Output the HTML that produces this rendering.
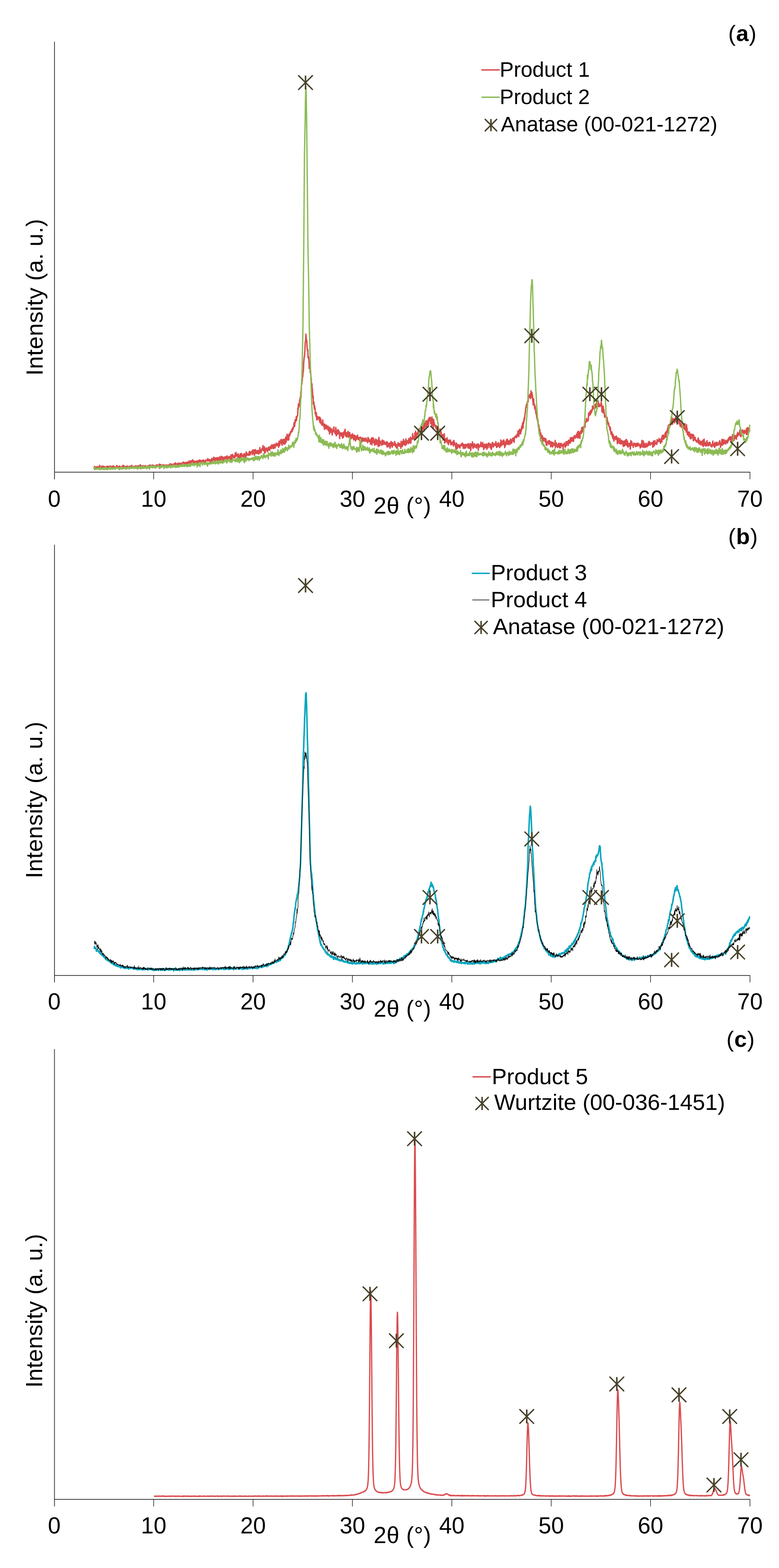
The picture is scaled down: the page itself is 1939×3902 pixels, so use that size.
<!DOCTYPE html><html><head><meta charset="utf-8"><title>XRD patterns</title><style>html,body{margin:0;padding:0;background:#fff;overflow:hidden}svg{display:block}</style></head><body>
<svg width="1939" height="3902" viewBox="0 0 1939 3902" font-family="'Liberation Sans', Arial, sans-serif">
<rect width="1939" height="3902" fill="#fff"/>
<polyline fill="none" stroke="#DB4C4E" stroke-width="3.5" stroke-linejoin="round" points="233.4,1163.6 234.0,1164.5 234.6,1163.6 235.2,1160.6 235.8,1164.6 236.4,1163.8 237.0,1162.0 237.6,1164.0 238.2,1163.6 238.8,1163.5 239.4,1163.0 240.0,1163.9 240.6,1161.6 241.2,1162.6 241.8,1162.1 242.4,1164.0 243.0,1163.0 243.6,1162.4 244.2,1161.5 244.8,1162.4 245.4,1162.9 246.0,1162.4 246.6,1165.2 247.2,1164.7 247.8,1158.0 248.4,1159.5 249.0,1162.6 249.6,1162.1 250.2,1163.2 250.8,1163.2 251.4,1166.7 252.0,1160.8 252.6,1162.2 253.2,1166.5 253.8,1164.0 254.4,1164.0 255.0,1161.9 255.6,1159.8 256.2,1163.1 256.8,1163.0 257.4,1160.6 258.0,1161.6 258.6,1162.6 259.2,1161.1 259.8,1162.6 260.4,1162.9 261.0,1162.8 261.6,1161.8 262.2,1163.8 262.8,1164.3 263.4,1163.3 264.0,1161.2 264.6,1164.0 265.2,1161.8 265.8,1164.3 266.4,1160.8 267.0,1164.3 267.6,1162.6 268.2,1160.4 268.8,1162.1 269.4,1162.8 270.0,1163.1 270.6,1160.9 271.2,1160.7 271.8,1163.0 272.4,1161.8 273.0,1163.0 273.6,1164.0 274.2,1159.6 274.8,1163.1 275.4,1164.8 276.0,1162.1 276.6,1161.1 277.2,1163.9 277.8,1163.0 278.4,1164.2 279.0,1161.9 279.6,1159.9 280.2,1162.3 280.8,1161.7 281.4,1163.9 282.0,1162.9 282.6,1159.6 283.2,1160.4 283.8,1164.1 284.4,1163.7 285.0,1161.3 285.6,1162.5 286.2,1163.3 286.8,1163.3 287.4,1164.0 288.0,1162.9 288.6,1162.3 289.2,1162.0 289.8,1164.3 290.4,1158.4 291.0,1162.2 291.6,1162.5 292.2,1159.8 292.8,1163.0 293.4,1161.2 294.0,1163.9 294.6,1162.1 295.2,1163.6 295.8,1164.6 296.4,1163.0 297.0,1160.8 297.6,1159.6 298.2,1165.5 298.8,1162.1 299.4,1161.1 300.0,1162.6 300.6,1162.0 301.2,1163.8 301.8,1162.3 302.4,1162.3 303.0,1161.0 303.6,1163.1 304.2,1160.4 304.8,1163.4 305.4,1165.0 306.0,1159.5 306.6,1157.8 307.2,1163.3 307.8,1166.8 308.4,1160.4 309.0,1159.9 309.6,1163.2 310.2,1160.7 310.8,1161.3 311.4,1161.5 312.0,1163.1 312.6,1161.4 313.2,1162.6 313.8,1161.8 314.4,1160.6 315.0,1161.5 315.6,1160.4 316.2,1162.1 316.8,1160.1 317.4,1160.1 318.0,1164.7 318.6,1162.0 319.2,1161.9 319.8,1163.0 320.4,1161.3 321.0,1161.6 321.6,1162.8 322.2,1162.5 322.8,1159.9 323.4,1163.5 324.0,1160.9 324.6,1160.1 325.2,1160.3 325.8,1161.2 326.4,1164.9 327.0,1159.8 327.6,1162.2 328.2,1158.0 328.8,1161.9 329.4,1163.5 330.0,1161.4 330.6,1160.7 331.2,1162.3 331.8,1163.1 332.4,1163.0 333.0,1165.4 333.6,1162.2 334.2,1160.7 334.8,1161.5 335.4,1161.6 336.0,1161.9 336.6,1161.7 337.2,1162.0 337.8,1158.7 338.4,1163.2 339.0,1160.6 339.6,1159.5 340.2,1162.8 340.8,1164.0 341.4,1162.5 342.0,1161.9 342.6,1159.9 343.2,1166.8 343.8,1163.2 344.4,1159.5 345.0,1160.1 345.6,1161.7 346.2,1158.7 346.8,1161.8 347.4,1160.6 348.0,1163.7 348.6,1163.2 349.2,1156.5 349.8,1161.5 350.4,1158.4 351.0,1163.4 351.6,1161.7 352.2,1162.4 352.8,1159.4 353.4,1164.7 354.0,1165.0 354.6,1159.3 355.2,1162.0 355.8,1160.0 356.4,1161.2 357.0,1158.9 357.6,1164.7 358.2,1159.4 358.8,1160.6 359.4,1162.1 360.0,1159.9 360.6,1160.7 361.2,1160.1 361.8,1160.8 362.4,1158.9 363.0,1160.2 363.6,1160.6 364.2,1160.4 364.8,1161.1 365.4,1160.4 366.0,1162.3 366.6,1160.3 367.2,1160.6 367.8,1159.6 368.4,1159.9 369.0,1158.5 369.6,1161.8 370.2,1158.6 370.8,1159.4 371.4,1161.4 372.0,1161.5 372.6,1160.0 373.2,1156.9 373.8,1161.5 374.4,1161.1 375.0,1157.9 375.6,1162.1 376.2,1159.2 376.8,1158.4 377.4,1160.7 378.0,1160.2 378.6,1160.9 379.2,1157.4 379.8,1163.9 380.4,1159.3 381.0,1157.4 381.6,1161.5 382.2,1159.7 382.8,1160.9 383.4,1159.6 384.0,1160.1 384.6,1160.7 385.2,1158.8 385.8,1161.5 386.4,1159.3 387.0,1158.5 387.6,1160.2 388.2,1160.9 388.8,1159.6 389.4,1158.3 390.0,1161.2 390.6,1156.6 391.2,1157.9 391.8,1160.0 392.4,1157.2 393.0,1159.9 393.6,1159.7 394.2,1161.5 394.8,1158.0 395.4,1158.5 396.0,1160.3 396.6,1154.8 397.2,1165.7 397.8,1158.2 398.4,1158.1 399.0,1161.2 399.6,1159.4 400.2,1155.9 400.8,1160.6 401.4,1161.0 402.0,1158.4 402.6,1158.7 403.2,1160.2 403.8,1157.4 404.4,1160.0 405.0,1159.5 405.6,1157.8 406.2,1156.3 406.8,1158.6 407.4,1157.2 408.0,1160.9 408.6,1159.2 409.2,1160.4 409.8,1159.1 410.4,1159.3 411.0,1157.2 411.6,1160.0 412.2,1162.2 412.8,1158.0 413.4,1157.4 414.0,1158.2 414.6,1157.5 415.2,1157.0 415.8,1158.7 416.4,1157.8 417.0,1161.2 417.6,1158.3 418.2,1158.9 418.8,1160.1 419.4,1157.5 420.0,1161.0 420.6,1156.7 421.2,1156.3 421.8,1157.2 422.4,1157.6 423.0,1154.9 423.6,1157.7 424.2,1154.3 424.8,1160.6 425.4,1157.5 426.0,1156.2 426.6,1155.6 427.2,1156.7 427.8,1156.9 428.4,1155.2 429.0,1155.4 429.6,1156.9 430.2,1156.1 430.8,1159.1 431.4,1159.5 432.0,1157.1 432.6,1158.0 433.2,1154.1 433.8,1158.2 434.4,1156.7 435.0,1157.8 435.6,1160.1 436.2,1151.7 436.8,1157.1 437.4,1154.1 438.0,1157.7 438.6,1153.5 439.2,1155.2 439.8,1156.6 440.4,1157.4 441.0,1156.2 441.6,1154.2 442.2,1154.7 442.8,1157.7 443.4,1155.7 444.0,1151.9 444.6,1157.4 445.2,1156.4 445.8,1157.3 446.4,1154.5 447.0,1157.0 447.6,1152.7 448.2,1156.3 448.8,1153.8 449.4,1156.3 450.0,1157.0 450.6,1153.0 451.2,1154.4 451.8,1154.5 452.4,1157.0 453.0,1155.9 453.6,1151.4 454.2,1155.1 454.8,1155.6 455.4,1158.7 456.0,1149.9 456.6,1152.4 457.2,1156.6 457.8,1150.3 458.4,1150.6 459.0,1154.4 459.6,1155.5 460.2,1151.5 460.8,1154.2 461.4,1153.1 462.0,1156.3 462.6,1152.6 463.2,1154.9 463.8,1150.3 464.4,1151.9 465.0,1152.0 465.6,1154.8 466.2,1153.4 466.8,1150.1 467.4,1153.5 468.0,1153.6 468.6,1151.3 469.2,1150.9 469.8,1151.0 470.4,1147.2 471.0,1151.7 471.6,1151.7 472.2,1148.9 472.8,1152.8 473.4,1147.5 474.0,1149.4 474.6,1149.5 475.2,1155.5 475.8,1146.5 476.4,1151.8 477.0,1152.6 477.6,1151.1 478.2,1153.1 478.8,1147.5 479.4,1144.2 480.0,1151.8 480.6,1146.8 481.2,1148.9 481.8,1146.6 482.4,1152.2 483.0,1151.6 483.6,1147.6 484.2,1151.6 484.8,1149.5 485.4,1148.8 486.0,1149.2 486.6,1148.5 487.2,1150.5 487.8,1149.6 488.4,1147.9 489.0,1151.3 489.6,1147.0 490.2,1149.3 490.8,1149.6 491.4,1152.2 492.0,1147.0 492.6,1152.8 493.2,1148.6 493.8,1147.6 494.4,1146.3 495.0,1149.5 495.6,1148.0 496.2,1145.0 496.8,1144.8 497.4,1146.2 498.0,1145.8 498.6,1150.4 499.2,1151.1 499.8,1149.7 500.4,1148.3 501.0,1146.1 501.6,1147.3 502.2,1149.5 502.8,1152.7 503.4,1149.4 504.0,1146.2 504.6,1147.0 505.2,1145.5 505.8,1144.6 506.4,1146.2 507.0,1147.1 507.6,1151.4 508.2,1146.6 508.8,1150.0 509.4,1151.0 510.0,1146.5 510.6,1150.5 511.2,1148.0 511.8,1144.9 512.4,1146.7 513.0,1146.0 513.6,1145.2 514.2,1145.2 514.8,1146.1 515.4,1146.8 516.0,1143.2 516.6,1145.5 517.2,1141.3 517.8,1146.1 518.4,1147.0 519.0,1145.7 519.6,1145.9 520.2,1146.7 520.8,1143.2 521.4,1144.3 522.0,1146.3 522.6,1147.5 523.2,1145.8 523.8,1151.7 524.4,1144.3 525.0,1147.2 525.6,1147.9 526.2,1144.0 526.8,1142.0 527.4,1140.9 528.0,1144.6 528.6,1147.1 529.2,1144.7 529.8,1144.4 530.4,1142.8 531.0,1145.3 531.6,1137.7 532.2,1144.2 532.8,1143.6 533.4,1139.6 534.0,1149.5 534.6,1139.4 535.2,1140.2 535.8,1139.7 536.4,1146.2 537.0,1140.4 537.6,1144.8 538.2,1144.5 538.8,1143.5 539.4,1138.9 540.0,1140.8 540.6,1147.3 541.2,1138.7 541.8,1140.0 542.4,1141.8 543.0,1144.5 543.6,1142.8 544.2,1144.1 544.8,1138.9 545.4,1144.6 546.0,1143.4 546.6,1137.1 547.2,1146.1 547.8,1148.2 548.4,1139.2 549.0,1141.5 549.6,1145.3 550.2,1136.9 550.8,1135.3 551.4,1137.3 552.0,1139.3 552.6,1139.2 553.2,1142.6 553.8,1141.5 554.4,1137.0 555.0,1142.2 555.6,1146.0 556.2,1143.9 556.8,1143.2 557.4,1140.3 558.0,1143.0 558.6,1137.2 559.2,1142.2 559.8,1139.6 560.4,1143.1 561.0,1141.1 561.6,1136.4 562.2,1139.9 562.8,1143.1 563.4,1136.0 564.0,1137.6 564.6,1136.9 565.2,1134.6 565.8,1141.9 566.4,1142.9 567.0,1141.2 567.6,1139.5 568.2,1138.5 568.8,1139.3 569.4,1136.3 570.0,1141.1 570.6,1141.5 571.2,1141.0 571.8,1136.5 572.4,1138.3 573.0,1137.4 573.6,1143.3 574.2,1138.3 574.8,1131.9 575.4,1138.8 576.0,1143.2 576.6,1139.5 577.2,1140.0 577.8,1137.3 578.4,1131.0 579.0,1131.4 579.6,1133.1 580.2,1136.4 580.8,1137.7 581.4,1138.7 582.0,1135.4 582.6,1139.4 583.2,1135.4 583.8,1134.0 584.4,1138.8 585.0,1133.2 585.6,1127.4 586.2,1132.5 586.8,1136.0 587.4,1125.9 588.0,1134.4 588.6,1134.3 589.2,1130.8 589.8,1130.5 590.4,1133.6 591.0,1133.2 591.6,1138.9 592.2,1136.0 592.8,1129.6 593.4,1131.8 594.0,1136.7 594.6,1140.4 595.2,1135.5 595.8,1135.1 596.4,1140.0 597.0,1133.8 597.6,1132.8 598.2,1129.1 598.8,1131.9 599.4,1140.5 600.0,1128.8 600.6,1133.3 601.2,1128.6 601.8,1133.4 602.4,1135.8 603.0,1132.0 603.6,1135.0 604.2,1134.9 604.8,1133.9 605.4,1137.9 606.0,1134.8 606.6,1131.1 607.2,1129.8 607.8,1129.1 608.4,1133.3 609.0,1130.6 609.6,1140.5 610.2,1137.5 610.8,1130.6 611.4,1130.1 612.0,1136.6 612.6,1124.7 613.2,1129.3 613.8,1133.8 614.4,1127.5 615.0,1128.9 615.6,1129.2 616.2,1132.4 616.8,1130.5 617.4,1131.3 618.0,1131.8 618.6,1129.8 619.2,1133.3 619.8,1127.0 620.4,1124.5 621.0,1123.2 621.6,1123.6 622.2,1127.1 622.8,1132.3 623.4,1129.3 624.0,1126.6 624.6,1124.8 625.2,1126.5 625.8,1126.8 626.4,1126.2 627.0,1123.1 627.6,1126.2 628.2,1131.2 628.8,1120.1 629.4,1126.6 630.0,1120.0 630.6,1127.8 631.2,1124.5 631.8,1119.7 632.4,1127.2 633.0,1133.0 633.6,1127.0 634.2,1130.5 634.8,1126.1 635.4,1118.7 636.0,1127.8 636.6,1124.5 637.2,1120.7 637.8,1128.4 638.4,1126.6 639.0,1123.6 639.6,1128.4 640.2,1122.1 640.8,1127.3 641.4,1121.6 642.0,1126.7 642.6,1120.7 643.2,1129.8 643.8,1125.3 644.4,1129.3 645.0,1121.2 645.6,1122.3 646.2,1126.8 646.8,1113.8 647.4,1119.7 648.0,1127.1 648.6,1124.9 649.2,1126.6 649.8,1121.8 650.4,1124.8 651.0,1120.0 651.6,1117.5 652.2,1116.1 652.8,1120.1 653.4,1120.0 654.0,1119.5 654.6,1108.7 655.2,1114.1 655.8,1119.3 656.4,1122.1 657.0,1118.8 657.6,1117.5 658.2,1112.0 658.8,1127.8 659.4,1116.0 660.0,1126.1 660.6,1125.5 661.2,1120.5 661.8,1117.1 662.4,1119.5 663.0,1114.5 663.6,1119.6 664.2,1118.4 664.8,1120.2 665.4,1121.5 666.0,1124.2 666.6,1116.0 667.2,1121.2 667.8,1114.0 668.4,1113.3 669.0,1114.1 669.6,1112.5 670.2,1119.8 670.8,1119.3 671.4,1120.4 672.0,1115.2 672.6,1116.1 673.2,1112.5 673.8,1110.0 674.4,1116.0 675.0,1115.0 675.6,1109.4 676.2,1115.8 676.8,1106.4 677.4,1112.3 678.0,1110.2 678.6,1110.4 679.2,1107.9 679.8,1115.7 680.4,1114.0 681.0,1116.2 681.6,1111.7 682.2,1105.8 682.8,1109.2 683.4,1105.7 684.0,1112.0 684.6,1114.8 685.2,1111.0 685.8,1107.0 686.4,1107.7 687.0,1109.8 687.6,1102.8 688.2,1109.0 688.8,1109.0 689.4,1105.7 690.0,1105.9 690.6,1108.1 691.2,1103.8 691.8,1103.5 692.4,1109.8 693.0,1107.2 693.6,1113.0 694.2,1101.7 694.8,1098.1 695.4,1109.1 696.0,1108.9 696.6,1101.5 697.2,1098.2 697.8,1103.8 698.4,1096.3 699.0,1101.9 699.6,1093.8 700.2,1101.7 700.8,1093.4 701.4,1101.0 702.0,1108.2 702.6,1100.2 703.2,1104.3 703.8,1097.9 704.4,1096.4 705.0,1093.4 705.6,1104.0 706.2,1098.8 706.8,1105.7 707.4,1093.1 708.0,1096.8 708.6,1097.7 709.2,1103.1 709.8,1104.5 710.4,1093.1 711.0,1090.4 711.6,1087.2 712.2,1100.4 712.8,1093.4 713.4,1090.3 714.0,1092.4 714.6,1080.4 715.2,1083.5 715.8,1095.0 716.4,1091.9 717.0,1090.0 717.6,1083.9 718.2,1090.4 718.8,1095.1 719.4,1080.0 720.0,1084.8 720.6,1081.5 721.2,1084.2 721.8,1081.3 722.4,1079.3 723.0,1074.5 723.6,1077.3 724.2,1073.1 724.8,1074.0 725.4,1073.0 726.0,1075.1 726.6,1067.8 727.2,1067.6 727.8,1072.9 728.4,1065.3 729.0,1063.7 729.6,1067.7 730.2,1063.5 730.8,1061.3 731.4,1060.6 732.0,1052.2 732.6,1058.9 733.2,1061.6 733.8,1056.5 734.4,1044.7 735.0,1051.8 735.6,1044.4 736.2,1045.8 736.8,1045.5 737.4,1037.0 738.0,1046.7 738.6,1037.3 739.2,1038.5 739.8,1034.7 740.4,1034.9 741.0,1030.9 741.6,1014.9 742.2,1019.0 742.8,1005.2 743.4,1010.0 744.0,1012.2 744.6,1009.6 745.2,1007.8 745.8,996.0 746.4,995.4 747.0,990.2 747.6,991.5 748.2,988.5 748.8,974.3 749.4,989.1 750.0,965.3 750.6,957.6 751.2,956.1 751.8,950.8 752.4,944.0 753.0,932.6 753.6,937.3 754.2,924.9 754.8,926.2 755.4,919.5 756.0,900.5 756.6,895.6 757.2,888.9 757.8,887.9 758.4,879.5 759.0,870.5 759.6,854.0 760.2,849.5 760.8,846.9 761.4,831.5 762.0,838.4 762.6,843.8 763.2,846.5 763.8,851.4 764.4,866.5 765.0,869.6 765.6,872.5 766.2,870.1 766.8,890.2 767.4,887.0 768.0,888.4 768.6,895.2 769.2,899.7 769.8,917.1 770.4,912.3 771.0,915.8 771.6,909.3 772.2,927.4 772.8,923.3 773.4,927.8 774.0,941.7 774.6,940.8 775.2,955.3 775.8,963.0 776.4,954.9 777.0,968.6 777.6,967.6 778.2,980.7 778.8,991.1 779.4,985.6 780.0,1006.0 780.6,1000.5 781.2,1000.4 781.8,1009.0 782.4,1016.7 783.0,1009.4 783.6,1019.0 784.2,1015.3 784.8,1030.3 785.4,1027.7 786.0,1027.1 786.6,1036.1 787.2,1026.7 787.8,1032.6 788.4,1044.6 789.0,1036.4 789.6,1044.6 790.2,1040.1 790.8,1036.8 791.4,1039.9 792.0,1042.3 792.6,1040.7 793.2,1039.5 793.8,1040.5 794.4,1037.8 795.0,1046.2 795.6,1048.2 796.2,1050.6 796.8,1039.1 797.4,1052.3 798.0,1049.1 798.6,1043.1 799.2,1051.1 799.8,1055.3 800.4,1054.5 801.0,1056.2 801.6,1057.9 802.2,1058.3 802.8,1054.5 803.4,1045.3 804.0,1052.3 804.6,1058.2 805.2,1054.9 805.8,1061.0 806.4,1062.1 807.0,1059.1 807.6,1068.5 808.2,1055.3 808.8,1065.0 809.4,1058.8 810.0,1057.9 810.6,1065.0 811.2,1059.8 811.8,1067.4 812.4,1058.1 813.0,1064.4 813.6,1060.7 814.2,1064.0 814.8,1063.8 815.4,1060.6 816.0,1069.6 816.6,1060.8 817.2,1062.4 817.8,1071.8 818.4,1072.5 819.0,1071.4 819.6,1070.2 820.2,1079.8 820.8,1063.4 821.4,1065.9 822.0,1065.0 822.6,1074.4 823.2,1071.7 823.8,1076.0 824.4,1075.6 825.0,1070.1 825.6,1067.5 826.2,1067.0 826.8,1082.6 827.4,1076.9 828.0,1075.4 828.6,1071.2 829.2,1072.1 829.8,1071.7 830.4,1072.1 831.0,1062.3 831.6,1073.8 832.2,1072.6 832.8,1076.1 833.4,1075.9 834.0,1079.3 834.6,1075.4 835.2,1079.5 835.8,1063.7 836.4,1070.9 837.0,1084.7 837.6,1070.9 838.2,1075.6 838.8,1080.6 839.4,1073.2 840.0,1081.1 840.6,1071.0 841.2,1068.9 841.8,1071.9 842.4,1070.5 843.0,1078.6 843.6,1077.3 844.2,1080.6 844.8,1074.2 845.4,1091.5 846.0,1079.0 846.6,1079.4 847.2,1081.9 847.8,1078.7 848.4,1077.0 849.0,1080.6 849.6,1084.7 850.2,1083.6 850.8,1085.1 851.4,1078.0 852.0,1077.1 852.6,1090.5 853.2,1079.9 853.8,1083.4 854.4,1084.8 855.0,1088.2 855.6,1075.0 856.2,1079.3 856.8,1079.6 857.4,1080.4 858.0,1070.4 858.6,1081.6 859.2,1068.3 859.8,1083.7 860.4,1084.9 861.0,1085.3 861.6,1076.8 862.2,1087.2 862.8,1078.6 863.4,1076.9 864.0,1078.2 864.6,1078.9 865.2,1083.9 865.8,1087.1 866.4,1073.2 867.0,1080.8 867.6,1087.8 868.2,1084.5 868.8,1086.1 869.4,1076.6 870.0,1088.4 870.6,1076.5 871.2,1085.0 871.8,1090.7 872.4,1093.3 873.0,1087.0 873.6,1088.9 874.2,1082.0 874.8,1082.8 875.4,1090.8 876.0,1085.5 876.6,1085.1 877.2,1079.3 877.8,1086.9 878.4,1089.5 879.0,1083.0 879.6,1084.6 880.2,1094.6 880.8,1088.3 881.4,1086.4 882.0,1082.7 882.6,1085.4 883.2,1087.4 883.8,1095.1 884.4,1086.2 885.0,1097.5 885.6,1085.1 886.2,1088.0 886.8,1093.7 887.4,1088.9 888.0,1086.3 888.6,1089.7 889.2,1092.5 889.8,1082.7 890.4,1089.5 891.0,1090.3 891.6,1089.1 892.2,1094.4 892.8,1088.6 893.4,1089.6 894.0,1091.6 894.6,1094.8 895.2,1090.6 895.8,1098.6 896.4,1087.7 897.0,1097.8 897.6,1088.1 898.2,1091.4 898.8,1093.9 899.4,1101.7 900.0,1096.6 900.6,1090.8 901.2,1098.6 901.8,1091.9 902.4,1089.4 903.0,1095.1 903.6,1093.6 904.2,1097.6 904.8,1091.0 905.4,1095.3 906.0,1096.6 906.6,1095.1 907.2,1093.8 907.8,1090.9 908.4,1098.2 909.0,1094.9 909.6,1096.6 910.2,1093.0 910.8,1094.7 911.4,1090.1 912.0,1095.3 912.6,1098.4 913.2,1095.6 913.8,1099.1 914.4,1096.8 915.0,1101.6 915.6,1094.8 916.2,1088.5 916.8,1097.8 917.4,1095.2 918.0,1091.8 918.6,1099.1 919.2,1097.5 919.8,1098.4 920.4,1095.1 921.0,1097.6 921.6,1097.9 922.2,1104.8 922.8,1094.0 923.4,1097.1 924.0,1098.9 924.6,1089.8 925.2,1090.5 925.8,1107.2 926.4,1090.0 927.0,1100.4 927.6,1094.3 928.2,1094.8 928.8,1089.6 929.4,1094.5 930.0,1102.0 930.6,1092.6 931.2,1101.4 931.8,1100.3 932.4,1107.9 933.0,1097.1 933.6,1104.8 934.2,1103.3 934.8,1098.3 935.4,1092.4 936.0,1106.3 936.6,1093.9 937.2,1097.9 937.8,1103.9 938.4,1105.0 939.0,1096.6 939.6,1100.1 940.2,1099.2 940.8,1105.5 941.4,1111.3 942.0,1092.7 942.6,1104.6 943.2,1088.4 943.8,1100.8 944.4,1096.0 945.0,1109.4 945.6,1101.6 946.2,1097.8 946.8,1098.9 947.4,1098.7 948.0,1102.0 948.6,1100.6 949.2,1104.2 949.8,1108.1 950.4,1104.6 951.0,1096.4 951.6,1094.9 952.2,1098.7 952.8,1106.6 953.4,1100.9 954.0,1099.6 954.6,1103.2 955.2,1096.8 955.8,1098.2 956.4,1105.3 957.0,1102.1 957.6,1101.6 958.2,1105.0 958.8,1101.3 959.4,1101.0 960.0,1102.1 960.6,1106.6 961.2,1104.4 961.8,1099.3 962.4,1103.1 963.0,1107.2 963.6,1112.4 964.2,1099.8 964.8,1106.1 965.4,1103.7 966.0,1108.3 966.6,1106.8 967.2,1111.2 967.8,1107.3 968.4,1102.9 969.0,1103.0 969.6,1107.1 970.2,1107.1 970.8,1115.5 971.4,1112.6 972.0,1100.8 972.6,1107.2 973.2,1100.3 973.8,1099.0 974.4,1109.0 975.0,1108.3 975.6,1101.8 976.2,1112.9 976.8,1102.1 977.4,1101.4 978.0,1109.0 978.6,1107.3 979.2,1105.7 979.8,1106.2 980.4,1107.4 981.0,1105.9 981.6,1105.8 982.2,1098.7 982.8,1101.1 983.4,1109.2 984.0,1103.8 984.6,1108.9 985.2,1111.8 985.8,1105.3 986.4,1107.9 987.0,1115.3 987.6,1109.6 988.2,1114.4 988.8,1113.1 989.4,1109.8 990.0,1106.2 990.6,1103.1 991.2,1102.0 991.8,1108.5 992.4,1108.3 993.0,1105.6 993.6,1109.7 994.2,1103.6 994.8,1110.6 995.4,1106.0 996.0,1105.5 996.6,1105.5 997.2,1105.0 997.8,1115.6 998.4,1098.3 999.0,1105.6 999.6,1109.9 1000.2,1107.6 1000.8,1103.1 1001.4,1111.5 1002.0,1099.6 1002.6,1098.4 1003.2,1106.1 1003.8,1097.3 1004.4,1093.2 1005.0,1106.8 1005.6,1106.0 1006.2,1105.6 1006.8,1100.1 1007.4,1102.7 1008.0,1097.5 1008.6,1108.8 1009.2,1104.4 1009.8,1103.9 1010.4,1091.9 1011.0,1103.5 1011.6,1106.1 1012.2,1104.6 1012.8,1102.4 1013.4,1098.6 1014.0,1096.8 1014.6,1100.6 1015.2,1099.3 1015.8,1098.3 1016.4,1095.6 1017.0,1104.1 1017.6,1091.1 1018.2,1095.9 1018.8,1093.1 1019.4,1099.9 1020.0,1101.4 1020.6,1100.2 1021.2,1097.7 1021.8,1087.7 1022.4,1103.1 1023.0,1095.7 1023.6,1092.5 1024.2,1092.7 1024.8,1090.7 1025.4,1093.8 1026.0,1092.9 1026.6,1089.5 1027.2,1079.0 1027.8,1090.2 1028.4,1092.1 1029.0,1091.9 1029.6,1088.3 1030.2,1090.7 1030.8,1092.9 1031.4,1085.4 1032.0,1093.9 1032.6,1077.3 1033.2,1079.9 1033.8,1081.0 1034.4,1073.0 1035.0,1079.2 1035.6,1089.2 1036.2,1088.5 1036.8,1082.3 1037.4,1089.4 1038.0,1081.6 1038.6,1077.3 1039.2,1080.1 1039.8,1077.6 1040.4,1081.1 1041.0,1069.6 1041.6,1080.9 1042.2,1073.2 1042.8,1078.8 1043.4,1066.7 1044.0,1071.4 1044.6,1073.2 1045.2,1076.5 1045.8,1065.7 1046.4,1079.0 1047.0,1072.7 1047.6,1067.2 1048.2,1075.0 1048.8,1069.1 1049.4,1073.5 1050.0,1078.5 1050.6,1070.5 1051.2,1063.7 1051.8,1063.6 1052.4,1067.9 1053.0,1065.9 1053.6,1059.9 1054.2,1060.1 1054.8,1065.9 1055.4,1073.4 1056.0,1048.9 1056.6,1064.4 1057.2,1059.3 1057.8,1063.5 1058.4,1063.3 1059.0,1058.7 1059.6,1053.0 1060.2,1050.5 1060.8,1047.5 1061.4,1061.7 1062.0,1054.2 1062.6,1051.9 1063.2,1052.5 1063.8,1046.8 1064.4,1054.0 1065.0,1058.3 1065.6,1056.8 1066.2,1043.2 1066.8,1056.6 1067.4,1045.8 1068.0,1039.6 1068.6,1042.2 1069.2,1042.7 1069.8,1046.7 1070.4,1041.2 1071.0,1038.4 1071.6,1044.0 1072.2,1054.3 1072.8,1041.7 1073.4,1047.5 1074.0,1046.0 1074.6,1058.9 1075.2,1037.7 1075.8,1052.8 1076.4,1042.2 1077.0,1046.4 1077.6,1049.7 1078.2,1066.4 1078.8,1048.3 1079.4,1043.8 1080.0,1059.9 1080.6,1050.6 1081.2,1054.4 1081.8,1056.5 1082.4,1058.1 1083.0,1057.9 1083.6,1061.1 1084.2,1062.7 1084.8,1066.0 1085.4,1060.9 1086.0,1060.4 1086.6,1059.9 1087.2,1068.8 1087.8,1066.7 1088.4,1070.6 1089.0,1071.5 1089.6,1078.0 1090.2,1071.8 1090.8,1075.4 1091.4,1067.0 1092.0,1068.6 1092.6,1073.2 1093.2,1069.8 1093.8,1079.9 1094.4,1071.1 1095.0,1078.8 1095.6,1067.6 1096.2,1074.9 1096.8,1079.5 1097.4,1080.7 1098.0,1074.2 1098.6,1084.1 1099.2,1089.0 1099.8,1088.1 1100.4,1082.7 1101.0,1083.7 1101.6,1081.6 1102.2,1090.8 1102.8,1095.2 1103.4,1086.7 1104.0,1082.0 1104.6,1091.4 1105.2,1094.4 1105.8,1079.3 1106.4,1093.0 1107.0,1102.8 1107.6,1097.3 1108.2,1096.6 1108.8,1096.5 1109.4,1100.0 1110.0,1091.6 1110.6,1092.5 1111.2,1098.5 1111.8,1094.2 1112.4,1098.7 1113.0,1089.6 1113.6,1101.7 1114.2,1102.4 1114.8,1099.2 1115.4,1100.1 1116.0,1106.7 1116.6,1095.2 1117.2,1096.2 1117.8,1095.7 1118.4,1098.8 1119.0,1096.5 1119.6,1101.2 1120.2,1098.5 1120.8,1095.2 1121.4,1095.0 1122.0,1107.0 1122.6,1101.7 1123.2,1101.2 1123.8,1102.5 1124.4,1102.2 1125.0,1106.0 1125.6,1105.3 1126.2,1100.6 1126.8,1099.8 1127.4,1098.9 1128.0,1098.4 1128.6,1109.8 1129.2,1100.3 1129.8,1095.9 1130.4,1101.1 1131.0,1101.6 1131.6,1106.6 1132.2,1101.8 1132.8,1108.0 1133.4,1107.7 1134.0,1111.6 1134.6,1115.6 1135.2,1118.6 1135.8,1112.7 1136.4,1102.6 1137.0,1105.9 1137.6,1108.8 1138.2,1116.4 1138.8,1110.8 1139.4,1113.1 1140.0,1107.5 1140.6,1110.7 1141.2,1111.2 1141.8,1106.5 1142.4,1111.5 1143.0,1112.8 1143.6,1107.8 1144.2,1112.6 1144.8,1115.2 1145.4,1108.8 1146.0,1108.6 1146.6,1107.4 1147.2,1106.1 1147.8,1109.3 1148.4,1107.1 1149.0,1107.5 1149.6,1105.7 1150.2,1102.6 1150.8,1105.1 1151.4,1110.2 1152.0,1104.1 1152.6,1106.3 1153.2,1115.7 1153.8,1113.6 1154.4,1106.2 1155.0,1111.5 1155.6,1106.5 1156.2,1115.7 1156.8,1106.8 1157.4,1109.5 1158.0,1114.8 1158.6,1105.9 1159.2,1114.6 1159.8,1106.0 1160.4,1110.3 1161.0,1108.1 1161.6,1109.0 1162.2,1110.0 1162.8,1109.1 1163.4,1105.3 1164.0,1113.0 1164.6,1112.4 1165.2,1114.7 1165.8,1115.1 1166.4,1104.1 1167.0,1114.7 1167.6,1114.8 1168.2,1107.4 1168.8,1113.8 1169.4,1115.6 1170.0,1107.5 1170.6,1104.1 1171.2,1108.2 1171.8,1121.0 1172.4,1110.7 1173.0,1104.8 1173.6,1108.7 1174.2,1105.7 1174.8,1108.1 1175.4,1110.2 1176.0,1099.5 1176.6,1111.3 1177.2,1115.5 1177.8,1109.0 1178.4,1108.3 1179.0,1114.3 1179.6,1104.7 1180.2,1104.8 1180.8,1104.3 1181.4,1109.2 1182.0,1111.5 1182.6,1109.5 1183.2,1112.1 1183.8,1113.3 1184.4,1111.9 1185.0,1106.7 1185.6,1108.9 1186.2,1115.0 1186.8,1105.7 1187.4,1108.9 1188.0,1108.3 1188.6,1109.2 1189.2,1105.6 1189.8,1104.5 1190.4,1120.3 1191.0,1113.8 1191.6,1107.1 1192.2,1109.7 1192.8,1112.7 1193.4,1108.6 1194.0,1112.5 1194.6,1107.5 1195.2,1108.6 1195.8,1109.7 1196.4,1108.2 1197.0,1100.1 1197.6,1110.1 1198.2,1111.1 1198.8,1111.9 1199.4,1106.0 1200.0,1111.4 1200.6,1110.8 1201.2,1102.8 1201.8,1101.1 1202.4,1111.9 1203.0,1106.1 1203.6,1113.9 1204.2,1118.5 1204.8,1107.5 1205.4,1107.0 1206.0,1109.7 1206.6,1112.5 1207.2,1105.1 1207.8,1114.7 1208.4,1113.7 1209.0,1112.3 1209.6,1107.4 1210.2,1113.2 1210.8,1113.0 1211.4,1104.6 1212.0,1117.9 1212.6,1108.1 1213.2,1110.8 1213.8,1107.1 1214.4,1110.8 1215.0,1113.8 1215.6,1105.8 1216.2,1102.3 1216.8,1107.1 1217.4,1103.6 1218.0,1105.8 1218.6,1108.3 1219.2,1108.5 1219.8,1113.9 1220.4,1104.5 1221.0,1110.0 1221.6,1106.4 1222.2,1113.9 1222.8,1118.6 1223.4,1109.5 1224.0,1115.0 1224.6,1105.9 1225.2,1101.5 1225.8,1102.7 1226.4,1101.4 1227.0,1103.9 1227.6,1106.7 1228.2,1112.3 1228.8,1110.4 1229.4,1109.4 1230.0,1105.7 1230.6,1104.3 1231.2,1107.4 1231.8,1107.7 1232.4,1108.1 1233.0,1108.5 1233.6,1106.4 1234.2,1098.9 1234.8,1102.1 1235.4,1103.2 1236.0,1113.6 1236.6,1104.7 1237.2,1109.2 1237.8,1112.4 1238.4,1107.6 1239.0,1104.5 1239.6,1104.8 1240.2,1101.7 1240.8,1107.2 1241.4,1110.5 1242.0,1108.1 1242.6,1108.8 1243.2,1108.5 1243.8,1113.8 1244.4,1102.7 1245.0,1105.9 1245.6,1108.1 1246.2,1110.3 1246.8,1094.8 1247.4,1102.7 1248.0,1103.9 1248.6,1100.3 1249.2,1108.1 1249.8,1105.3 1250.4,1102.6 1251.0,1097.3 1251.6,1098.5 1252.2,1099.8 1252.8,1105.7 1253.4,1098.6 1254.0,1094.8 1254.6,1097.3 1255.2,1100.8 1255.8,1110.2 1256.4,1113.6 1257.0,1100.8 1257.6,1106.7 1258.2,1108.5 1258.8,1107.9 1259.4,1101.8 1260.0,1096.5 1260.6,1099.9 1261.2,1093.8 1261.8,1102.6 1262.4,1104.7 1263.0,1093.1 1263.6,1100.8 1264.2,1102.1 1264.8,1106.0 1265.4,1106.4 1266.0,1103.7 1266.6,1097.1 1267.2,1098.2 1267.8,1104.9 1268.4,1096.8 1269.0,1099.0 1269.6,1105.8 1270.2,1099.3 1270.8,1092.5 1271.4,1096.9 1272.0,1100.8 1272.6,1096.9 1273.2,1102.6 1273.8,1102.8 1274.4,1094.0 1275.0,1094.3 1275.6,1095.7 1276.2,1090.4 1276.8,1096.9 1277.4,1094.0 1278.0,1097.8 1278.6,1091.1 1279.2,1089.2 1279.8,1101.0 1280.4,1088.0 1281.0,1088.7 1281.6,1087.4 1282.2,1088.7 1282.8,1085.2 1283.4,1088.5 1284.0,1084.7 1284.6,1085.3 1285.2,1088.2 1285.8,1089.0 1286.4,1087.2 1287.0,1080.6 1287.6,1085.2 1288.2,1081.9 1288.8,1081.2 1289.4,1072.6 1290.0,1083.2 1290.6,1078.5 1291.2,1086.4 1291.8,1080.3 1292.4,1070.9 1293.0,1068.6 1293.6,1079.6 1294.2,1068.7 1294.8,1075.0 1295.4,1069.0 1296.0,1079.3 1296.6,1068.2 1297.2,1073.7 1297.8,1071.4 1298.4,1061.2 1299.0,1060.3 1299.6,1067.4 1300.2,1058.6 1300.8,1052.5 1301.4,1060.5 1302.0,1064.9 1302.6,1050.0 1303.2,1054.5 1303.8,1044.5 1304.4,1049.3 1305.0,1039.0 1305.6,1043.7 1306.2,1036.8 1306.8,1030.0 1307.4,1028.6 1308.0,1021.4 1308.6,1015.1 1309.2,1012.1 1309.8,1013.8 1310.4,1006.1 1311.0,1010.6 1311.6,1008.4 1312.2,1005.6 1312.8,998.4 1313.4,998.7 1314.0,996.0 1314.6,1000.5 1315.2,988.4 1315.8,988.9 1316.4,988.3 1317.0,987.5 1317.6,983.3 1318.2,982.7 1318.8,989.4 1319.4,980.5 1320.0,987.1 1320.6,991.8 1321.2,987.7 1321.8,972.7 1322.4,985.2 1323.0,984.4 1323.6,985.8 1324.2,976.9 1324.8,990.2 1325.4,983.3 1326.0,997.0 1326.6,998.2 1327.2,1007.6 1327.8,995.7 1328.4,992.5 1329.0,1007.2 1329.6,1009.0 1330.2,1005.8 1330.8,1017.1 1331.4,1016.9 1332.0,1010.5 1332.6,1018.2 1333.2,1020.9 1333.8,1025.7 1334.4,1030.2 1335.0,1029.0 1335.6,1034.3 1336.2,1041.1 1336.8,1041.0 1337.4,1043.2 1338.0,1046.3 1338.6,1050.5 1339.2,1045.1 1339.8,1058.3 1340.4,1055.8 1341.0,1064.3 1341.6,1059.7 1342.2,1073.9 1342.8,1073.2 1343.4,1067.9 1344.0,1077.6 1344.6,1074.6 1345.2,1088.4 1345.8,1083.5 1346.4,1078.6 1347.0,1084.7 1347.6,1084.7 1348.2,1091.6 1348.8,1088.8 1349.4,1090.5 1350.0,1083.9 1350.6,1093.7 1351.2,1100.6 1351.8,1094.7 1352.4,1092.4 1353.0,1094.1 1353.6,1089.8 1354.2,1095.6 1354.8,1090.5 1355.4,1096.2 1356.0,1094.8 1356.6,1093.3 1357.2,1100.0 1357.8,1091.3 1358.4,1098.1 1359.0,1092.9 1359.6,1107.1 1360.2,1108.0 1360.8,1103.5 1361.4,1108.3 1362.0,1103.0 1362.6,1103.1 1363.2,1099.2 1363.8,1097.5 1364.4,1102.2 1365.0,1099.6 1365.6,1100.3 1366.2,1105.5 1366.8,1102.1 1367.4,1096.2 1368.0,1102.2 1368.6,1100.1 1369.2,1102.3 1369.8,1099.1 1370.4,1109.0 1371.0,1112.1 1371.6,1099.6 1372.2,1107.2 1372.8,1107.1 1373.4,1100.3 1374.0,1105.4 1374.6,1111.1 1375.2,1108.9 1375.8,1112.3 1376.4,1100.9 1377.0,1102.8 1377.6,1107.3 1378.2,1107.7 1378.8,1106.5 1379.4,1105.0 1380.0,1105.1 1380.6,1104.4 1381.2,1108.9 1381.8,1095.9 1382.4,1114.0 1383.0,1105.4 1383.6,1101.8 1384.2,1110.0 1384.8,1102.2 1385.4,1109.7 1386.0,1106.6 1386.6,1110.7 1387.2,1111.6 1387.8,1113.8 1388.4,1106.6 1389.0,1107.5 1389.6,1108.7 1390.2,1103.1 1390.8,1111.3 1391.4,1109.5 1392.0,1103.6 1392.6,1114.0 1393.2,1114.7 1393.8,1103.8 1394.4,1111.5 1395.0,1114.2 1395.6,1112.5 1396.2,1105.1 1396.8,1103.3 1397.4,1108.5 1398.0,1106.8 1398.6,1108.6 1399.2,1108.1 1399.8,1110.5 1400.4,1105.8 1401.0,1107.2 1401.6,1119.8 1402.2,1106.8 1402.8,1110.1 1403.4,1108.0 1404.0,1107.4 1404.6,1102.4 1405.2,1108.0 1405.8,1105.3 1406.4,1108.5 1407.0,1113.3 1407.6,1105.1 1408.2,1107.2 1408.8,1099.3 1409.4,1103.7 1410.0,1109.4 1410.6,1102.1 1411.2,1099.2 1411.8,1102.4 1412.4,1100.3 1413.0,1099.6 1413.6,1098.6 1414.2,1108.4 1414.8,1095.6 1415.4,1097.2 1416.0,1096.0 1416.6,1103.6 1417.2,1096.5 1417.8,1103.1 1418.4,1097.6 1419.0,1096.4 1419.6,1089.7 1420.2,1101.2 1420.8,1097.8 1421.4,1096.8 1422.0,1094.1 1422.6,1092.4 1423.2,1088.2 1423.8,1097.7 1424.4,1094.3 1425.0,1091.0 1425.6,1089.4 1426.2,1092.4 1426.8,1091.0 1427.4,1098.5 1428.0,1094.1 1428.6,1087.3 1429.2,1084.5 1429.8,1088.1 1430.4,1084.5 1431.0,1088.6 1431.6,1089.6 1432.2,1090.2 1432.8,1088.7 1433.4,1085.4 1434.0,1088.6 1434.6,1081.0 1435.2,1084.3 1435.8,1088.1 1436.4,1085.0 1437.0,1077.0 1437.6,1077.0 1438.2,1074.2 1438.8,1090.0 1439.4,1073.3 1440.0,1079.5 1440.6,1088.3 1441.2,1084.1 1441.8,1084.6 1442.4,1075.2 1443.0,1080.5 1443.6,1090.9 1444.2,1075.4 1444.8,1076.8 1445.4,1072.6 1446.0,1073.3 1446.6,1074.5 1447.2,1078.6 1447.8,1066.8 1448.4,1063.4 1449.0,1069.6 1449.6,1069.6 1450.2,1074.5 1450.8,1070.3 1451.4,1062.9 1452.0,1067.7 1452.6,1069.3 1453.2,1064.3 1453.8,1060.2 1454.4,1063.9 1455.0,1057.7 1455.6,1049.1 1456.2,1063.1 1456.8,1049.1 1457.4,1052.3 1458.0,1050.9 1458.6,1049.4 1459.2,1048.2 1459.8,1041.2 1460.4,1049.3 1461.0,1045.5 1461.6,1044.1 1462.2,1047.5 1462.8,1046.2 1463.4,1045.9 1464.0,1046.9 1464.6,1038.7 1465.2,1027.8 1465.8,1034.9 1466.4,1032.7 1467.0,1031.8 1467.6,1027.5 1468.2,1025.1 1468.8,1032.3 1469.4,1032.2 1470.0,1021.3 1470.6,1028.4 1471.2,1024.1 1471.8,1022.2 1472.4,1026.6 1473.0,1022.2 1473.6,1019.0 1474.2,1021.1 1474.8,1010.4 1475.4,1016.3 1476.0,1016.1 1476.6,1010.7 1477.2,1017.3 1477.8,1016.9 1478.4,1011.8 1479.0,1013.1 1479.6,1016.3 1480.2,1017.4 1480.8,1007.9 1481.4,1012.4 1482.0,1015.1 1482.6,1009.4 1483.2,1005.2 1483.8,1004.6 1484.4,1006.0 1485.0,1002.0 1485.6,1016.0 1486.2,1003.0 1486.8,1007.1 1487.4,1005.7 1488.0,1007.5 1488.6,1002.3 1489.2,997.8 1489.8,1011.9 1490.4,1003.7 1491.0,1004.9 1491.6,1005.6 1492.2,1011.0 1492.8,1009.1 1493.4,1011.6 1494.0,1010.5 1494.6,1007.9 1495.2,1009.1 1495.8,1005.0 1496.4,1000.0 1497.0,1008.9 1497.6,1005.7 1498.2,1024.3 1498.8,1020.5 1499.4,1019.9 1500.0,1013.1 1500.6,1027.1 1501.2,1010.7 1501.8,1014.7 1502.4,1018.4 1503.0,1019.3 1503.6,1026.2 1504.2,1028.1 1504.8,1038.0 1505.4,1035.3 1506.0,1038.0 1506.6,1035.9 1507.2,1035.0 1507.8,1034.2 1508.4,1032.1 1509.0,1037.0 1509.6,1041.2 1510.2,1048.5 1510.8,1038.6 1511.4,1042.0 1512.0,1051.4 1512.6,1047.1 1513.2,1055.5 1513.8,1053.8 1514.4,1054.1 1515.0,1053.1 1515.6,1060.9 1516.2,1059.7 1516.8,1062.0 1517.4,1063.7 1518.0,1069.3 1518.6,1070.7 1519.2,1063.3 1519.8,1072.2 1520.4,1076.3 1521.0,1080.8 1521.6,1081.0 1522.2,1079.7 1522.8,1074.5 1523.4,1077.6 1524.0,1086.9 1524.6,1080.3 1525.2,1089.6 1525.8,1091.7 1526.4,1081.5 1527.0,1089.3 1527.6,1087.4 1528.2,1097.9 1528.8,1093.0 1529.4,1087.3 1530.0,1092.0 1530.6,1086.5 1531.2,1090.4 1531.8,1092.5 1532.4,1092.7 1533.0,1093.8 1533.6,1088.7 1534.2,1084.9 1534.8,1092.0 1535.4,1090.0 1536.0,1091.2 1536.6,1104.3 1537.2,1100.3 1537.8,1094.7 1538.4,1089.5 1539.0,1090.5 1539.6,1098.3 1540.2,1101.9 1540.8,1096.3 1541.4,1098.7 1542.0,1099.7 1542.6,1103.7 1543.2,1091.3 1543.8,1100.6 1544.4,1102.2 1545.0,1104.9 1545.6,1102.9 1546.2,1096.8 1546.8,1099.4 1547.4,1095.6 1548.0,1103.1 1548.6,1103.3 1549.2,1104.9 1549.8,1098.8 1550.4,1098.2 1551.0,1109.7 1551.6,1104.2 1552.2,1111.0 1552.8,1105.6 1553.4,1097.8 1554.0,1107.5 1554.6,1109.4 1555.2,1102.5 1555.8,1096.4 1556.4,1107.4 1557.0,1104.1 1557.6,1106.0 1558.2,1093.7 1558.8,1107.0 1559.4,1093.7 1560.0,1101.7 1560.6,1109.1 1561.2,1097.9 1561.8,1097.8 1562.4,1103.8 1563.0,1112.6 1563.6,1112.5 1564.2,1103.4 1564.8,1110.1 1565.4,1108.5 1566.0,1107.2 1566.6,1107.7 1567.2,1103.3 1567.8,1109.7 1568.4,1110.8 1569.0,1117.6 1569.6,1110.3 1570.2,1096.5 1570.8,1101.7 1571.4,1108.1 1572.0,1107.1 1572.6,1099.2 1573.2,1106.3 1573.8,1105.5 1574.4,1106.8 1575.0,1106.6 1575.6,1110.9 1576.2,1113.2 1576.8,1110.0 1577.4,1102.7 1578.0,1103.8 1578.6,1104.6 1579.2,1107.2 1579.8,1105.7 1580.4,1106.0 1581.0,1103.7 1581.6,1111.4 1582.2,1111.0 1582.8,1111.4 1583.4,1107.2 1584.0,1109.3 1584.6,1103.7 1585.2,1103.3 1585.8,1105.2 1586.4,1109.9 1587.0,1106.8 1587.6,1102.8 1588.2,1107.8 1588.8,1109.2 1589.4,1108.1 1590.0,1104.6 1590.6,1107.6 1591.2,1105.6 1591.8,1106.0 1592.4,1106.9 1593.0,1110.4 1593.6,1114.8 1594.2,1113.6 1594.8,1109.8 1595.4,1105.5 1596.0,1105.9 1596.6,1106.0 1597.2,1111.8 1597.8,1095.7 1598.4,1108.1 1599.0,1098.8 1599.6,1106.9 1600.2,1112.4 1600.8,1103.1 1601.4,1097.4 1602.0,1112.1 1602.6,1112.9 1603.2,1108.7 1603.8,1111.8 1604.4,1103.3 1605.0,1111.4 1605.6,1113.5 1606.2,1109.1 1606.8,1107.5 1607.4,1111.6 1608.0,1111.0 1608.6,1103.1 1609.2,1111.8 1609.8,1109.2 1610.4,1106.7 1611.0,1111.4 1611.6,1109.8 1612.2,1109.0 1612.8,1103.7 1613.4,1109.2 1614.0,1101.1 1614.6,1105.1 1615.2,1098.5 1615.8,1098.4 1616.4,1107.3 1617.0,1105.0 1617.6,1105.6 1618.2,1107.7 1618.8,1106.6 1619.4,1101.4 1620.0,1105.3 1620.6,1104.6 1621.2,1102.7 1621.8,1104.2 1622.4,1103.1 1623.0,1101.8 1623.6,1103.0 1624.2,1105.3 1624.8,1112.8 1625.4,1100.6 1626.0,1106.1 1626.6,1097.5 1627.2,1110.3 1627.8,1102.0 1628.4,1103.8 1629.0,1108.4 1629.6,1107.0 1630.2,1096.3 1630.8,1104.8 1631.4,1101.2 1632.0,1104.6 1632.6,1102.4 1633.2,1104.7 1633.8,1102.5 1634.4,1100.4 1635.0,1105.8 1635.6,1093.9 1636.2,1098.4 1636.8,1095.9 1637.4,1099.1 1638.0,1097.6 1638.6,1098.5 1639.2,1096.7 1639.8,1096.5 1640.4,1091.1 1641.0,1097.8 1641.6,1099.0 1642.2,1094.6 1642.8,1093.9 1643.4,1093.5 1644.0,1103.3 1644.6,1096.2 1645.2,1096.6 1645.8,1093.0 1646.4,1091.5 1647.0,1089.3 1647.6,1099.7 1648.2,1084.3 1648.8,1092.9 1649.4,1090.8 1650.0,1089.1 1650.6,1082.4 1651.2,1083.3 1651.8,1092.9 1652.4,1084.5 1653.0,1091.1 1653.6,1089.4 1654.2,1088.3 1654.8,1088.4 1655.4,1078.2 1656.0,1080.8 1656.6,1085.5 1657.2,1075.2 1657.8,1088.3 1658.4,1076.7 1659.0,1078.0 1659.6,1072.1 1660.2,1077.3 1660.8,1070.5 1661.4,1071.3 1662.0,1065.3 1662.6,1074.7 1663.2,1059.5 1663.8,1067.8 1664.4,1065.2 1665.0,1064.7 1665.6,1056.4 1666.2,1065.1 1666.8,1063.7 1667.4,1058.8 1668.0,1058.5 1668.6,1055.3 1669.2,1058.2 1669.8,1050.3 1670.4,1056.0 1671.0,1054.6 1671.6,1045.2 1672.2,1038.8 1672.8,1050.3 1673.4,1049.6 1674.0,1055.8 1674.6,1049.8 1675.2,1046.8 1675.8,1042.3 1676.4,1048.0 1677.0,1045.3 1677.6,1042.6 1678.2,1047.0 1678.8,1052.4 1679.4,1047.5 1680.0,1041.8 1680.6,1048.1 1681.2,1041.0 1681.8,1038.5 1682.4,1048.2 1683.0,1043.0 1683.6,1050.9 1684.2,1046.9 1684.8,1041.5 1685.4,1046.5 1686.0,1051.9 1686.6,1045.1 1687.2,1041.3 1687.8,1043.7 1688.4,1043.5 1689.0,1042.2 1689.6,1042.3 1690.2,1051.0 1690.8,1054.9 1691.4,1048.6 1692.0,1054.9 1692.6,1056.3 1693.2,1061.0 1693.8,1052.9 1694.4,1053.0 1695.0,1057.5 1695.6,1056.7 1696.2,1058.4 1696.8,1063.7 1697.4,1056.0 1698.0,1059.6 1698.6,1054.3 1699.2,1058.7 1699.8,1056.7 1700.4,1056.7 1701.0,1059.8 1701.6,1059.2 1702.2,1063.6 1702.8,1066.3 1703.4,1055.9 1704.0,1068.7 1704.6,1054.0 1705.2,1066.8 1705.8,1070.0 1706.4,1064.6 1707.0,1067.7 1707.6,1066.1 1708.2,1075.3 1708.8,1056.8 1709.4,1068.4 1710.0,1064.8 1710.6,1075.8 1711.2,1082.0 1711.8,1082.2 1712.4,1080.5 1713.0,1079.2 1713.6,1075.0 1714.2,1085.3 1714.8,1083.1 1715.4,1076.7 1716.0,1075.3 1716.6,1079.0 1717.2,1087.8 1717.8,1089.2 1718.4,1091.5 1719.0,1080.6 1719.6,1083.1 1720.2,1091.9 1720.8,1086.8 1721.4,1089.9 1722.0,1080.5 1722.6,1085.4 1723.2,1087.5 1723.8,1086.3 1724.4,1086.5 1725.0,1081.2 1725.6,1096.7 1726.2,1090.2 1726.8,1083.2 1727.4,1095.3 1728.0,1091.0 1728.6,1094.4 1729.2,1090.6 1729.8,1088.3 1730.4,1088.8 1731.0,1094.2 1731.6,1096.6 1732.2,1095.7 1732.8,1096.7 1733.4,1099.6 1734.0,1095.9 1734.6,1099.5 1735.2,1100.3 1735.8,1097.0 1736.4,1095.7 1737.0,1094.4 1737.6,1091.3 1738.2,1090.1 1738.8,1103.0 1739.4,1097.5 1740.0,1095.3 1740.6,1104.9 1741.2,1102.5 1741.8,1098.7 1742.4,1103.0 1743.0,1098.0 1743.6,1100.6 1744.2,1107.2 1744.8,1104.1 1745.4,1098.5 1746.0,1102.9 1746.6,1105.2 1747.2,1099.8 1747.8,1098.7 1748.4,1108.7 1749.0,1099.6 1749.6,1095.3 1750.2,1101.8 1750.8,1111.2 1751.4,1104.3 1752.0,1105.9 1752.6,1092.7 1753.2,1099.7 1753.8,1107.4 1754.4,1100.7 1755.0,1108.2 1755.6,1104.8 1756.2,1104.6 1756.8,1110.2 1757.4,1101.1 1758.0,1101.4 1758.6,1103.9 1759.2,1104.5 1759.8,1096.5 1760.4,1109.0 1761.0,1104.9 1761.6,1103.4 1762.2,1106.8 1762.8,1102.6 1763.4,1109.5 1764.0,1104.8 1764.6,1107.6 1765.2,1101.0 1765.8,1103.6 1766.4,1106.5 1767.0,1101.0 1767.6,1102.4 1768.2,1105.0 1768.8,1110.0 1769.4,1108.6 1770.0,1109.3 1770.6,1106.9 1771.2,1109.5 1771.8,1112.2 1772.4,1106.6 1773.0,1107.8 1773.6,1108.5 1774.2,1097.8 1774.8,1105.8 1775.4,1108.0 1776.0,1109.4 1776.6,1105.0 1777.2,1110.5 1777.8,1103.8 1778.4,1105.7 1779.0,1113.5 1779.6,1100.9 1780.2,1106.1 1780.8,1105.8 1781.4,1106.1 1782.0,1104.2 1782.6,1109.0 1783.2,1101.9 1783.8,1100.7 1784.4,1108.2 1785.0,1101.1 1785.6,1107.6 1786.2,1106.0 1786.8,1103.0 1787.4,1104.3 1788.0,1105.2 1788.6,1107.4 1789.2,1102.7 1789.8,1104.4 1790.4,1099.1 1791.0,1103.8 1791.6,1096.8 1792.2,1104.5 1792.8,1102.6 1793.4,1113.2 1794.0,1109.7 1794.6,1103.5 1795.2,1107.9 1795.8,1105.0 1796.4,1098.8 1797.0,1093.2 1797.6,1107.9 1798.2,1104.6 1798.8,1094.4 1799.4,1105.1 1800.0,1106.0 1800.6,1098.9 1801.2,1104.9 1801.8,1093.8 1802.4,1099.9 1803.0,1100.6 1803.6,1103.5 1804.2,1101.5 1804.8,1100.4 1805.4,1101.6 1806.0,1096.0 1806.6,1105.0 1807.2,1096.7 1807.8,1101.4 1808.4,1097.6 1809.0,1096.2 1809.6,1099.5 1810.2,1098.6 1810.8,1102.2 1811.4,1100.7 1812.0,1093.1 1812.6,1097.6 1813.2,1095.5 1813.8,1091.1 1814.4,1089.4 1815.0,1095.2 1815.6,1091.3 1816.2,1087.2 1816.8,1092.7 1817.4,1093.9 1818.0,1093.0 1818.6,1086.8 1819.2,1089.4 1819.8,1098.1 1820.4,1088.1 1821.0,1089.8 1821.6,1101.7 1822.2,1092.5 1822.8,1088.3 1823.4,1081.4 1824.0,1091.6 1824.6,1083.5 1825.2,1089.5 1825.8,1085.3 1826.4,1081.3 1827.0,1096.4 1827.6,1088.0 1828.2,1092.4 1828.8,1091.2 1829.4,1084.0 1830.0,1087.5 1830.6,1085.0 1831.2,1090.9 1831.8,1088.0 1832.4,1083.9 1833.0,1093.0 1833.6,1087.2 1834.2,1086.6 1834.8,1080.2 1835.4,1085.5 1836.0,1076.1 1836.6,1084.8 1837.2,1077.7 1837.8,1082.6 1838.4,1079.9 1839.0,1081.8 1839.6,1082.0 1840.2,1079.6 1840.8,1079.3 1841.4,1072.0 1842.0,1069.7 1842.6,1084.6 1843.2,1081.0 1843.8,1070.8 1844.4,1086.8 1845.0,1074.0 1845.6,1079.6 1846.2,1078.9 1846.8,1077.2 1847.4,1079.4 1848.0,1069.7 1848.6,1075.9 1849.2,1074.7 1849.8,1076.2 1850.4,1074.3 1851.0,1072.4 1851.6,1071.9 1852.2,1079.5 1852.8,1071.1 1853.4,1076.7 1854.0,1076.4 1854.6,1074.1 1855.2,1076.2 1855.8,1076.4 1856.4,1070.7 1857.0,1074.4 1857.6,1081.4 1858.2,1066.6 1858.8,1069.9 1859.4,1067.4 1860.0,1080.4 1860.6,1064.1 1861.2,1070.8 1861.8,1075.3 1862.4,1066.7 1863.0,1070.3 1863.6,1067.6 1864.2,1064.7 1864.8,1071.0 1865.4,1073.9 1866.0,1069.9"/>
<polyline fill="none" stroke="#8CBB55" stroke-width="3.3" stroke-linejoin="round" points="233.4,1166.8 234.0,1165.7 234.6,1165.9 235.2,1162.8 235.8,1169.2 236.4,1168.2 237.0,1166.0 237.6,1167.6 238.2,1166.8 238.8,1165.6 239.4,1167.9 240.0,1165.9 240.6,1165.9 241.2,1165.2 241.8,1167.0 242.4,1166.2 243.0,1167.2 243.6,1165.4 244.2,1166.5 244.8,1165.0 245.4,1167.6 246.0,1166.6 246.6,1166.8 247.2,1166.9 247.8,1164.7 248.4,1167.4 249.0,1169.3 249.6,1163.8 250.2,1163.6 250.8,1163.9 251.4,1167.4 252.0,1166.4 252.6,1167.8 253.2,1167.2 253.8,1166.5 254.4,1166.5 255.0,1165.9 255.6,1167.4 256.2,1164.4 256.8,1165.4 257.4,1166.4 258.0,1168.8 258.6,1164.9 259.2,1164.4 259.8,1165.2 260.4,1167.5 261.0,1165.6 261.6,1168.0 262.2,1163.2 262.8,1167.6 263.4,1167.5 264.0,1163.8 264.6,1166.1 265.2,1167.7 265.8,1166.0 266.4,1167.4 267.0,1169.4 267.6,1166.3 268.2,1165.4 268.8,1164.7 269.4,1166.8 270.0,1165.5 270.6,1165.5 271.2,1165.6 271.8,1166.7 272.4,1164.2 273.0,1163.4 273.6,1162.1 274.2,1167.5 274.8,1165.8 275.4,1168.0 276.0,1165.7 276.6,1164.6 277.2,1166.4 277.8,1165.5 278.4,1163.7 279.0,1164.3 279.6,1168.2 280.2,1166.1 280.8,1166.2 281.4,1165.1 282.0,1164.5 282.6,1166.9 283.2,1165.4 283.8,1164.4 284.4,1165.3 285.0,1164.1 285.6,1165.7 286.2,1167.1 286.8,1164.2 287.4,1167.6 288.0,1164.4 288.6,1165.6 289.2,1164.1 289.8,1165.0 290.4,1165.4 291.0,1164.7 291.6,1164.3 292.2,1164.3 292.8,1164.1 293.4,1162.9 294.0,1164.9 294.6,1165.9 295.2,1166.6 295.8,1166.2 296.4,1168.9 297.0,1165.7 297.6,1164.5 298.2,1168.0 298.8,1163.6 299.4,1166.6 300.0,1163.7 300.6,1165.6 301.2,1162.1 301.8,1166.4 302.4,1164.8 303.0,1163.6 303.6,1167.6 304.2,1166.2 304.8,1165.1 305.4,1163.9 306.0,1164.9 306.6,1164.7 307.2,1166.0 307.8,1166.1 308.4,1163.9 309.0,1164.1 309.6,1164.1 310.2,1162.8 310.8,1163.9 311.4,1164.7 312.0,1165.9 312.6,1166.8 313.2,1163.6 313.8,1165.6 314.4,1164.1 315.0,1167.9 315.6,1164.6 316.2,1165.5 316.8,1163.3 317.4,1163.4 318.0,1165.0 318.6,1164.0 319.2,1165.2 319.8,1162.2 320.4,1165.6 321.0,1163.2 321.6,1167.2 322.2,1164.1 322.8,1166.2 323.4,1162.3 324.0,1165.1 324.6,1163.1 325.2,1163.7 325.8,1164.5 326.4,1163.9 327.0,1164.8 327.6,1165.5 328.2,1165.4 328.8,1164.2 329.4,1162.2 330.0,1163.1 330.6,1164.0 331.2,1161.0 331.8,1165.4 332.4,1163.9 333.0,1163.8 333.6,1165.7 334.2,1165.2 334.8,1164.5 335.4,1162.6 336.0,1164.6 336.6,1164.6 337.2,1162.7 337.8,1165.7 338.4,1164.8 339.0,1160.9 339.6,1164.2 340.2,1162.0 340.8,1165.8 341.4,1165.2 342.0,1162.2 342.6,1162.5 343.2,1164.0 343.8,1163.5 344.4,1166.3 345.0,1165.0 345.6,1163.3 346.2,1164.7 346.8,1160.5 347.4,1164.2 348.0,1165.1 348.6,1163.4 349.2,1162.5 349.8,1164.5 350.4,1166.8 351.0,1163.9 351.6,1161.7 352.2,1165.9 352.8,1160.5 353.4,1164.3 354.0,1162.5 354.6,1164.9 355.2,1162.0 355.8,1165.5 356.4,1163.9 357.0,1160.5 357.6,1160.1 358.2,1162.8 358.8,1165.4 359.4,1163.4 360.0,1163.3 360.6,1162.8 361.2,1164.4 361.8,1163.8 362.4,1163.6 363.0,1161.5 363.6,1165.0 364.2,1165.3 364.8,1160.9 365.4,1166.8 366.0,1164.2 366.6,1162.1 367.2,1159.8 367.8,1164.0 368.4,1163.8 369.0,1161.9 369.6,1159.8 370.2,1164.7 370.8,1161.8 371.4,1162.0 372.0,1167.5 372.6,1166.3 373.2,1164.3 373.8,1161.9 374.4,1163.7 375.0,1158.8 375.6,1162.8 376.2,1161.3 376.8,1160.4 377.4,1159.8 378.0,1163.4 378.6,1162.6 379.2,1162.7 379.8,1163.8 380.4,1161.0 381.0,1160.3 381.6,1159.3 382.2,1161.8 382.8,1163.6 383.4,1162.0 384.0,1163.4 384.6,1160.2 385.2,1161.4 385.8,1160.9 386.4,1160.0 387.0,1165.3 387.6,1163.6 388.2,1160.8 388.8,1160.8 389.4,1162.0 390.0,1159.6 390.6,1162.8 391.2,1159.8 391.8,1161.4 392.4,1160.2 393.0,1161.1 393.6,1159.6 394.2,1159.2 394.8,1160.2 395.4,1160.7 396.0,1161.3 396.6,1162.0 397.2,1164.5 397.8,1163.2 398.4,1161.3 399.0,1163.0 399.6,1160.5 400.2,1164.2 400.8,1162.7 401.4,1159.3 402.0,1163.0 402.6,1163.1 403.2,1156.9 403.8,1160.3 404.4,1160.8 405.0,1158.2 405.6,1159.7 406.2,1159.9 406.8,1162.4 407.4,1162.0 408.0,1166.1 408.6,1160.8 409.2,1163.5 409.8,1161.5 410.4,1161.9 411.0,1159.3 411.6,1158.0 412.2,1160.0 412.8,1162.7 413.4,1164.1 414.0,1162.3 414.6,1162.1 415.2,1159.7 415.8,1163.9 416.4,1163.6 417.0,1160.2 417.6,1161.1 418.2,1159.3 418.8,1163.7 419.4,1161.8 420.0,1160.9 420.6,1161.7 421.2,1161.8 421.8,1160.2 422.4,1158.7 423.0,1158.6 423.6,1157.8 424.2,1161.7 424.8,1164.8 425.4,1157.8 426.0,1161.0 426.6,1161.5 427.2,1159.0 427.8,1161.1 428.4,1158.7 429.0,1162.8 429.6,1159.6 430.2,1160.8 430.8,1161.8 431.4,1159.8 432.0,1157.3 432.6,1159.5 433.2,1161.9 433.8,1160.3 434.4,1160.8 435.0,1158.4 435.6,1160.6 436.2,1161.6 436.8,1160.3 437.4,1163.7 438.0,1159.8 438.6,1158.2 439.2,1157.1 439.8,1162.2 440.4,1159.9 441.0,1161.9 441.6,1160.8 442.2,1162.9 442.8,1162.2 443.4,1159.1 444.0,1160.3 444.6,1161.8 445.2,1157.4 445.8,1162.4 446.4,1161.9 447.0,1161.4 447.6,1159.2 448.2,1160.1 448.8,1157.3 449.4,1159.5 450.0,1158.2 450.6,1159.5 451.2,1158.3 451.8,1159.7 452.4,1161.4 453.0,1156.6 453.6,1160.8 454.2,1155.2 454.8,1154.8 455.4,1158.7 456.0,1158.9 456.6,1159.7 457.2,1155.6 457.8,1158.6 458.4,1158.9 459.0,1161.0 459.6,1158.4 460.2,1159.5 460.8,1156.6 461.4,1158.0 462.0,1157.5 462.6,1159.7 463.2,1156.3 463.8,1156.6 464.4,1159.3 465.0,1161.6 465.6,1158.8 466.2,1158.6 466.8,1157.2 467.4,1160.0 468.0,1158.9 468.6,1161.2 469.2,1158.4 469.8,1155.8 470.4,1156.5 471.0,1155.6 471.6,1155.0 472.2,1160.0 472.8,1159.0 473.4,1154.9 474.0,1160.9 474.6,1157.7 475.2,1155.3 475.8,1157.9 476.4,1156.9 477.0,1155.5 477.6,1153.0 478.2,1157.0 478.8,1157.5 479.4,1151.6 480.0,1157.9 480.6,1158.0 481.2,1155.7 481.8,1156.8 482.4,1156.0 483.0,1154.8 483.6,1155.7 484.2,1159.2 484.8,1153.4 485.4,1156.8 486.0,1156.6 486.6,1154.7 487.2,1155.2 487.8,1153.2 488.4,1154.3 489.0,1156.0 489.6,1156.6 490.2,1154.0 490.8,1162.2 491.4,1154.6 492.0,1156.0 492.6,1155.2 493.2,1154.8 493.8,1158.3 494.4,1154.5 495.0,1158.3 495.6,1157.8 496.2,1153.1 496.8,1157.5 497.4,1153.9 498.0,1161.0 498.6,1154.3 499.2,1153.1 499.8,1151.0 500.4,1152.2 501.0,1153.7 501.6,1152.7 502.2,1152.2 502.8,1153.3 503.4,1154.3 504.0,1157.8 504.6,1150.9 505.2,1153.4 505.8,1152.4 506.4,1151.2 507.0,1151.6 507.6,1152.4 508.2,1155.8 508.8,1153.8 509.4,1153.0 510.0,1155.4 510.6,1154.7 511.2,1153.5 511.8,1154.8 512.4,1152.1 513.0,1155.2 513.6,1154.8 514.2,1152.8 514.8,1151.0 515.4,1157.0 516.0,1153.7 516.6,1160.3 517.2,1152.0 517.8,1155.3 518.4,1152.3 519.0,1153.8 519.6,1155.1 520.2,1151.3 520.8,1152.8 521.4,1153.4 522.0,1153.2 522.6,1154.2 523.2,1155.1 523.8,1154.7 524.4,1153.3 525.0,1151.9 525.6,1150.0 526.2,1150.9 526.8,1151.3 527.4,1154.0 528.0,1151.5 528.6,1149.4 529.2,1153.7 529.8,1150.3 530.4,1150.3 531.0,1151.5 531.6,1153.1 532.2,1146.3 532.8,1149.3 533.4,1152.2 534.0,1150.9 534.6,1149.6 535.2,1150.3 535.8,1154.7 536.4,1150.4 537.0,1153.0 537.6,1153.1 538.2,1150.2 538.8,1152.2 539.4,1150.0 540.0,1149.6 540.6,1148.3 541.2,1152.9 541.8,1149.9 542.4,1149.4 543.0,1148.0 543.6,1154.9 544.2,1152.3 544.8,1150.1 545.4,1148.7 546.0,1146.6 546.6,1150.9 547.2,1150.8 547.8,1146.7 548.4,1152.8 549.0,1151.8 549.6,1147.5 550.2,1148.4 550.8,1148.6 551.4,1150.0 552.0,1149.2 552.6,1145.5 553.2,1152.9 553.8,1150.1 554.4,1152.3 555.0,1152.2 555.6,1148.6 556.2,1149.8 556.8,1150.7 557.4,1150.7 558.0,1148.3 558.6,1147.2 559.2,1148.7 559.8,1146.5 560.4,1147.1 561.0,1143.3 561.6,1148.5 562.2,1145.7 562.8,1146.8 563.4,1147.9 564.0,1148.8 564.6,1152.6 565.2,1148.3 565.8,1144.2 566.4,1148.0 567.0,1146.1 567.6,1148.5 568.2,1145.7 568.8,1145.6 569.4,1146.0 570.0,1145.6 570.6,1142.5 571.2,1145.4 571.8,1147.0 572.4,1150.0 573.0,1146.1 573.6,1145.9 574.2,1148.2 574.8,1148.0 575.4,1150.7 576.0,1148.0 576.6,1146.4 577.2,1149.8 577.8,1150.2 578.4,1145.0 579.0,1146.6 579.6,1141.8 580.2,1145.1 580.8,1143.7 581.4,1145.4 582.0,1144.6 582.6,1145.4 583.2,1145.5 583.8,1147.0 584.4,1146.2 585.0,1144.1 585.6,1142.2 586.2,1148.7 586.8,1149.1 587.4,1144.2 588.0,1146.8 588.6,1141.3 589.2,1141.1 589.8,1144.4 590.4,1148.9 591.0,1142.3 591.6,1142.8 592.2,1149.2 592.8,1139.9 593.4,1146.5 594.0,1146.1 594.6,1144.2 595.2,1145.2 595.8,1151.6 596.4,1141.6 597.0,1143.7 597.6,1143.9 598.2,1142.6 598.8,1140.8 599.4,1148.6 600.0,1144.9 600.6,1139.6 601.2,1142.3 601.8,1145.2 602.4,1145.2 603.0,1140.2 603.6,1143.8 604.2,1144.7 604.8,1145.0 605.4,1144.9 606.0,1138.9 606.6,1148.7 607.2,1144.3 607.8,1148.5 608.4,1151.3 609.0,1143.1 609.6,1140.2 610.2,1145.8 610.8,1142.9 611.4,1142.1 612.0,1140.5 612.6,1147.8 613.2,1142.0 613.8,1139.4 614.4,1141.9 615.0,1139.9 615.6,1143.4 616.2,1141.8 616.8,1140.0 617.4,1144.5 618.0,1141.0 618.6,1144.7 619.2,1146.1 619.8,1141.6 620.4,1140.8 621.0,1143.0 621.6,1144.8 622.2,1142.3 622.8,1142.7 623.4,1142.1 624.0,1143.0 624.6,1143.8 625.2,1140.1 625.8,1140.6 626.4,1142.0 627.0,1140.0 627.6,1142.1 628.2,1143.1 628.8,1141.5 629.4,1139.8 630.0,1139.3 630.6,1146.2 631.2,1143.7 631.8,1138.1 632.4,1138.7 633.0,1146.2 633.6,1145.1 634.2,1141.2 634.8,1144.0 635.4,1136.4 636.0,1140.5 636.6,1142.5 637.2,1135.1 637.8,1138.0 638.4,1142.3 639.0,1143.2 639.6,1138.2 640.2,1140.6 640.8,1144.2 641.4,1138.4 642.0,1135.6 642.6,1139.1 643.2,1138.1 643.8,1142.8 644.4,1139.4 645.0,1136.5 645.6,1145.6 646.2,1137.1 646.8,1139.8 647.4,1140.3 648.0,1140.5 648.6,1138.6 649.2,1139.6 649.8,1137.6 650.4,1133.5 651.0,1136.9 651.6,1136.8 652.2,1136.8 652.8,1137.6 653.4,1135.2 654.0,1140.8 654.6,1141.4 655.2,1130.1 655.8,1136.6 656.4,1134.3 657.0,1128.5 657.6,1137.4 658.2,1134.2 658.8,1134.8 659.4,1133.8 660.0,1138.9 660.6,1139.2 661.2,1136.2 661.8,1137.3 662.4,1134.8 663.0,1135.4 663.6,1132.6 664.2,1134.8 664.8,1132.4 665.4,1135.5 666.0,1136.8 666.6,1135.1 667.2,1137.6 667.8,1142.1 668.4,1127.2 669.0,1133.6 669.6,1131.7 670.2,1131.9 670.8,1128.9 671.4,1133.1 672.0,1132.0 672.6,1130.7 673.2,1131.7 673.8,1130.5 674.4,1124.9 675.0,1135.4 675.6,1131.0 676.2,1128.8 676.8,1132.6 677.4,1129.3 678.0,1124.4 678.6,1133.9 679.2,1125.6 679.8,1130.1 680.4,1131.0 681.0,1134.8 681.6,1134.1 682.2,1130.6 682.8,1127.5 683.4,1128.4 684.0,1133.1 684.6,1135.2 685.2,1131.0 685.8,1127.0 686.4,1132.2 687.0,1127.5 687.6,1127.2 688.2,1127.5 688.8,1130.1 689.4,1128.9 690.0,1131.1 690.6,1131.9 691.2,1129.1 691.8,1119.5 692.4,1121.4 693.0,1127.4 693.6,1126.5 694.2,1133.7 694.8,1126.2 695.4,1125.5 696.0,1129.0 696.6,1129.2 697.2,1124.6 697.8,1126.8 698.4,1121.1 699.0,1121.6 699.6,1128.7 700.2,1119.5 700.8,1127.2 701.4,1126.1 702.0,1126.2 702.6,1126.5 703.2,1125.0 703.8,1115.6 704.4,1119.2 705.0,1120.3 705.6,1125.2 706.2,1117.9 706.8,1119.1 707.4,1120.0 708.0,1125.4 708.6,1115.7 709.2,1115.6 709.8,1122.0 710.4,1112.3 711.0,1120.3 711.6,1117.3 712.2,1113.1 712.8,1116.7 713.4,1114.4 714.0,1118.0 714.6,1118.3 715.2,1121.7 715.8,1116.2 716.4,1116.2 717.0,1113.5 717.6,1115.0 718.2,1118.2 718.8,1107.7 719.4,1116.1 720.0,1111.6 720.6,1113.3 721.2,1113.7 721.8,1115.1 722.4,1112.6 723.0,1110.0 723.6,1111.9 724.2,1110.4 724.8,1109.2 725.4,1110.1 726.0,1111.9 726.6,1108.8 727.2,1108.3 727.8,1102.9 728.4,1106.3 729.0,1099.8 729.6,1107.9 730.2,1101.6 730.8,1108.6 731.4,1113.6 732.0,1101.3 732.6,1106.4 733.2,1102.5 733.8,1098.4 734.4,1096.5 735.0,1100.4 735.6,1102.3 736.2,1097.8 736.8,1090.5 737.4,1091.2 738.0,1093.1 738.6,1097.5 739.2,1092.9 739.8,1091.9 740.4,1093.7 741.0,1087.4 741.6,1086.0 742.2,1083.6 742.8,1074.8 743.4,1077.8 744.0,1071.7 744.6,1066.9 745.2,1052.1 745.8,1045.4 746.4,1042.5 747.0,1028.7 747.6,1019.1 748.2,999.1 748.8,991.8 749.4,978.0 750.0,969.2 750.6,952.0 751.2,938.7 751.8,921.2 752.4,897.6 753.0,863.8 753.6,842.8 754.2,803.5 754.8,740.8 755.4,678.3 756.0,622.2 756.6,548.6 757.2,462.8 757.8,388.5 758.4,356.3 759.0,326.8 759.6,303.5 760.2,251.4 760.8,230.4 761.4,216.8 762.0,225.8 762.6,260.0 763.2,293.2 763.8,350.7 764.4,410.2 765.0,463.9 765.6,520.9 766.2,586.6 766.8,629.5 767.4,655.5 768.0,686.6 768.6,725.8 769.2,768.3 769.8,807.2 770.4,834.6 771.0,851.0 771.6,877.9 772.2,896.4 772.8,916.0 773.4,931.3 774.0,946.0 774.6,968.0 775.2,985.1 775.8,1002.6 776.4,1013.8 777.0,1025.5 777.6,1031.8 778.2,1043.2 778.8,1045.7 779.4,1053.6 780.0,1058.8 780.6,1068.4 781.2,1063.2 781.8,1060.8 782.4,1072.2 783.0,1067.0 783.6,1071.4 784.2,1072.3 784.8,1071.8 785.4,1080.8 786.0,1079.5 786.6,1076.6 787.2,1080.1 787.8,1079.6 788.4,1084.4 789.0,1082.3 789.6,1082.1 790.2,1083.7 790.8,1085.5 791.4,1089.0 792.0,1085.9 792.6,1089.6 793.2,1092.2 793.8,1099.5 794.4,1095.2 795.0,1082.9 795.6,1092.0 796.2,1093.1 796.8,1096.1 797.4,1100.9 798.0,1098.5 798.6,1088.6 799.2,1097.9 799.8,1097.6 800.4,1099.0 801.0,1102.6 801.6,1094.6 802.2,1102.4 802.8,1093.3 803.4,1099.4 804.0,1100.8 804.6,1107.6 805.2,1097.7 805.8,1094.6 806.4,1103.0 807.0,1098.7 807.6,1106.5 808.2,1099.0 808.8,1098.7 809.4,1106.2 810.0,1102.5 810.6,1105.8 811.2,1097.8 811.8,1108.5 812.4,1101.1 813.0,1106.1 813.6,1100.1 814.2,1098.5 814.8,1103.1 815.4,1104.7 816.0,1109.7 816.6,1105.7 817.2,1107.1 817.8,1107.1 818.4,1115.6 819.0,1102.5 819.6,1109.7 820.2,1105.1 820.8,1106.6 821.4,1104.1 822.0,1110.0 822.6,1102.0 823.2,1101.9 823.8,1105.9 824.4,1102.8 825.0,1109.3 825.6,1110.1 826.2,1104.6 826.8,1110.0 827.4,1105.2 828.0,1107.4 828.6,1107.7 829.2,1114.2 829.8,1108.0 830.4,1105.0 831.0,1105.1 831.6,1112.4 832.2,1102.8 832.8,1106.9 833.4,1107.4 834.0,1100.4 834.6,1107.3 835.2,1112.4 835.8,1109.9 836.4,1106.1 837.0,1111.6 837.6,1111.1 838.2,1116.3 838.8,1107.0 839.4,1108.3 840.0,1109.9 840.6,1109.4 841.2,1110.2 841.8,1109.6 842.4,1107.7 843.0,1104.7 843.6,1108.4 844.2,1105.6 844.8,1106.9 845.4,1108.7 846.0,1112.4 846.6,1113.6 847.2,1107.3 847.8,1111.9 848.4,1113.7 849.0,1110.9 849.6,1105.5 850.2,1103.9 850.8,1114.0 851.4,1114.5 852.0,1112.4 852.6,1107.9 853.2,1116.5 853.8,1115.8 854.4,1111.6 855.0,1111.1 855.6,1105.2 856.2,1114.5 856.8,1106.6 857.4,1114.5 858.0,1114.7 858.6,1112.6 859.2,1117.8 859.8,1111.4 860.4,1114.6 861.0,1115.4 861.6,1113.6 862.2,1111.4 862.8,1117.1 863.4,1114.5 864.0,1112.6 864.6,1112.8 865.2,1114.0 865.8,1121.4 866.4,1114.1 867.0,1113.0 867.6,1110.3 868.2,1109.4 868.8,1102.5 869.4,1102.4 870.0,1095.0 870.6,1088.4 871.2,1090.4 871.8,1102.2 872.4,1109.4 873.0,1110.4 873.6,1116.1 874.2,1115.7 874.8,1115.1 875.4,1118.0 876.0,1113.2 876.6,1120.1 877.2,1112.1 877.8,1117.3 878.4,1117.8 879.0,1114.8 879.6,1116.9 880.2,1111.4 880.8,1110.7 881.4,1115.3 882.0,1113.6 882.6,1118.3 883.2,1116.6 883.8,1118.9 884.4,1118.1 885.0,1117.9 885.6,1117.8 886.2,1116.5 886.8,1116.4 887.4,1125.1 888.0,1112.4 888.6,1117.9 889.2,1122.0 889.8,1120.1 890.4,1123.4 891.0,1120.5 891.6,1114.3 892.2,1117.5 892.8,1113.8 893.4,1121.8 894.0,1123.3 894.6,1116.7 895.2,1115.3 895.8,1103.7 896.4,1092.6 897.0,1093.4 897.6,1093.5 898.2,1104.2 898.8,1114.1 899.4,1119.7 900.0,1121.8 900.6,1116.2 901.2,1118.2 901.8,1118.8 902.4,1119.2 903.0,1107.7 903.6,1114.7 904.2,1120.0 904.8,1113.5 905.4,1118.2 906.0,1120.2 906.6,1110.9 907.2,1116.7 907.8,1118.2 908.4,1117.5 909.0,1112.3 909.6,1118.7 910.2,1115.7 910.8,1120.5 911.4,1119.2 912.0,1116.0 912.6,1118.5 913.2,1115.7 913.8,1115.7 914.4,1112.9 915.0,1117.5 915.6,1121.2 916.2,1119.0 916.8,1118.7 917.4,1116.7 918.0,1117.2 918.6,1121.7 919.2,1114.2 919.8,1126.4 920.4,1119.3 921.0,1127.1 921.6,1123.8 922.2,1118.6 922.8,1122.6 923.4,1121.2 924.0,1122.0 924.6,1123.3 925.2,1118.8 925.8,1118.7 926.4,1119.6 927.0,1116.5 927.6,1120.5 928.2,1122.4 928.8,1122.6 929.4,1122.7 930.0,1120.9 930.6,1125.1 931.2,1115.7 931.8,1121.5 932.4,1122.0 933.0,1126.3 933.6,1125.7 934.2,1126.4 934.8,1123.9 935.4,1127.3 936.0,1120.8 936.6,1124.6 937.2,1117.3 937.8,1130.4 938.4,1130.1 939.0,1122.8 939.6,1122.0 940.2,1117.9 940.8,1120.0 941.4,1125.7 942.0,1124.8 942.6,1120.5 943.2,1123.9 943.8,1123.5 944.4,1127.4 945.0,1128.3 945.6,1125.3 946.2,1126.5 946.8,1126.2 947.4,1119.4 948.0,1127.0 948.6,1126.3 949.2,1129.1 949.8,1120.6 950.4,1129.3 951.0,1124.8 951.6,1127.8 952.2,1131.0 952.8,1122.2 953.4,1122.8 954.0,1130.5 954.6,1123.5 955.2,1124.2 955.8,1129.4 956.4,1126.8 957.0,1130.0 957.6,1128.5 958.2,1127.4 958.8,1130.8 959.4,1134.7 960.0,1127.2 960.6,1132.4 961.2,1131.3 961.8,1127.9 962.4,1129.0 963.0,1124.4 963.6,1125.5 964.2,1128.4 964.8,1127.3 965.4,1131.7 966.0,1123.2 966.6,1126.5 967.2,1125.3 967.8,1126.9 968.4,1131.2 969.0,1123.4 969.6,1130.1 970.2,1125.3 970.8,1126.2 971.4,1130.5 972.0,1126.2 972.6,1129.3 973.2,1127.5 973.8,1126.5 974.4,1125.8 975.0,1121.3 975.6,1124.5 976.2,1127.5 976.8,1127.5 977.4,1121.9 978.0,1130.1 978.6,1128.7 979.2,1122.4 979.8,1123.2 980.4,1128.3 981.0,1120.7 981.6,1124.1 982.2,1126.3 982.8,1126.0 983.4,1126.2 984.0,1127.6 984.6,1123.6 985.2,1124.6 985.8,1133.1 986.4,1121.5 987.0,1124.6 987.6,1126.4 988.2,1123.9 988.8,1130.1 989.4,1126.2 990.0,1128.4 990.6,1117.0 991.2,1129.7 991.8,1129.6 992.4,1123.1 993.0,1130.0 993.6,1126.4 994.2,1128.6 994.8,1131.5 995.4,1125.7 996.0,1121.9 996.6,1125.2 997.2,1120.8 997.8,1122.4 998.4,1122.4 999.0,1122.5 999.6,1128.8 1000.2,1127.6 1000.8,1121.6 1001.4,1128.4 1002.0,1118.8 1002.6,1122.2 1003.2,1123.9 1003.8,1128.3 1004.4,1126.6 1005.0,1125.6 1005.6,1128.4 1006.2,1126.3 1006.8,1128.4 1007.4,1121.0 1008.0,1117.8 1008.6,1122.1 1009.2,1126.2 1009.8,1124.2 1010.4,1126.2 1011.0,1125.5 1011.6,1124.7 1012.2,1125.6 1012.8,1120.3 1013.4,1126.3 1014.0,1119.0 1014.6,1122.0 1015.2,1117.4 1015.8,1123.8 1016.4,1116.7 1017.0,1126.6 1017.6,1117.1 1018.2,1122.4 1018.8,1120.9 1019.4,1118.3 1020.0,1125.4 1020.6,1119.5 1021.2,1125.8 1021.8,1117.1 1022.4,1117.7 1023.0,1113.5 1023.6,1122.0 1024.2,1123.0 1024.8,1120.4 1025.4,1118.9 1026.0,1116.1 1026.6,1127.0 1027.2,1121.2 1027.8,1112.1 1028.4,1117.1 1029.0,1108.9 1029.6,1122.9 1030.2,1123.9 1030.8,1121.8 1031.4,1116.1 1032.0,1113.8 1032.6,1110.4 1033.2,1116.4 1033.8,1111.3 1034.4,1111.7 1035.0,1110.0 1035.6,1110.1 1036.2,1113.3 1036.8,1114.9 1037.4,1108.5 1038.0,1106.8 1038.6,1101.3 1039.2,1099.0 1039.8,1097.5 1040.4,1101.8 1041.0,1097.2 1041.6,1097.1 1042.2,1092.3 1042.8,1085.9 1043.4,1079.0 1044.0,1077.9 1044.6,1070.3 1045.2,1078.4 1045.8,1069.5 1046.4,1064.8 1047.0,1070.4 1047.6,1059.9 1048.2,1061.0 1048.8,1056.7 1049.4,1056.9 1050.0,1053.3 1050.6,1055.4 1051.2,1058.1 1051.8,1048.4 1052.4,1044.7 1053.0,1056.5 1053.6,1051.8 1054.2,1053.3 1054.8,1047.8 1055.4,1051.5 1056.0,1049.2 1056.6,1035.1 1057.2,1037.4 1057.8,1028.9 1058.4,1021.5 1059.0,1022.4 1059.6,1021.7 1060.2,1011.3 1060.8,1007.7 1061.4,1012.2 1062.0,1003.8 1062.6,1000.5 1063.2,990.1 1063.8,986.2 1064.4,982.8 1065.0,976.7 1065.6,970.2 1066.2,968.7 1066.8,957.6 1067.4,945.3 1068.0,940.3 1068.6,936.1 1069.2,935.1 1069.8,925.0 1070.4,924.0 1071.0,924.2 1071.6,922.6 1072.2,925.1 1072.8,931.4 1073.4,940.8 1074.0,944.4 1074.6,949.3 1075.2,961.4 1075.8,966.0 1076.4,983.4 1077.0,990.2 1077.6,996.1 1078.2,996.7 1078.8,1016.2 1079.4,1005.4 1080.0,1017.2 1080.6,1021.3 1081.2,1029.2 1081.8,1023.3 1082.4,1030.5 1083.0,1030.2 1083.6,1030.6 1084.2,1035.5 1084.8,1038.6 1085.4,1036.4 1086.0,1035.5 1086.6,1030.1 1087.2,1044.6 1087.8,1040.3 1088.4,1036.9 1089.0,1046.1 1089.6,1053.2 1090.2,1051.7 1090.8,1053.2 1091.4,1070.7 1092.0,1070.9 1092.6,1075.7 1093.2,1083.1 1093.8,1076.2 1094.4,1087.2 1095.0,1090.4 1095.6,1102.2 1096.2,1095.6 1096.8,1098.3 1097.4,1097.6 1098.0,1101.2 1098.6,1104.8 1099.2,1107.7 1099.8,1107.3 1100.4,1116.0 1101.0,1111.8 1101.6,1113.3 1102.2,1116.6 1102.8,1114.9 1103.4,1111.6 1104.0,1108.7 1104.6,1115.8 1105.2,1112.3 1105.8,1120.2 1106.4,1113.4 1107.0,1108.9 1107.6,1117.1 1108.2,1121.0 1108.8,1117.0 1109.4,1118.7 1110.0,1119.0 1110.6,1124.7 1111.2,1120.1 1111.8,1119.2 1112.4,1117.5 1113.0,1114.2 1113.6,1124.9 1114.2,1124.3 1114.8,1117.2 1115.4,1122.8 1116.0,1122.0 1116.6,1119.8 1117.2,1120.2 1117.8,1124.0 1118.4,1117.4 1119.0,1119.9 1119.6,1121.6 1120.2,1122.0 1120.8,1121.5 1121.4,1123.1 1122.0,1124.3 1122.6,1119.5 1123.2,1123.0 1123.8,1121.0 1124.4,1128.2 1125.0,1118.2 1125.6,1122.4 1126.2,1125.7 1126.8,1122.5 1127.4,1122.4 1128.0,1121.8 1128.6,1124.9 1129.2,1119.9 1129.8,1123.7 1130.4,1123.8 1131.0,1119.2 1131.6,1125.3 1132.2,1122.9 1132.8,1125.6 1133.4,1127.7 1134.0,1126.0 1134.6,1120.9 1135.2,1126.2 1135.8,1119.7 1136.4,1122.7 1137.0,1131.1 1137.6,1125.6 1138.2,1131.0 1138.8,1125.3 1139.4,1126.0 1140.0,1122.4 1140.6,1129.5 1141.2,1125.8 1141.8,1128.8 1142.4,1128.4 1143.0,1128.9 1143.6,1128.4 1144.2,1127.4 1144.8,1127.7 1145.4,1125.7 1146.0,1121.1 1146.6,1130.0 1147.2,1135.4 1147.8,1132.3 1148.4,1136.6 1149.0,1130.7 1149.6,1126.0 1150.2,1126.1 1150.8,1131.8 1151.4,1130.6 1152.0,1128.9 1152.6,1132.0 1153.2,1126.7 1153.8,1131.3 1154.4,1128.7 1155.0,1130.2 1155.6,1133.6 1156.2,1129.3 1156.8,1134.3 1157.4,1134.2 1158.0,1127.4 1158.6,1137.5 1159.2,1125.9 1159.8,1129.7 1160.4,1132.5 1161.0,1122.7 1161.6,1133.5 1162.2,1133.9 1162.8,1129.8 1163.4,1131.1 1164.0,1130.9 1164.6,1129.6 1165.2,1133.8 1165.8,1129.1 1166.4,1130.2 1167.0,1131.6 1167.6,1133.2 1168.2,1134.0 1168.8,1125.7 1169.4,1123.9 1170.0,1130.1 1170.6,1130.3 1171.2,1127.0 1171.8,1131.6 1172.4,1132.6 1173.0,1131.8 1173.6,1136.0 1174.2,1127.3 1174.8,1130.7 1175.4,1136.9 1176.0,1132.9 1176.6,1127.1 1177.2,1131.4 1177.8,1134.6 1178.4,1137.5 1179.0,1132.9 1179.6,1134.6 1180.2,1127.2 1180.8,1130.0 1181.4,1134.7 1182.0,1127.7 1182.6,1130.6 1183.2,1124.8 1183.8,1135.6 1184.4,1130.4 1185.0,1132.7 1185.6,1126.0 1186.2,1126.7 1186.8,1136.8 1187.4,1129.8 1188.0,1129.2 1188.6,1132.6 1189.2,1132.7 1189.8,1124.6 1190.4,1127.8 1191.0,1131.1 1191.6,1131.0 1192.2,1132.1 1192.8,1129.6 1193.4,1130.1 1194.0,1131.7 1194.6,1128.8 1195.2,1128.3 1195.8,1129.2 1196.4,1131.0 1197.0,1130.5 1197.6,1129.4 1198.2,1130.2 1198.8,1130.8 1199.4,1132.0 1200.0,1132.2 1200.6,1126.8 1201.2,1134.1 1201.8,1125.8 1202.4,1132.7 1203.0,1128.7 1203.6,1132.8 1204.2,1134.4 1204.8,1124.9 1205.4,1132.9 1206.0,1131.8 1206.6,1129.5 1207.2,1132.2 1207.8,1129.3 1208.4,1131.3 1209.0,1127.5 1209.6,1133.4 1210.2,1132.8 1210.8,1133.3 1211.4,1128.8 1212.0,1136.8 1212.6,1137.2 1213.2,1130.6 1213.8,1129.5 1214.4,1129.6 1215.0,1133.1 1215.6,1134.1 1216.2,1128.4 1216.8,1124.3 1217.4,1132.3 1218.0,1130.7 1218.6,1131.4 1219.2,1132.4 1219.8,1127.2 1220.4,1131.0 1221.0,1129.8 1221.6,1131.9 1222.2,1134.6 1222.8,1130.7 1223.4,1127.9 1224.0,1134.7 1224.6,1132.9 1225.2,1130.0 1225.8,1124.8 1226.4,1127.8 1227.0,1131.0 1227.6,1132.3 1228.2,1128.9 1228.8,1131.9 1229.4,1128.5 1230.0,1129.1 1230.6,1132.2 1231.2,1129.6 1231.8,1130.9 1232.4,1133.2 1233.0,1134.0 1233.6,1128.5 1234.2,1129.5 1234.8,1126.1 1235.4,1126.1 1236.0,1131.3 1236.6,1128.6 1237.2,1124.3 1237.8,1131.9 1238.4,1127.5 1239.0,1129.2 1239.6,1131.5 1240.2,1131.4 1240.8,1130.0 1241.4,1123.7 1242.0,1131.9 1242.6,1128.2 1243.2,1125.5 1243.8,1122.9 1244.4,1134.3 1245.0,1130.5 1245.6,1130.3 1246.2,1131.9 1246.8,1129.7 1247.4,1125.2 1248.0,1132.1 1248.6,1133.1 1249.2,1131.5 1249.8,1134.8 1250.4,1136.0 1251.0,1127.2 1251.6,1128.3 1252.2,1132.6 1252.8,1130.3 1253.4,1130.4 1254.0,1132.7 1254.6,1132.0 1255.2,1128.1 1255.8,1129.9 1256.4,1127.2 1257.0,1128.8 1257.6,1125.8 1258.2,1123.0 1258.8,1127.7 1259.4,1127.3 1260.0,1132.1 1260.6,1134.2 1261.2,1129.1 1261.8,1130.5 1262.4,1126.9 1263.0,1125.8 1263.6,1127.9 1264.2,1127.8 1264.8,1129.6 1265.4,1128.9 1266.0,1133.9 1266.6,1127.7 1267.2,1122.9 1267.8,1128.6 1268.4,1126.0 1269.0,1128.7 1269.6,1131.7 1270.2,1125.8 1270.8,1127.5 1271.4,1129.4 1272.0,1124.5 1272.6,1128.2 1273.2,1129.2 1273.8,1129.9 1274.4,1130.8 1275.0,1128.8 1275.6,1128.2 1276.2,1122.1 1276.8,1117.6 1277.4,1123.1 1278.0,1130.9 1278.6,1126.4 1279.2,1118.2 1279.8,1124.1 1280.4,1126.5 1281.0,1118.8 1281.6,1126.7 1282.2,1120.6 1282.8,1127.8 1283.4,1124.0 1284.0,1134.1 1284.6,1118.8 1285.2,1123.9 1285.8,1117.5 1286.4,1126.0 1287.0,1121.9 1287.6,1123.9 1288.2,1120.4 1288.8,1115.3 1289.4,1116.3 1290.0,1113.4 1290.6,1113.2 1291.2,1116.3 1291.8,1118.6 1292.4,1117.0 1293.0,1114.9 1293.6,1110.4 1294.2,1113.2 1294.8,1107.9 1295.4,1110.8 1296.0,1112.2 1296.6,1108.1 1297.2,1106.4 1297.8,1105.9 1298.4,1108.7 1299.0,1104.9 1299.6,1100.3 1300.2,1102.8 1300.8,1099.7 1301.4,1107.3 1302.0,1101.1 1302.6,1094.8 1303.2,1099.2 1303.8,1098.7 1304.4,1095.2 1305.0,1090.0 1305.6,1088.6 1306.2,1085.7 1306.8,1084.6 1307.4,1078.6 1308.0,1081.1 1308.6,1068.3 1309.2,1069.2 1309.8,1058.4 1310.4,1046.2 1311.0,1040.9 1311.6,1030.8 1312.2,1021.3 1312.8,1019.3 1313.4,999.8 1314.0,990.3 1314.6,971.4 1315.2,959.3 1315.8,938.6 1316.4,924.1 1317.0,896.1 1317.6,870.8 1318.2,846.8 1318.8,829.5 1319.4,800.1 1320.0,778.2 1320.6,749.9 1321.2,737.0 1321.8,728.6 1322.4,710.6 1323.0,712.2 1323.6,701.6 1324.2,696.5 1324.8,696.1 1325.4,709.7 1326.0,729.6 1326.6,755.1 1327.2,772.5 1327.8,795.5 1328.4,813.3 1329.0,837.5 1329.6,869.8 1330.2,880.9 1330.8,900.4 1331.4,920.8 1332.0,936.7 1332.6,942.2 1333.2,958.3 1333.8,971.0 1334.4,981.6 1335.0,990.0 1335.6,1006.2 1336.2,1013.2 1336.8,1024.7 1337.4,1027.0 1338.0,1041.5 1338.6,1041.8 1339.2,1057.0 1339.8,1062.0 1340.4,1063.9 1341.0,1071.0 1341.6,1075.1 1342.2,1077.9 1342.8,1082.7 1343.4,1083.8 1344.0,1085.0 1344.6,1086.2 1345.2,1096.6 1345.8,1093.6 1346.4,1094.6 1347.0,1098.8 1347.6,1096.6 1348.2,1098.0 1348.8,1102.9 1349.4,1105.4 1350.0,1105.4 1350.6,1099.4 1351.2,1105.7 1351.8,1106.6 1352.4,1109.3 1353.0,1105.8 1353.6,1106.3 1354.2,1110.4 1354.8,1108.8 1355.4,1109.1 1356.0,1113.4 1356.6,1117.6 1357.2,1115.7 1357.8,1119.8 1358.4,1113.5 1359.0,1119.9 1359.6,1118.1 1360.2,1115.8 1360.8,1118.0 1361.4,1117.0 1362.0,1119.7 1362.6,1118.4 1363.2,1125.6 1363.8,1120.6 1364.4,1117.4 1365.0,1122.0 1365.6,1124.4 1366.2,1122.4 1366.8,1126.7 1367.4,1121.1 1368.0,1121.6 1368.6,1130.2 1369.2,1125.0 1369.8,1127.0 1370.4,1127.0 1371.0,1127.4 1371.6,1125.7 1372.2,1125.0 1372.8,1129.3 1373.4,1124.1 1374.0,1126.1 1374.6,1128.0 1375.2,1124.5 1375.8,1120.8 1376.4,1127.4 1377.0,1129.5 1377.6,1126.8 1378.2,1120.4 1378.8,1128.1 1379.4,1132.5 1380.0,1121.0 1380.6,1117.1 1381.2,1125.3 1381.8,1126.4 1382.4,1128.7 1383.0,1128.9 1383.6,1126.5 1384.2,1128.0 1384.8,1127.4 1385.4,1126.7 1386.0,1126.1 1386.6,1125.8 1387.2,1128.6 1387.8,1127.7 1388.4,1125.0 1389.0,1130.0 1389.6,1124.0 1390.2,1125.6 1390.8,1126.9 1391.4,1120.2 1392.0,1125.2 1392.6,1129.2 1393.2,1129.1 1393.8,1122.6 1394.4,1123.8 1395.0,1123.0 1395.6,1125.7 1396.2,1126.3 1396.8,1121.3 1397.4,1127.5 1398.0,1126.7 1398.6,1126.3 1399.2,1124.3 1399.8,1125.9 1400.4,1120.7 1401.0,1127.2 1401.6,1127.2 1402.2,1126.1 1402.8,1122.6 1403.4,1130.6 1404.0,1130.1 1404.6,1120.2 1405.2,1127.7 1405.8,1126.8 1406.4,1117.8 1407.0,1127.9 1407.6,1128.3 1408.2,1128.4 1408.8,1126.5 1409.4,1123.8 1410.0,1124.2 1410.6,1127.5 1411.2,1129.6 1411.8,1124.0 1412.4,1124.7 1413.0,1127.8 1413.6,1118.3 1414.2,1126.8 1414.8,1124.5 1415.4,1117.9 1416.0,1127.6 1416.6,1121.9 1417.2,1127.4 1417.8,1129.3 1418.4,1120.5 1419.0,1120.5 1419.6,1124.4 1420.2,1118.5 1420.8,1126.6 1421.4,1124.6 1422.0,1127.1 1422.6,1117.5 1423.2,1124.0 1423.8,1124.7 1424.4,1116.9 1425.0,1125.5 1425.6,1117.7 1426.2,1122.6 1426.8,1117.3 1427.4,1123.9 1428.0,1126.6 1428.6,1120.8 1429.2,1120.4 1429.8,1124.2 1430.4,1118.0 1431.0,1119.3 1431.6,1121.4 1432.2,1119.7 1432.8,1123.2 1433.4,1121.5 1434.0,1123.5 1434.6,1116.7 1435.2,1120.0 1435.8,1113.2 1436.4,1118.4 1437.0,1120.8 1437.6,1122.3 1438.2,1109.8 1438.8,1112.8 1439.4,1115.2 1440.0,1109.3 1440.6,1113.4 1441.2,1112.7 1441.8,1108.6 1442.4,1107.7 1443.0,1105.6 1443.6,1108.8 1444.2,1111.2 1444.8,1107.0 1445.4,1114.2 1446.0,1098.9 1446.6,1100.5 1447.2,1103.2 1447.8,1095.5 1448.4,1098.6 1449.0,1098.1 1449.6,1093.8 1450.2,1090.1 1450.8,1091.4 1451.4,1086.7 1452.0,1084.2 1452.6,1079.5 1453.2,1070.5 1453.8,1063.5 1454.4,1059.7 1455.0,1054.2 1455.6,1042.2 1456.2,1032.8 1456.8,1017.1 1457.4,1008.1 1458.0,995.4 1458.6,983.3 1459.2,979.9 1459.8,971.0 1460.4,959.5 1461.0,954.5 1461.6,959.2 1462.2,933.2 1462.8,943.4 1463.4,935.6 1464.0,930.9 1464.6,925.7 1465.2,919.3 1465.8,921.7 1466.4,905.1 1467.0,899.7 1467.6,900.1 1468.2,900.1 1468.8,904.5 1469.4,910.6 1470.0,909.8 1470.6,919.1 1471.2,912.8 1471.8,909.0 1472.4,921.8 1473.0,923.2 1473.6,928.4 1474.2,934.9 1474.8,949.8 1475.4,951.3 1476.0,957.3 1476.6,974.8 1477.2,985.7 1477.8,993.3 1478.4,1006.1 1479.0,1009.3 1479.6,1012.3 1480.2,1019.2 1480.8,1029.8 1481.4,1032.1 1482.0,1034.6 1482.6,1028.5 1483.2,1031.2 1483.8,1024.6 1484.4,1026.1 1485.0,1021.9 1485.6,1019.1 1486.2,1016.9 1486.8,1003.4 1487.4,1000.2 1488.0,978.6 1488.6,967.8 1489.2,955.8 1489.8,947.3 1490.4,927.1 1491.0,920.8 1491.6,913.4 1492.2,903.7 1492.8,891.1 1493.4,879.3 1494.0,872.3 1494.6,869.9 1495.2,860.4 1495.8,866.0 1496.4,860.1 1497.0,846.7 1497.6,850.4 1498.2,858.3 1498.8,863.1 1499.4,867.8 1500.0,865.2 1500.6,875.1 1501.2,888.2 1501.8,892.2 1502.4,898.4 1503.0,909.8 1503.6,920.1 1504.2,926.9 1504.8,938.7 1505.4,955.7 1506.0,966.0 1506.6,980.8 1507.2,1001.5 1507.8,1010.7 1508.4,1032.1 1509.0,1041.1 1509.6,1055.1 1510.2,1054.8 1510.8,1068.2 1511.4,1070.1 1512.0,1072.3 1512.6,1074.3 1513.2,1080.4 1513.8,1081.6 1514.4,1084.4 1515.0,1095.8 1515.6,1097.6 1516.2,1102.9 1516.8,1096.9 1517.4,1097.2 1518.0,1100.1 1518.6,1109.0 1519.2,1110.7 1519.8,1102.7 1520.4,1113.4 1521.0,1109.3 1521.6,1107.5 1522.2,1112.1 1522.8,1114.9 1523.4,1112.9 1524.0,1113.6 1524.6,1111.9 1525.2,1110.5 1525.8,1114.6 1526.4,1110.9 1527.0,1119.0 1527.6,1114.5 1528.2,1122.3 1528.8,1112.9 1529.4,1123.5 1530.0,1116.1 1530.6,1116.5 1531.2,1120.9 1531.8,1123.3 1532.4,1120.5 1533.0,1119.8 1533.6,1128.2 1534.2,1123.6 1534.8,1118.2 1535.4,1121.8 1536.0,1128.9 1536.6,1124.8 1537.2,1126.9 1537.8,1131.4 1538.4,1122.9 1539.0,1126.5 1539.6,1123.2 1540.2,1125.6 1540.8,1127.6 1541.4,1121.4 1542.0,1126.5 1542.6,1126.7 1543.2,1129.8 1543.8,1124.4 1544.4,1122.3 1545.0,1128.0 1545.6,1123.0 1546.2,1127.4 1546.8,1128.8 1547.4,1124.1 1548.0,1126.7 1548.6,1123.7 1549.2,1117.8 1549.8,1122.5 1550.4,1120.4 1551.0,1127.5 1551.6,1123.9 1552.2,1127.1 1552.8,1127.4 1553.4,1131.2 1554.0,1126.5 1554.6,1126.4 1555.2,1129.4 1555.8,1133.1 1556.4,1127.6 1557.0,1129.0 1557.6,1127.3 1558.2,1125.6 1558.8,1122.9 1559.4,1127.8 1560.0,1127.2 1560.6,1127.3 1561.2,1134.6 1561.8,1127.0 1562.4,1129.3 1563.0,1127.1 1563.6,1132.1 1564.2,1127.3 1564.8,1134.4 1565.4,1127.5 1566.0,1130.9 1566.6,1131.7 1567.2,1127.6 1567.8,1131.2 1568.4,1128.7 1569.0,1126.0 1569.6,1126.3 1570.2,1129.6 1570.8,1134.4 1571.4,1127.0 1572.0,1130.4 1572.6,1126.0 1573.2,1129.5 1573.8,1124.4 1574.4,1126.1 1575.0,1128.7 1575.6,1126.3 1576.2,1127.9 1576.8,1132.1 1577.4,1128.4 1578.0,1126.5 1578.6,1124.8 1579.2,1127.1 1579.8,1132.6 1580.4,1128.6 1581.0,1128.4 1581.6,1131.2 1582.2,1131.6 1582.8,1132.2 1583.4,1127.8 1584.0,1126.0 1584.6,1123.5 1585.2,1126.7 1585.8,1127.7 1586.4,1131.3 1587.0,1130.0 1587.6,1127.1 1588.2,1131.9 1588.8,1124.9 1589.4,1125.5 1590.0,1125.1 1590.6,1125.4 1591.2,1128.1 1591.8,1126.2 1592.4,1126.5 1593.0,1133.3 1593.6,1124.2 1594.2,1125.5 1594.8,1128.1 1595.4,1130.3 1596.0,1130.4 1596.6,1128.0 1597.2,1127.6 1597.8,1127.9 1598.4,1131.2 1599.0,1125.7 1599.6,1121.0 1600.2,1129.3 1600.8,1124.8 1601.4,1128.4 1602.0,1133.1 1602.6,1128.8 1603.2,1134.5 1603.8,1123.2 1604.4,1129.2 1605.0,1129.6 1605.6,1131.0 1606.2,1125.8 1606.8,1128.7 1607.4,1128.5 1608.0,1128.4 1608.6,1123.5 1609.2,1122.3 1609.8,1129.7 1610.4,1129.0 1611.0,1128.0 1611.6,1129.9 1612.2,1131.3 1612.8,1123.9 1613.4,1130.2 1614.0,1132.5 1614.6,1130.9 1615.2,1129.4 1615.8,1129.8 1616.4,1122.6 1617.0,1125.7 1617.6,1130.7 1618.2,1132.1 1618.8,1128.7 1619.4,1125.6 1620.0,1126.6 1620.6,1129.9 1621.2,1133.7 1621.8,1129.5 1622.4,1125.1 1623.0,1128.9 1623.6,1128.2 1624.2,1134.7 1624.8,1128.6 1625.4,1126.6 1626.0,1126.2 1626.6,1122.2 1627.2,1122.8 1627.8,1124.6 1628.4,1123.4 1629.0,1126.7 1629.6,1126.3 1630.2,1129.0 1630.8,1130.9 1631.4,1126.2 1632.0,1124.9 1632.6,1119.1 1633.2,1126.6 1633.8,1127.4 1634.4,1122.5 1635.0,1123.6 1635.6,1122.5 1636.2,1128.3 1636.8,1126.7 1637.4,1128.6 1638.0,1120.2 1638.6,1133.2 1639.2,1121.1 1639.8,1120.4 1640.4,1124.4 1641.0,1121.7 1641.6,1129.6 1642.2,1121.8 1642.8,1120.7 1643.4,1126.2 1644.0,1126.8 1644.6,1119.6 1645.2,1120.6 1645.8,1120.7 1646.4,1121.1 1647.0,1127.2 1647.6,1125.4 1648.2,1124.4 1648.8,1124.7 1649.4,1120.1 1650.0,1122.6 1650.6,1118.8 1651.2,1115.9 1651.8,1123.4 1652.4,1111.0 1653.0,1116.1 1653.6,1113.2 1654.2,1108.4 1654.8,1111.5 1655.4,1111.5 1656.0,1111.0 1656.6,1104.7 1657.2,1108.0 1657.8,1104.3 1658.4,1103.9 1659.0,1092.5 1659.6,1095.3 1660.2,1092.5 1660.8,1094.2 1661.4,1087.3 1662.0,1085.5 1662.6,1080.7 1663.2,1077.8 1663.8,1075.8 1664.4,1079.2 1665.0,1068.9 1665.6,1060.5 1666.2,1065.9 1666.8,1059.5 1667.4,1059.1 1668.0,1055.6 1668.6,1049.6 1669.2,1046.3 1669.8,1043.1 1670.4,1041.9 1671.0,1035.9 1671.6,1035.6 1672.2,1035.8 1672.8,1024.7 1673.4,1020.5 1674.0,1015.9 1674.6,1015.4 1675.2,1010.5 1675.8,1007.7 1676.4,999.2 1677.0,989.9 1677.6,983.1 1678.2,970.1 1678.8,970.9 1679.4,964.5 1680.0,966.3 1680.6,959.2 1681.2,946.8 1681.8,942.4 1682.4,942.0 1683.0,926.9 1683.6,926.2 1684.2,926.4 1684.8,923.2 1685.4,918.7 1686.0,922.4 1686.6,922.5 1687.2,930.3 1687.8,934.1 1688.4,934.9 1689.0,942.3 1689.6,944.1 1690.2,950.7 1690.8,947.1 1691.4,962.8 1692.0,967.8 1692.6,975.3 1693.2,985.4 1693.8,992.1 1694.4,1005.9 1695.0,1016.0 1695.6,1023.9 1696.2,1033.4 1696.8,1039.8 1697.4,1045.9 1698.0,1048.3 1698.6,1057.6 1699.2,1068.6 1699.8,1071.9 1700.4,1072.1 1701.0,1078.1 1701.6,1085.1 1702.2,1084.4 1702.8,1093.6 1703.4,1088.4 1704.0,1096.5 1704.6,1098.9 1705.2,1099.6 1705.8,1102.4 1706.4,1105.1 1707.0,1097.1 1707.6,1107.6 1708.2,1111.0 1708.8,1109.4 1709.4,1112.9 1710.0,1105.9 1710.6,1110.5 1711.2,1112.6 1711.8,1111.2 1712.4,1116.7 1713.0,1114.9 1713.6,1112.0 1714.2,1116.9 1714.8,1117.3 1715.4,1113.4 1716.0,1117.4 1716.6,1116.8 1717.2,1117.1 1717.8,1111.9 1718.4,1120.7 1719.0,1118.9 1719.6,1116.8 1720.2,1118.3 1720.8,1118.5 1721.4,1116.5 1722.0,1115.7 1722.6,1118.2 1723.2,1115.9 1723.8,1116.4 1724.4,1114.3 1725.0,1117.4 1725.6,1121.8 1726.2,1119.2 1726.8,1118.8 1727.4,1117.6 1728.0,1117.3 1728.6,1113.7 1729.2,1124.5 1729.8,1116.5 1730.4,1113.9 1731.0,1120.4 1731.6,1120.0 1732.2,1117.4 1732.8,1114.3 1733.4,1114.6 1734.0,1124.7 1734.6,1119.0 1735.2,1117.3 1735.8,1125.9 1736.4,1117.8 1737.0,1116.5 1737.6,1121.6 1738.2,1121.0 1738.8,1125.2 1739.4,1114.6 1740.0,1121.0 1740.6,1114.3 1741.2,1121.7 1741.8,1118.0 1742.4,1118.8 1743.0,1117.9 1743.6,1123.3 1744.2,1126.1 1744.8,1120.4 1745.4,1119.9 1746.0,1119.2 1746.6,1122.8 1747.2,1117.6 1747.8,1133.2 1748.4,1120.5 1749.0,1127.2 1749.6,1122.0 1750.2,1116.9 1750.8,1116.4 1751.4,1120.4 1752.0,1119.5 1752.6,1121.2 1753.2,1118.2 1753.8,1130.2 1754.4,1129.6 1755.0,1116.3 1755.6,1124.2 1756.2,1126.7 1756.8,1121.6 1757.4,1122.1 1758.0,1126.7 1758.6,1124.9 1759.2,1119.0 1759.8,1127.5 1760.4,1121.7 1761.0,1129.8 1761.6,1120.3 1762.2,1115.9 1762.8,1124.1 1763.4,1128.0 1764.0,1125.7 1764.6,1124.6 1765.2,1121.0 1765.8,1127.4 1766.4,1118.0 1767.0,1127.1 1767.6,1120.3 1768.2,1122.5 1768.8,1120.1 1769.4,1121.5 1770.0,1129.8 1770.6,1120.8 1771.2,1125.5 1771.8,1122.2 1772.4,1128.5 1773.0,1120.4 1773.6,1125.1 1774.2,1128.2 1774.8,1132.8 1775.4,1121.1 1776.0,1122.2 1776.6,1125.0 1777.2,1130.3 1777.8,1121.8 1778.4,1128.1 1779.0,1123.1 1779.6,1121.7 1780.2,1119.9 1780.8,1125.7 1781.4,1128.6 1782.0,1124.9 1782.6,1117.9 1783.2,1123.2 1783.8,1128.4 1784.4,1128.0 1785.0,1125.9 1785.6,1129.9 1786.2,1120.5 1786.8,1120.5 1787.4,1132.9 1788.0,1126.9 1788.6,1123.8 1789.2,1122.7 1789.8,1115.4 1790.4,1127.1 1791.0,1117.0 1791.6,1117.3 1792.2,1123.8 1792.8,1129.1 1793.4,1122.5 1794.0,1125.1 1794.6,1122.2 1795.2,1125.0 1795.8,1117.9 1796.4,1130.8 1797.0,1120.2 1797.6,1125.4 1798.2,1116.4 1798.8,1129.6 1799.4,1124.9 1800.0,1130.3 1800.6,1121.1 1801.2,1126.9 1801.8,1122.7 1802.4,1123.1 1803.0,1127.8 1803.6,1120.1 1804.2,1125.7 1804.8,1129.9 1805.4,1129.2 1806.0,1126.7 1806.6,1124.1 1807.2,1119.6 1807.8,1127.8 1808.4,1120.2 1809.0,1126.4 1809.6,1120.7 1810.2,1121.4 1810.8,1120.8 1811.4,1122.3 1812.0,1118.0 1812.6,1119.5 1813.2,1116.3 1813.8,1119.3 1814.4,1117.8 1815.0,1117.6 1815.6,1112.6 1816.2,1116.1 1816.8,1114.6 1817.4,1115.9 1818.0,1113.4 1818.6,1109.2 1819.2,1114.4 1819.8,1108.7 1820.4,1111.0 1821.0,1101.6 1821.6,1108.7 1822.2,1107.1 1822.8,1099.1 1823.4,1101.5 1824.0,1095.2 1824.6,1097.6 1825.2,1090.9 1825.8,1080.0 1826.4,1079.6 1827.0,1070.1 1827.6,1071.0 1828.2,1070.1 1828.8,1067.6 1829.4,1061.6 1830.0,1058.6 1830.6,1057.7 1831.2,1053.0 1831.8,1054.6 1832.4,1056.4 1833.0,1052.4 1833.6,1054.1 1834.2,1047.8 1834.8,1048.4 1835.4,1050.9 1836.0,1056.6 1836.6,1053.1 1837.2,1055.7 1837.8,1050.3 1838.4,1054.9 1839.0,1045.4 1839.6,1053.7 1840.2,1045.5 1840.8,1058.6 1841.4,1058.8 1842.0,1064.4 1842.6,1064.8 1843.2,1064.9 1843.8,1067.4 1844.4,1073.7 1845.0,1080.6 1845.6,1079.7 1846.2,1077.6 1846.8,1079.2 1847.4,1080.2 1848.0,1083.3 1848.6,1084.9 1849.2,1084.6 1849.8,1087.2 1850.4,1082.7 1851.0,1094.3 1851.6,1090.7 1852.2,1096.1 1852.8,1093.0 1853.4,1092.5 1854.0,1094.5 1854.6,1095.7 1855.2,1092.7 1855.8,1093.5 1856.4,1101.0 1857.0,1097.1 1857.6,1091.5 1858.2,1094.5 1858.8,1089.1 1859.4,1096.1 1860.0,1087.0 1860.6,1092.5 1861.2,1088.4 1861.8,1087.1 1862.4,1082.5 1863.0,1082.0 1863.6,1077.2 1864.2,1073.2 1864.8,1073.2 1865.4,1073.9 1866.0,1056.6"/>
<path d="M135.6 104.0V1192.8" stroke="#000" stroke-width="1.5"/>
<path d="M135.2 1174.9H1867.2" stroke="#3c3c3c" stroke-width="2.0"/>
<path d="M382.5 1174.9V1192.8M629.9 1174.9V1192.8M877.2 1174.9V1192.8M1124.6 1174.9V1192.8M1372.0 1174.9V1192.8M1619.3 1174.9V1192.8M1866.7 1174.9V1192.8" stroke="#000" stroke-width="1.3"/>
<text x="135.2" y="1261.0" font-size="57" text-anchor="middle">0</text>
<text x="382.5" y="1261.0" font-size="57" text-anchor="middle">10</text>
<text x="629.9" y="1261.0" font-size="57" text-anchor="middle">20</text>
<text x="877.2" y="1261.0" font-size="57" text-anchor="middle">30</text>
<text x="1124.6" y="1261.0" font-size="57" text-anchor="middle">40</text>
<text x="1372.0" y="1261.0" font-size="57" text-anchor="middle">50</text>
<text x="1619.3" y="1261.0" font-size="57" text-anchor="middle">60</text>
<text x="1866.7" y="1261.0" font-size="57" text-anchor="middle">70</text>
<text x="930" y="1278.3" font-size="57" letter-spacing="0.6">2θ (°)</text>
<text transform="translate(105.9 739.5) rotate(-90)" font-size="57.5" letter-spacing="0.6" text-anchor="middle">Intensity (a. u.)</text>
<path d="M743.3 188.2L777.7 222.6M743.3 222.6L777.7 188.2" stroke="#47412A" stroke-width="3.4" stroke-linecap="round" fill="none"/><path d="M760.5 188.1V222.7" stroke="#47412A" stroke-width="3.8" fill="none"/>
<path d="M1031.9 1060.8L1066.3 1095.2M1031.9 1095.2L1066.3 1060.8" stroke="#47412A" stroke-width="3.4" stroke-linecap="round" fill="none"/><path d="M1049.1 1060.7V1095.2" stroke="#47412A" stroke-width="3.8" fill="none"/>
<path d="M1053.0 963.8L1087.4 998.2M1053.0 998.2L1087.4 963.8" stroke="#47412A" stroke-width="3.4" stroke-linecap="round" fill="none"/><path d="M1070.2 963.7V998.3" stroke="#47412A" stroke-width="3.8" fill="none"/>
<path d="M1072.2 1060.8L1106.6 1095.2M1072.2 1095.2L1106.6 1060.8" stroke="#47412A" stroke-width="3.4" stroke-linecap="round" fill="none"/><path d="M1089.4 1060.7V1095.2" stroke="#47412A" stroke-width="3.8" fill="none"/>
<path d="M1306.5 818.4L1340.9 852.8M1306.5 852.8L1340.9 818.4" stroke="#47412A" stroke-width="3.4" stroke-linecap="round" fill="none"/><path d="M1323.7 818.3V852.9" stroke="#47412A" stroke-width="3.8" fill="none"/>
<path d="M1451.0 963.8L1485.4 998.2M1451.0 998.2L1485.4 963.8" stroke="#47412A" stroke-width="3.4" stroke-linecap="round" fill="none"/><path d="M1468.2 963.7V998.3" stroke="#47412A" stroke-width="3.8" fill="none"/>
<path d="M1479.9 963.8L1514.3 998.2M1479.9 998.2L1514.3 963.8" stroke="#47412A" stroke-width="3.4" stroke-linecap="round" fill="none"/><path d="M1497.1 963.7V998.3" stroke="#47412A" stroke-width="3.8" fill="none"/>
<path d="M1654.5 1118.9L1688.9 1153.3M1654.5 1153.3L1688.9 1118.9" stroke="#47412A" stroke-width="3.4" stroke-linecap="round" fill="none"/><path d="M1671.7 1118.8V1153.4" stroke="#47412A" stroke-width="3.8" fill="none"/>
<path d="M1668.6 1022.0L1703.0 1056.4M1668.6 1056.4L1703.0 1022.0" stroke="#47412A" stroke-width="3.4" stroke-linecap="round" fill="none"/><path d="M1685.8 1021.9V1056.5" stroke="#47412A" stroke-width="3.8" fill="none"/>
<path d="M1818.8 1099.5L1853.2 1133.9M1818.8 1133.9L1853.2 1099.5" stroke="#47412A" stroke-width="3.4" stroke-linecap="round" fill="none"/><path d="M1836.0 1099.4V1134.0" stroke="#47412A" stroke-width="3.8" fill="none"/>
<polyline fill="none" stroke="#08A6BF" stroke-width="3.8" stroke-linejoin="round" points="234.6,2361.6 235.2,2355.2 235.8,2360.1 236.4,2359.1 237.0,2359.7 237.6,2360.5 238.2,2358.3 238.8,2361.4 239.4,2360.9 240.0,2367.5 240.6,2363.5 241.2,2363.1 241.8,2363.7 242.4,2363.7 243.0,2363.7 243.6,2365.1 244.2,2366.9 244.8,2366.4 245.4,2368.6 246.0,2367.6 246.6,2368.5 247.2,2371.2 247.8,2370.4 248.4,2369.5 249.0,2370.6 249.6,2372.1 250.2,2374.6 250.8,2372.3 251.4,2372.9 252.0,2375.2 252.6,2373.3 253.2,2374.7 253.8,2376.8 254.4,2377.0 255.0,2377.0 255.6,2378.4 256.2,2374.5 256.8,2380.0 257.4,2378.2 258.0,2377.9 258.6,2381.0 259.2,2382.2 259.8,2381.4 260.4,2381.3 261.0,2383.3 261.6,2383.9 262.2,2386.3 262.8,2386.1 263.4,2386.1 264.0,2387.8 264.6,2386.7 265.2,2386.4 265.8,2388.8 266.4,2389.3 267.0,2388.7 267.6,2388.5 268.2,2390.1 268.8,2387.1 269.4,2391.5 270.0,2391.6 270.6,2389.3 271.2,2391.8 271.8,2390.9 272.4,2393.4 273.0,2390.2 273.6,2391.9 274.2,2394.3 274.8,2395.2 275.4,2391.3 276.0,2393.7 276.6,2395.1 277.2,2394.3 277.8,2397.3 278.4,2394.2 279.0,2396.5 279.6,2395.1 280.2,2398.6 280.8,2397.2 281.4,2397.1 282.0,2395.9 282.6,2400.5 283.2,2399.8 283.8,2400.2 284.4,2401.1 285.0,2400.5 285.6,2399.7 286.2,2399.9 286.8,2400.2 287.4,2403.3 288.0,2400.1 288.6,2401.5 289.2,2402.1 289.8,2403.0 290.4,2403.7 291.0,2401.6 291.6,2401.2 292.2,2403.5 292.8,2405.2 293.4,2404.8 294.0,2404.3 294.6,2403.8 295.2,2404.8 295.8,2404.2 296.4,2405.7 297.0,2403.9 297.6,2405.2 298.2,2405.0 298.8,2406.0 299.4,2405.7 300.0,2408.7 300.6,2407.5 301.2,2407.7 301.8,2403.4 302.4,2405.6 303.0,2405.4 303.6,2406.9 304.2,2403.5 304.8,2407.9 305.4,2407.9 306.0,2405.1 306.6,2405.6 307.2,2405.9 307.8,2407.0 308.4,2407.9 309.0,2409.7 309.6,2407.0 310.2,2408.3 310.8,2407.6 311.4,2409.7 312.0,2408.5 312.6,2409.4 313.2,2406.4 313.8,2407.6 314.4,2406.9 315.0,2409.8 315.6,2408.9 316.2,2407.7 316.8,2407.6 317.4,2408.8 318.0,2407.4 318.6,2407.2 319.2,2409.0 319.8,2411.6 320.4,2408.2 321.0,2407.9 321.6,2407.2 322.2,2407.1 322.8,2409.4 323.4,2409.9 324.0,2408.9 324.6,2409.4 325.2,2409.1 325.8,2409.2 326.4,2407.2 327.0,2408.6 327.6,2409.3 328.2,2408.3 328.8,2408.7 329.4,2408.3 330.0,2409.0 330.6,2410.5 331.2,2409.0 331.8,2409.3 332.4,2410.6 333.0,2410.4 333.6,2411.8 334.2,2407.1 334.8,2410.8 335.4,2409.2 336.0,2410.0 336.6,2411.0 337.2,2411.3 337.8,2411.3 338.4,2410.3 339.0,2412.1 339.6,2409.8 340.2,2410.1 340.8,2411.3 341.4,2409.7 342.0,2413.1 342.6,2411.7 343.2,2413.2 343.8,2410.5 344.4,2410.2 345.0,2410.9 345.6,2411.7 346.2,2410.1 346.8,2411.3 347.4,2410.9 348.0,2413.0 348.6,2410.2 349.2,2412.4 349.8,2410.3 350.4,2410.0 351.0,2410.4 351.6,2409.8 352.2,2411.5 352.8,2412.7 353.4,2411.6 354.0,2412.3 354.6,2413.6 355.2,2411.9 355.8,2411.8 356.4,2411.3 357.0,2409.7 357.6,2412.6 358.2,2409.5 358.8,2412.6 359.4,2411.7 360.0,2413.2 360.6,2411.7 361.2,2410.8 361.8,2412.3 362.4,2411.1 363.0,2411.6 363.6,2411.9 364.2,2411.7 364.8,2411.6 365.4,2410.9 366.0,2411.7 366.6,2409.2 367.2,2411.7 367.8,2410.4 368.4,2413.3 369.0,2413.5 369.6,2409.5 370.2,2412.2 370.8,2411.8 371.4,2410.7 372.0,2412.7 372.6,2411.4 373.2,2409.8 373.8,2411.7 374.4,2411.9 375.0,2412.2 375.6,2410.5 376.2,2412.8 376.8,2413.0 377.4,2410.7 378.0,2411.3 378.6,2412.0 379.2,2411.4 379.8,2414.3 380.4,2412.4 381.0,2410.9 381.6,2411.2 382.2,2412.1 382.8,2415.0 383.4,2412.0 384.0,2412.3 384.6,2412.8 385.2,2412.2 385.8,2415.1 386.4,2411.6 387.0,2413.2 387.6,2412.4 388.2,2413.0 388.8,2410.8 389.4,2414.5 390.0,2412.1 390.6,2412.3 391.2,2411.1 391.8,2411.4 392.4,2413.0 393.0,2413.5 393.6,2413.2 394.2,2413.8 394.8,2413.2 395.4,2412.4 396.0,2413.4 396.6,2413.1 397.2,2412.2 397.8,2413.2 398.4,2414.0 399.0,2412.6 399.6,2411.9 400.2,2413.3 400.8,2414.7 401.4,2412.1 402.0,2412.3 402.6,2412.2 403.2,2413.9 403.8,2410.1 404.4,2412.9 405.0,2413.9 405.6,2411.4 406.2,2414.3 406.8,2413.1 407.4,2411.7 408.0,2412.7 408.6,2410.5 409.2,2411.7 409.8,2414.7 410.4,2411.3 411.0,2414.7 411.6,2412.3 412.2,2413.7 412.8,2412.5 413.4,2409.7 414.0,2411.7 414.6,2412.7 415.2,2411.0 415.8,2410.8 416.4,2412.9 417.0,2411.7 417.6,2410.4 418.2,2411.6 418.8,2413.6 419.4,2411.9 420.0,2413.6 420.6,2414.4 421.2,2412.5 421.8,2411.1 422.4,2410.9 423.0,2412.5 423.6,2413.6 424.2,2412.8 424.8,2413.2 425.4,2411.9 426.0,2412.9 426.6,2411.9 427.2,2412.1 427.8,2410.9 428.4,2410.5 429.0,2411.9 429.6,2411.1 430.2,2411.3 430.8,2413.3 431.4,2412.4 432.0,2416.1 432.6,2413.7 433.2,2411.7 433.8,2413.5 434.4,2412.9 435.0,2411.6 435.6,2413.9 436.2,2411.5 436.8,2408.7 437.4,2413.5 438.0,2411.7 438.6,2414.3 439.2,2411.7 439.8,2411.0 440.4,2414.4 441.0,2411.1 441.6,2412.7 442.2,2414.3 442.8,2412.6 443.4,2412.4 444.0,2412.6 444.6,2413.5 445.2,2411.4 445.8,2413.2 446.4,2413.2 447.0,2415.3 447.6,2412.0 448.2,2411.3 448.8,2413.3 449.4,2411.9 450.0,2412.8 450.6,2412.5 451.2,2413.8 451.8,2411.5 452.4,2412.2 453.0,2409.2 453.6,2411.2 454.2,2414.3 454.8,2411.5 455.4,2411.4 456.0,2410.8 456.6,2413.0 457.2,2412.5 457.8,2410.8 458.4,2413.1 459.0,2412.6 459.6,2413.2 460.2,2411.4 460.8,2414.4 461.4,2412.7 462.0,2412.1 462.6,2411.6 463.2,2411.9 463.8,2413.3 464.4,2411.8 465.0,2413.5 465.6,2412.9 466.2,2413.8 466.8,2413.1 467.4,2412.0 468.0,2409.7 468.6,2412.5 469.2,2413.1 469.8,2412.3 470.4,2412.8 471.0,2411.5 471.6,2411.6 472.2,2410.8 472.8,2413.7 473.4,2412.2 474.0,2411.4 474.6,2410.3 475.2,2411.8 475.8,2413.7 476.4,2412.5 477.0,2411.0 477.6,2413.7 478.2,2413.7 478.8,2413.1 479.4,2412.9 480.0,2413.3 480.6,2412.5 481.2,2412.8 481.8,2410.8 482.4,2413.7 483.0,2412.1 483.6,2414.3 484.2,2409.2 484.8,2412.6 485.4,2413.0 486.0,2411.3 486.6,2412.3 487.2,2412.6 487.8,2412.4 488.4,2411.0 489.0,2411.5 489.6,2412.9 490.2,2413.2 490.8,2411.7 491.4,2411.7 492.0,2411.8 492.6,2412.9 493.2,2410.2 493.8,2409.9 494.4,2411.7 495.0,2410.1 495.6,2410.8 496.2,2411.6 496.8,2412.1 497.4,2410.1 498.0,2412.4 498.6,2409.2 499.2,2412.1 499.8,2409.4 500.4,2409.8 501.0,2412.2 501.6,2410.9 502.2,2410.4 502.8,2410.8 503.4,2411.9 504.0,2411.2 504.6,2411.3 505.2,2412.6 505.8,2410.4 506.4,2410.7 507.0,2410.6 507.6,2412.7 508.2,2412.5 508.8,2412.8 509.4,2411.2 510.0,2411.0 510.6,2412.2 511.2,2410.7 511.8,2412.2 512.4,2412.0 513.0,2410.3 513.6,2411.0 514.2,2411.0 514.8,2413.3 515.4,2414.3 516.0,2410.9 516.6,2411.1 517.2,2408.2 517.8,2411.3 518.4,2411.0 519.0,2409.7 519.6,2412.0 520.2,2409.0 520.8,2410.7 521.4,2411.2 522.0,2409.4 522.6,2412.0 523.2,2412.3 523.8,2409.2 524.4,2409.2 525.0,2411.7 525.6,2410.9 526.2,2409.4 526.8,2410.5 527.4,2410.7 528.0,2410.7 528.6,2411.9 529.2,2411.3 529.8,2413.1 530.4,2412.6 531.0,2411.7 531.6,2412.2 532.2,2412.5 532.8,2411.7 533.4,2409.3 534.0,2411.8 534.6,2410.9 535.2,2412.8 535.8,2410.9 536.4,2411.4 537.0,2411.1 537.6,2412.8 538.2,2410.9 538.8,2410.4 539.4,2411.1 540.0,2410.1 540.6,2410.9 541.2,2410.7 541.8,2411.0 542.4,2413.0 543.0,2410.1 543.6,2410.7 544.2,2410.4 544.8,2411.4 545.4,2409.1 546.0,2409.7 546.6,2410.5 547.2,2411.2 547.8,2410.5 548.4,2409.9 549.0,2409.5 549.6,2411.2 550.2,2412.3 550.8,2410.9 551.4,2410.7 552.0,2411.0 552.6,2409.3 553.2,2410.1 553.8,2410.1 554.4,2410.8 555.0,2410.4 555.6,2408.9 556.2,2411.8 556.8,2412.5 557.4,2410.1 558.0,2410.9 558.6,2410.7 559.2,2411.4 559.8,2408.5 560.4,2412.4 561.0,2409.8 561.6,2411.9 562.2,2410.4 562.8,2409.8 563.4,2410.1 564.0,2411.4 564.6,2409.2 565.2,2409.8 565.8,2409.7 566.4,2408.1 567.0,2411.9 567.6,2411.0 568.2,2410.2 568.8,2411.7 569.4,2409.0 570.0,2410.1 570.6,2412.3 571.2,2411.4 571.8,2407.4 572.4,2406.0 573.0,2408.8 573.6,2411.5 574.2,2409.5 574.8,2409.8 575.4,2410.9 576.0,2409.0 576.6,2410.3 577.2,2411.1 577.8,2410.6 578.4,2410.5 579.0,2409.3 579.6,2410.7 580.2,2409.5 580.8,2411.6 581.4,2413.2 582.0,2409.1 582.6,2407.2 583.2,2409.4 583.8,2410.4 584.4,2411.2 585.0,2411.3 585.6,2408.9 586.2,2408.9 586.8,2411.5 587.4,2408.5 588.0,2411.2 588.6,2409.6 589.2,2410.8 589.8,2410.7 590.4,2410.8 591.0,2410.9 591.6,2408.6 592.2,2410.2 592.8,2409.8 593.4,2410.2 594.0,2411.3 594.6,2409.4 595.2,2408.9 595.8,2408.9 596.4,2409.4 597.0,2410.7 597.6,2408.7 598.2,2411.2 598.8,2410.1 599.4,2409.4 600.0,2408.0 600.6,2410.0 601.2,2410.5 601.8,2407.5 602.4,2411.1 603.0,2411.7 603.6,2410.1 604.2,2410.2 604.8,2412.6 605.4,2411.1 606.0,2408.5 606.6,2409.6 607.2,2409.4 607.8,2409.4 608.4,2406.6 609.0,2410.5 609.6,2408.7 610.2,2409.7 610.8,2409.3 611.4,2410.6 612.0,2409.1 612.6,2408.4 613.2,2410.1 613.8,2411.2 614.4,2409.0 615.0,2411.1 615.6,2409.7 616.2,2408.7 616.8,2411.2 617.4,2408.3 618.0,2410.5 618.6,2408.6 619.2,2409.8 619.8,2407.7 620.4,2408.1 621.0,2410.5 621.6,2409.4 622.2,2409.1 622.8,2408.5 623.4,2409.6 624.0,2407.2 624.6,2407.5 625.2,2408.7 625.8,2407.8 626.4,2407.9 627.0,2408.7 627.6,2408.5 628.2,2408.4 628.8,2410.7 629.4,2409.8 630.0,2410.0 630.6,2408.4 631.2,2407.7 631.8,2406.5 632.4,2407.8 633.0,2405.5 633.6,2407.3 634.2,2408.9 634.8,2409.9 635.4,2409.1 636.0,2406.7 636.6,2408.3 637.2,2406.6 637.8,2408.6 638.4,2407.3 639.0,2408.5 639.6,2410.5 640.2,2408.4 640.8,2410.1 641.4,2407.3 642.0,2406.6 642.6,2408.6 643.2,2409.0 643.8,2406.0 644.4,2406.7 645.0,2404.8 645.6,2406.2 646.2,2407.5 646.8,2406.2 647.4,2405.5 648.0,2404.3 648.6,2406.4 649.2,2406.9 649.8,2406.5 650.4,2406.0 651.0,2404.0 651.6,2407.7 652.2,2405.3 652.8,2405.0 653.4,2406.0 654.0,2402.3 654.6,2404.8 655.2,2404.6 655.8,2405.1 656.4,2406.2 657.0,2404.9 657.6,2401.9 658.2,2403.7 658.8,2404.2 659.4,2404.0 660.0,2402.0 660.6,2401.4 661.2,2404.0 661.8,2403.6 662.4,2403.0 663.0,2400.7 663.6,2404.9 664.2,2398.9 664.8,2401.9 665.4,2404.8 666.0,2401.8 666.6,2402.1 667.2,2400.1 667.8,2403.1 668.4,2399.5 669.0,2401.2 669.6,2400.8 670.2,2399.1 670.8,2401.3 671.4,2398.2 672.0,2398.8 672.6,2399.4 673.2,2398.6 673.8,2399.5 674.4,2399.8 675.0,2398.0 675.6,2397.4 676.2,2397.1 676.8,2397.1 677.4,2398.3 678.0,2396.7 678.6,2397.2 679.2,2396.3 679.8,2395.1 680.4,2397.0 681.0,2394.4 681.6,2395.4 682.2,2397.0 682.8,2393.5 683.4,2394.6 684.0,2392.4 684.6,2393.5 685.2,2392.1 685.8,2393.2 686.4,2392.8 687.0,2393.4 687.6,2394.9 688.2,2393.0 688.8,2393.2 689.4,2392.1 690.0,2391.6 690.6,2390.6 691.2,2389.1 691.8,2391.1 692.4,2392.8 693.0,2391.0 693.6,2389.5 694.2,2391.9 694.8,2388.9 695.4,2388.4 696.0,2387.3 696.6,2387.2 697.2,2387.7 697.8,2390.1 698.4,2386.9 699.0,2385.4 699.6,2385.5 700.2,2385.5 700.8,2383.1 701.4,2384.9 702.0,2385.1 702.6,2384.1 703.2,2383.8 703.8,2380.9 704.4,2379.8 705.0,2382.9 705.6,2382.0 706.2,2378.1 706.8,2379.6 707.4,2378.7 708.0,2378.7 708.6,2377.6 709.2,2376.0 709.8,2376.2 710.4,2375.4 711.0,2374.3 711.6,2371.0 712.2,2368.5 712.8,2370.3 713.4,2367.9 714.0,2368.9 714.6,2367.7 715.2,2365.0 715.8,2361.9 716.4,2360.2 717.0,2359.5 717.6,2354.2 718.2,2354.5 718.8,2351.9 719.4,2349.0 720.0,2348.7 720.6,2342.9 721.2,2343.3 721.8,2337.7 722.4,2335.6 723.0,2332.5 723.6,2332.6 724.2,2327.5 724.8,2326.6 725.4,2321.7 726.0,2323.1 726.6,2321.7 727.2,2315.7 727.8,2315.4 728.4,2310.1 729.0,2309.8 729.6,2302.0 730.2,2294.4 730.8,2296.0 731.4,2287.6 732.0,2280.4 732.6,2275.8 733.2,2268.4 733.8,2266.6 734.4,2259.8 735.0,2261.5 735.6,2255.8 736.2,2246.6 736.8,2243.5 737.4,2242.4 738.0,2235.7 738.6,2236.8 739.2,2233.5 739.8,2227.9 740.4,2224.5 741.0,2223.1 741.6,2221.5 742.2,2217.6 742.8,2209.4 743.4,2207.1 744.0,2197.9 744.6,2195.8 745.2,2186.4 745.8,2184.9 746.4,2172.3 747.0,2164.9 747.6,2157.8 748.2,2147.0 748.8,2122.5 749.4,2102.5 750.0,2081.0 750.6,2058.7 751.2,2032.1 751.8,2011.2 752.4,1985.9 753.0,1966.9 753.6,1939.1 754.2,1908.0 754.8,1883.6 755.4,1871.3 756.0,1856.5 756.6,1836.3 757.2,1822.7 757.8,1802.9 758.4,1783.4 759.0,1773.3 759.6,1755.3 760.2,1743.4 760.8,1726.5 761.4,1725.8 762.0,1724.1 762.6,1741.0 763.2,1757.0 763.8,1781.4 764.4,1805.6 765.0,1833.3 765.6,1852.3 766.2,1874.0 766.8,1897.8 767.4,1922.3 768.0,1954.8 768.6,1969.2 769.2,1997.2 769.8,2026.6 770.4,2052.3 771.0,2073.9 771.6,2103.6 772.2,2127.8 772.8,2146.9 773.4,2154.6 774.0,2166.4 774.6,2167.7 775.2,2176.3 775.8,2173.7 776.4,2185.5 777.0,2186.7 777.6,2194.3 778.2,2208.2 778.8,2213.1 779.4,2224.3 780.0,2227.3 780.6,2240.5 781.2,2242.7 781.8,2245.8 782.4,2254.6 783.0,2261.6 783.6,2262.8 784.2,2270.7 784.8,2278.8 785.4,2280.7 786.0,2283.2 786.6,2286.2 787.2,2292.8 787.8,2292.6 788.4,2293.6 789.0,2302.4 789.6,2305.4 790.2,2314.7 790.8,2315.0 791.4,2316.2 792.0,2319.0 792.6,2325.0 793.2,2325.5 793.8,2328.8 794.4,2332.5 795.0,2335.4 795.6,2338.0 796.2,2340.4 796.8,2344.5 797.4,2347.2 798.0,2343.5 798.6,2351.9 799.2,2349.5 799.8,2352.7 800.4,2350.9 801.0,2353.9 801.6,2354.9 802.2,2355.9 802.8,2358.1 803.4,2358.8 804.0,2357.4 804.6,2359.7 805.2,2361.9 805.8,2362.7 806.4,2362.1 807.0,2363.0 807.6,2364.0 808.2,2363.5 808.8,2364.0 809.4,2368.8 810.0,2366.8 810.6,2368.3 811.2,2367.8 811.8,2371.4 812.4,2372.7 813.0,2370.7 813.6,2372.3 814.2,2371.2 814.8,2375.2 815.4,2374.7 816.0,2373.0 816.6,2376.3 817.2,2375.6 817.8,2376.2 818.4,2376.7 819.0,2375.8 819.6,2376.5 820.2,2378.4 820.8,2378.0 821.4,2377.2 822.0,2381.4 822.6,2379.0 823.2,2378.9 823.8,2379.1 824.4,2381.2 825.0,2381.9 825.6,2381.4 826.2,2382.5 826.8,2379.9 827.4,2381.6 828.0,2381.8 828.6,2382.7 829.2,2383.6 829.8,2380.8 830.4,2387.5 831.0,2382.8 831.6,2384.6 832.2,2385.5 832.8,2385.8 833.4,2385.3 834.0,2381.6 834.6,2384.1 835.2,2386.7 835.8,2384.8 836.4,2384.9 837.0,2383.5 837.6,2388.2 838.2,2387.5 838.8,2386.0 839.4,2387.1 840.0,2387.4 840.6,2386.3 841.2,2387.6 841.8,2388.5 842.4,2389.0 843.0,2390.1 843.6,2388.8 844.2,2388.3 844.8,2389.6 845.4,2388.5 846.0,2387.9 846.6,2391.1 847.2,2389.4 847.8,2390.2 848.4,2391.0 849.0,2389.0 849.6,2391.3 850.2,2391.3 850.8,2390.7 851.4,2391.5 852.0,2390.3 852.6,2388.6 853.2,2391.2 853.8,2390.5 854.4,2392.9 855.0,2392.3 855.6,2391.5 856.2,2392.3 856.8,2394.1 857.4,2394.0 858.0,2393.2 858.6,2393.4 859.2,2392.7 859.8,2393.0 860.4,2394.1 861.0,2393.3 861.6,2394.0 862.2,2392.4 862.8,2391.9 863.4,2392.0 864.0,2393.7 864.6,2396.1 865.2,2396.1 865.8,2393.5 866.4,2393.0 867.0,2396.1 867.6,2395.8 868.2,2393.7 868.8,2396.9 869.4,2395.9 870.0,2397.5 870.6,2396.4 871.2,2397.2 871.8,2396.6 872.4,2395.2 873.0,2396.2 873.6,2395.7 874.2,2397.7 874.8,2395.5 875.4,2394.9 876.0,2397.8 876.6,2398.4 877.2,2398.9 877.8,2398.5 878.4,2395.3 879.0,2396.3 879.6,2396.5 880.2,2397.2 880.8,2394.5 881.4,2397.2 882.0,2397.5 882.6,2396.0 883.2,2397.3 883.8,2398.6 884.4,2397.2 885.0,2398.4 885.6,2398.4 886.2,2397.6 886.8,2397.5 887.4,2396.5 888.0,2398.5 888.6,2396.4 889.2,2396.0 889.8,2397.8 890.4,2395.9 891.0,2397.4 891.6,2398.1 892.2,2396.9 892.8,2396.9 893.4,2397.8 894.0,2397.6 894.6,2394.7 895.2,2395.0 895.8,2398.3 896.4,2397.1 897.0,2394.0 897.6,2394.9 898.2,2396.6 898.8,2395.3 899.4,2397.1 900.0,2396.6 900.6,2397.1 901.2,2395.1 901.8,2397.3 902.4,2399.0 903.0,2395.5 903.6,2398.2 904.2,2397.8 904.8,2397.4 905.4,2396.5 906.0,2395.1 906.6,2395.5 907.2,2397.6 907.8,2397.9 908.4,2398.2 909.0,2397.9 909.6,2397.8 910.2,2396.2 910.8,2395.2 911.4,2397.0 912.0,2397.4 912.6,2396.9 913.2,2394.9 913.8,2396.1 914.4,2395.0 915.0,2397.0 915.6,2395.5 916.2,2396.7 916.8,2397.3 917.4,2397.1 918.0,2398.6 918.6,2395.5 919.2,2394.2 919.8,2398.1 920.4,2398.7 921.0,2398.8 921.6,2397.3 922.2,2397.7 922.8,2397.2 923.4,2395.4 924.0,2396.3 924.6,2397.6 925.2,2396.3 925.8,2399.4 926.4,2395.1 927.0,2396.5 927.6,2398.4 928.2,2396.3 928.8,2395.6 929.4,2395.3 930.0,2396.1 930.6,2398.9 931.2,2397.5 931.8,2397.7 932.4,2396.4 933.0,2398.1 933.6,2397.1 934.2,2395.9 934.8,2396.4 935.4,2397.2 936.0,2398.5 936.6,2396.9 937.2,2397.6 937.8,2399.5 938.4,2396.0 939.0,2395.4 939.6,2398.2 940.2,2397.5 940.8,2396.8 941.4,2397.2 942.0,2396.5 942.6,2397.5 943.2,2396.5 943.8,2397.9 944.4,2395.4 945.0,2395.8 945.6,2397.0 946.2,2396.2 946.8,2397.7 947.4,2396.7 948.0,2396.1 948.6,2397.0 949.2,2396.1 949.8,2394.8 950.4,2395.3 951.0,2395.7 951.6,2396.1 952.2,2396.8 952.8,2397.8 953.4,2397.3 954.0,2398.8 954.6,2398.2 955.2,2396.3 955.8,2398.6 956.4,2398.0 957.0,2395.9 957.6,2396.9 958.2,2397.8 958.8,2396.7 959.4,2397.7 960.0,2396.9 960.6,2397.2 961.2,2395.9 961.8,2396.8 962.4,2395.8 963.0,2397.1 963.6,2394.1 964.2,2396.6 964.8,2397.7 965.4,2396.9 966.0,2396.1 966.6,2396.8 967.2,2395.0 967.8,2395.0 968.4,2395.6 969.0,2395.8 969.6,2397.1 970.2,2394.8 970.8,2397.1 971.4,2393.9 972.0,2394.8 972.6,2395.7 973.2,2397.2 973.8,2394.9 974.4,2393.0 975.0,2396.1 975.6,2395.5 976.2,2394.2 976.8,2394.2 977.4,2394.5 978.0,2395.4 978.6,2396.0 979.2,2393.2 979.8,2397.8 980.4,2394.7 981.0,2394.1 981.6,2395.3 982.2,2394.4 982.8,2396.9 983.4,2395.1 984.0,2393.1 984.6,2392.8 985.2,2392.4 985.8,2392.3 986.4,2393.3 987.0,2391.3 987.6,2393.9 988.2,2391.4 988.8,2391.0 989.4,2392.1 990.0,2388.1 990.6,2389.0 991.2,2390.6 991.8,2389.5 992.4,2389.1 993.0,2389.3 993.6,2387.6 994.2,2387.8 994.8,2386.0 995.4,2384.9 996.0,2388.5 996.6,2385.4 997.2,2385.3 997.8,2387.5 998.4,2386.7 999.0,2384.4 999.6,2384.0 1000.2,2384.2 1000.8,2382.7 1001.4,2384.2 1002.0,2383.4 1002.6,2383.0 1003.2,2383.4 1003.8,2383.0 1004.4,2384.0 1005.0,2383.2 1005.6,2378.7 1006.2,2381.6 1006.8,2378.7 1007.4,2377.9 1008.0,2380.1 1008.6,2377.9 1009.2,2378.0 1009.8,2379.3 1010.4,2376.6 1011.0,2375.9 1011.6,2377.0 1012.2,2377.7 1012.8,2376.3 1013.4,2373.1 1014.0,2373.8 1014.6,2373.9 1015.2,2376.1 1015.8,2374.2 1016.4,2373.6 1017.0,2373.5 1017.6,2370.9 1018.2,2371.4 1018.8,2370.9 1019.4,2368.3 1020.0,2369.0 1020.6,2369.1 1021.2,2366.2 1021.8,2368.2 1022.4,2367.4 1023.0,2367.2 1023.6,2363.9 1024.2,2364.4 1024.8,2365.6 1025.4,2364.0 1026.0,2360.9 1026.6,2361.6 1027.2,2362.5 1027.8,2359.4 1028.4,2359.1 1029.0,2361.4 1029.6,2356.5 1030.2,2355.3 1030.8,2352.8 1031.4,2352.1 1032.0,2354.3 1032.6,2350.5 1033.2,2347.5 1033.8,2346.6 1034.4,2346.7 1035.0,2346.5 1035.6,2342.6 1036.2,2343.5 1036.8,2340.0 1037.4,2339.8 1038.0,2338.4 1038.6,2336.8 1039.2,2333.1 1039.8,2331.5 1040.4,2330.4 1041.0,2324.8 1041.6,2325.0 1042.2,2323.0 1042.8,2321.3 1043.4,2316.5 1044.0,2313.5 1044.6,2311.2 1045.2,2306.7 1045.8,2304.8 1046.4,2303.2 1047.0,2300.2 1047.6,2294.7 1048.2,2293.4 1048.8,2287.0 1049.4,2290.6 1050.0,2285.1 1050.6,2284.2 1051.2,2278.6 1051.8,2278.1 1052.4,2276.5 1053.0,2275.0 1053.6,2267.0 1054.2,2269.3 1054.8,2264.2 1055.4,2260.1 1056.0,2260.3 1056.6,2255.8 1057.2,2253.2 1057.8,2249.6 1058.4,2249.2 1059.0,2246.3 1059.6,2243.3 1060.2,2238.9 1060.8,2237.7 1061.4,2237.6 1062.0,2237.6 1062.6,2232.2 1063.2,2233.8 1063.8,2228.1 1064.4,2223.2 1065.0,2225.3 1065.6,2218.9 1066.2,2220.2 1066.8,2219.7 1067.4,2213.9 1068.0,2212.3 1068.6,2217.1 1069.2,2209.3 1069.8,2207.6 1070.4,2207.5 1071.0,2203.8 1071.6,2202.8 1072.2,2203.2 1072.8,2195.3 1073.4,2205.4 1074.0,2198.8 1074.6,2199.2 1075.2,2204.3 1075.8,2203.9 1076.4,2201.7 1077.0,2207.0 1077.6,2204.9 1078.2,2207.8 1078.8,2207.5 1079.4,2211.2 1080.0,2216.4 1080.6,2217.8 1081.2,2220.3 1081.8,2224.0 1082.4,2223.7 1083.0,2224.7 1083.6,2228.5 1084.2,2236.5 1084.8,2235.9 1085.4,2240.2 1086.0,2243.1 1086.6,2247.9 1087.2,2252.5 1087.8,2255.8 1088.4,2259.8 1089.0,2262.7 1089.6,2267.0 1090.2,2274.3 1090.8,2279.4 1091.4,2284.0 1092.0,2286.8 1092.6,2290.1 1093.2,2298.5 1093.8,2304.1 1094.4,2305.6 1095.0,2315.8 1095.6,2320.9 1096.2,2328.2 1096.8,2328.1 1097.4,2332.5 1098.0,2340.0 1098.6,2339.0 1099.2,2343.3 1099.8,2345.0 1100.4,2347.4 1101.0,2348.1 1101.6,2352.7 1102.2,2356.5 1102.8,2357.5 1103.4,2359.2 1104.0,2359.7 1104.6,2363.9 1105.2,2364.1 1105.8,2366.2 1106.4,2363.9 1107.0,2367.9 1107.6,2367.1 1108.2,2370.4 1108.8,2371.3 1109.4,2370.6 1110.0,2373.4 1110.6,2375.7 1111.2,2375.9 1111.8,2376.9 1112.4,2376.0 1113.0,2377.1 1113.6,2377.5 1114.2,2379.9 1114.8,2382.1 1115.4,2382.0 1116.0,2382.4 1116.6,2381.8 1117.2,2384.5 1117.8,2384.5 1118.4,2383.1 1119.0,2384.1 1119.6,2386.5 1120.2,2386.4 1120.8,2390.2 1121.4,2388.7 1122.0,2387.9 1122.6,2389.0 1123.2,2391.9 1123.8,2389.1 1124.4,2391.5 1125.0,2391.2 1125.6,2392.7 1126.2,2391.7 1126.8,2390.7 1127.4,2392.0 1128.0,2391.6 1128.6,2392.8 1129.2,2391.7 1129.8,2394.4 1130.4,2391.9 1131.0,2392.8 1131.6,2391.5 1132.2,2392.7 1132.8,2392.7 1133.4,2393.0 1134.0,2394.0 1134.6,2392.4 1135.2,2392.1 1135.8,2394.7 1136.4,2393.0 1137.0,2392.7 1137.6,2395.1 1138.2,2394.7 1138.8,2390.6 1139.4,2393.5 1140.0,2395.1 1140.6,2395.2 1141.2,2393.7 1141.8,2396.4 1142.4,2393.5 1143.0,2394.3 1143.6,2394.9 1144.2,2394.8 1144.8,2395.9 1145.4,2396.3 1146.0,2395.0 1146.6,2396.9 1147.2,2394.4 1147.8,2395.1 1148.4,2397.5 1149.0,2395.6 1149.6,2396.9 1150.2,2395.1 1150.8,2395.4 1151.4,2395.7 1152.0,2396.1 1152.6,2395.5 1153.2,2396.0 1153.8,2396.9 1154.4,2397.6 1155.0,2396.3 1155.6,2397.0 1156.2,2397.4 1156.8,2395.0 1157.4,2394.4 1158.0,2398.4 1158.6,2398.1 1159.2,2396.6 1159.8,2397.0 1160.4,2395.4 1161.0,2394.9 1161.6,2397.1 1162.2,2394.9 1162.8,2397.9 1163.4,2395.9 1164.0,2397.2 1164.6,2399.2 1165.2,2399.2 1165.8,2396.5 1166.4,2398.2 1167.0,2395.6 1167.6,2396.2 1168.2,2397.4 1168.8,2398.7 1169.4,2396.3 1170.0,2397.7 1170.6,2397.1 1171.2,2395.4 1171.8,2396.9 1172.4,2398.9 1173.0,2396.9 1173.6,2397.7 1174.2,2398.1 1174.8,2396.1 1175.4,2398.6 1176.0,2398.9 1176.6,2399.0 1177.2,2398.7 1177.8,2396.4 1178.4,2396.3 1179.0,2396.0 1179.6,2395.9 1180.2,2396.0 1180.8,2398.2 1181.4,2398.8 1182.0,2396.1 1182.6,2397.9 1183.2,2395.3 1183.8,2396.5 1184.4,2395.6 1185.0,2394.8 1185.6,2396.9 1186.2,2396.9 1186.8,2396.3 1187.4,2396.1 1188.0,2395.5 1188.6,2396.6 1189.2,2395.9 1189.8,2397.0 1190.4,2395.1 1191.0,2396.9 1191.6,2397.2 1192.2,2398.1 1192.8,2397.8 1193.4,2396.7 1194.0,2395.6 1194.6,2394.1 1195.2,2396.4 1195.8,2398.1 1196.4,2398.4 1197.0,2393.1 1197.6,2395.3 1198.2,2395.8 1198.8,2394.9 1199.4,2396.4 1200.0,2396.1 1200.6,2395.4 1201.2,2396.0 1201.8,2394.0 1202.4,2394.7 1203.0,2394.7 1203.6,2396.9 1204.2,2393.7 1204.8,2395.5 1205.4,2396.6 1206.0,2395.5 1206.6,2396.6 1207.2,2394.7 1207.8,2396.0 1208.4,2396.5 1209.0,2398.1 1209.6,2396.2 1210.2,2397.0 1210.8,2395.2 1211.4,2395.2 1212.0,2397.0 1212.6,2395.7 1213.2,2396.7 1213.8,2395.8 1214.4,2397.5 1215.0,2397.7 1215.6,2393.7 1216.2,2397.0 1216.8,2395.1 1217.4,2395.1 1218.0,2394.3 1218.6,2395.3 1219.2,2392.9 1219.8,2393.3 1220.4,2393.2 1221.0,2394.4 1221.6,2395.2 1222.2,2394.9 1222.8,2394.3 1223.4,2393.1 1224.0,2391.5 1224.6,2394.1 1225.2,2393.7 1225.8,2393.8 1226.4,2395.0 1227.0,2392.8 1227.6,2392.6 1228.2,2389.7 1228.8,2393.1 1229.4,2392.1 1230.0,2391.0 1230.6,2392.2 1231.2,2390.1 1231.8,2390.5 1232.4,2393.4 1233.0,2391.6 1233.6,2391.5 1234.2,2391.0 1234.8,2390.6 1235.4,2389.8 1236.0,2392.1 1236.6,2388.9 1237.2,2389.6 1237.8,2388.2 1238.4,2387.7 1239.0,2384.9 1239.6,2385.3 1240.2,2389.4 1240.8,2389.1 1241.4,2386.4 1242.0,2386.7 1242.6,2387.3 1243.2,2385.1 1243.8,2388.3 1244.4,2384.6 1245.0,2384.8 1245.6,2382.0 1246.2,2387.2 1246.8,2385.1 1247.4,2386.9 1248.0,2383.4 1248.6,2384.8 1249.2,2384.3 1249.8,2384.3 1250.4,2386.4 1251.0,2386.4 1251.6,2385.1 1252.2,2382.7 1252.8,2384.1 1253.4,2384.4 1254.0,2383.2 1254.6,2383.0 1255.2,2382.6 1255.8,2380.7 1256.4,2381.9 1257.0,2383.3 1257.6,2379.8 1258.2,2380.9 1258.8,2381.6 1259.4,2378.6 1260.0,2379.9 1260.6,2377.6 1261.2,2378.7 1261.8,2377.4 1262.4,2377.8 1263.0,2378.0 1263.6,2377.9 1264.2,2377.7 1264.8,2374.6 1265.4,2379.3 1266.0,2376.6 1266.6,2375.2 1267.2,2375.4 1267.8,2376.3 1268.4,2374.2 1269.0,2374.6 1269.6,2374.2 1270.2,2375.1 1270.8,2373.0 1271.4,2374.2 1272.0,2373.6 1272.6,2372.5 1273.2,2374.0 1273.8,2371.9 1274.4,2369.8 1275.0,2371.3 1275.6,2370.5 1276.2,2369.8 1276.8,2369.6 1277.4,2372.0 1278.0,2368.5 1278.6,2368.3 1279.2,2366.7 1279.8,2368.2 1280.4,2365.7 1281.0,2363.9 1281.6,2362.6 1282.2,2364.4 1282.8,2364.0 1283.4,2359.9 1284.0,2360.3 1284.6,2361.5 1285.2,2361.2 1285.8,2356.8 1286.4,2357.2 1287.0,2358.0 1287.6,2354.7 1288.2,2353.5 1288.8,2352.0 1289.4,2349.4 1290.0,2350.0 1290.6,2348.8 1291.2,2344.3 1291.8,2345.0 1292.4,2344.8 1293.0,2341.4 1293.6,2340.6 1294.2,2336.0 1294.8,2337.1 1295.4,2331.1 1296.0,2333.5 1296.6,2326.9 1297.2,2323.9 1297.8,2321.0 1298.4,2319.2 1299.0,2316.3 1299.6,2313.1 1300.2,2310.9 1300.8,2309.6 1301.4,2306.4 1302.0,2299.9 1302.6,2298.8 1303.2,2289.4 1303.8,2284.3 1304.4,2278.8 1305.0,2277.0 1305.6,2266.3 1306.2,2260.6 1306.8,2260.5 1307.4,2255.2 1308.0,2247.7 1308.6,2233.6 1309.2,2229.7 1309.8,2223.7 1310.4,2212.9 1311.0,2198.6 1311.6,2191.6 1312.2,2176.3 1312.8,2164.3 1313.4,2156.3 1314.0,2131.7 1314.6,2105.7 1315.2,2090.6 1315.8,2082.6 1316.4,2064.8 1317.0,2054.6 1317.6,2037.9 1318.2,2028.2 1318.8,2020.9 1319.4,2011.2 1320.0,2006.3 1320.6,2010.9 1321.2,2018.8 1321.8,2029.9 1322.4,2042.2 1323.0,2055.5 1323.6,2071.3 1324.2,2080.5 1324.8,2100.6 1325.4,2114.0 1326.0,2120.7 1326.6,2132.4 1327.2,2147.9 1327.8,2158.3 1328.4,2168.8 1329.0,2179.2 1329.6,2189.3 1330.2,2200.2 1330.8,2216.9 1331.4,2229.7 1332.0,2234.8 1332.6,2247.2 1333.2,2256.4 1333.8,2262.0 1334.4,2267.4 1335.0,2274.1 1335.6,2276.3 1336.2,2285.8 1336.8,2290.3 1337.4,2300.0 1338.0,2302.0 1338.6,2303.6 1339.2,2308.2 1339.8,2315.2 1340.4,2318.3 1341.0,2318.7 1341.6,2321.0 1342.2,2321.1 1342.8,2325.5 1343.4,2328.1 1344.0,2329.2 1344.6,2335.7 1345.2,2331.4 1345.8,2336.4 1346.4,2339.2 1347.0,2341.1 1347.6,2344.9 1348.2,2341.5 1348.8,2344.2 1349.4,2347.1 1350.0,2348.7 1350.6,2349.3 1351.2,2350.1 1351.8,2354.3 1352.4,2352.3 1353.0,2354.2 1353.6,2358.4 1354.2,2360.0 1354.8,2359.7 1355.4,2358.1 1356.0,2359.1 1356.6,2359.9 1357.2,2360.4 1357.8,2362.3 1358.4,2365.5 1359.0,2364.8 1359.6,2364.2 1360.2,2364.9 1360.8,2365.2 1361.4,2369.2 1362.0,2365.5 1362.6,2369.4 1363.2,2367.8 1363.8,2369.1 1364.4,2369.2 1365.0,2373.2 1365.6,2372.4 1366.2,2376.8 1366.8,2372.5 1367.4,2373.0 1368.0,2375.8 1368.6,2376.3 1369.2,2375.7 1369.8,2374.0 1370.4,2378.9 1371.0,2378.2 1371.6,2378.4 1372.2,2377.5 1372.8,2379.4 1373.4,2378.2 1374.0,2379.3 1374.6,2379.2 1375.2,2381.2 1375.8,2379.2 1376.4,2379.4 1377.0,2381.3 1377.6,2380.2 1378.2,2379.9 1378.8,2379.6 1379.4,2381.0 1380.0,2379.0 1380.6,2380.3 1381.2,2382.1 1381.8,2380.0 1382.4,2378.4 1383.0,2377.7 1383.6,2379.3 1384.2,2377.4 1384.8,2376.8 1385.4,2377.6 1386.0,2377.0 1386.6,2379.3 1387.2,2376.2 1387.8,2379.8 1388.4,2376.6 1389.0,2377.5 1389.6,2378.0 1390.2,2377.2 1390.8,2377.6 1391.4,2375.1 1392.0,2373.2 1392.6,2375.6 1393.2,2373.5 1393.8,2374.6 1394.4,2376.4 1395.0,2374.6 1395.6,2373.9 1396.2,2372.9 1396.8,2373.7 1397.4,2373.6 1398.0,2371.4 1398.6,2373.5 1399.2,2371.4 1399.8,2372.7 1400.4,2371.5 1401.0,2373.0 1401.6,2372.4 1402.2,2370.9 1402.8,2370.3 1403.4,2370.6 1404.0,2371.5 1404.6,2370.6 1405.2,2368.9 1405.8,2368.6 1406.4,2369.9 1407.0,2364.9 1407.6,2367.5 1408.2,2364.9 1408.8,2367.6 1409.4,2364.5 1410.0,2364.5 1410.6,2362.5 1411.2,2363.6 1411.8,2364.1 1412.4,2364.9 1413.0,2360.0 1413.6,2360.7 1414.2,2366.5 1414.8,2361.6 1415.4,2359.6 1416.0,2359.8 1416.6,2354.4 1417.2,2360.2 1417.8,2357.4 1418.4,2354.4 1419.0,2357.7 1419.6,2354.3 1420.2,2353.0 1420.8,2354.7 1421.4,2353.8 1422.0,2351.8 1422.6,2351.6 1423.2,2348.9 1423.8,2348.0 1424.4,2350.9 1425.0,2350.8 1425.6,2348.6 1426.2,2347.6 1426.8,2345.6 1427.4,2345.1 1428.0,2342.9 1428.6,2346.4 1429.2,2341.7 1429.8,2342.4 1430.4,2340.7 1431.0,2337.3 1431.6,2342.0 1432.2,2337.0 1432.8,2335.3 1433.4,2335.7 1434.0,2332.8 1434.6,2333.3 1435.2,2330.4 1435.8,2331.9 1436.4,2329.7 1437.0,2325.8 1437.6,2328.7 1438.2,2325.7 1438.8,2321.7 1439.4,2322.8 1440.0,2321.3 1440.6,2322.2 1441.2,2315.3 1441.8,2316.7 1442.4,2313.0 1443.0,2312.4 1443.6,2308.7 1444.2,2307.0 1444.8,2306.0 1445.4,2300.5 1446.0,2296.4 1446.6,2298.4 1447.2,2295.3 1447.8,2294.0 1448.4,2292.6 1449.0,2288.1 1449.6,2288.2 1450.2,2282.6 1450.8,2279.8 1451.4,2278.1 1452.0,2274.3 1452.6,2269.5 1453.2,2266.7 1453.8,2261.4 1454.4,2258.5 1455.0,2256.9 1455.6,2255.4 1456.2,2249.2 1456.8,2248.9 1457.4,2248.3 1458.0,2245.4 1458.6,2236.6 1459.2,2235.4 1459.8,2230.5 1460.4,2226.8 1461.0,2222.3 1461.6,2216.5 1462.2,2212.2 1462.8,2205.5 1463.4,2199.4 1464.0,2196.4 1464.6,2193.3 1465.2,2191.8 1465.8,2186.1 1466.4,2184.1 1467.0,2183.1 1467.6,2173.6 1468.2,2173.0 1468.8,2172.9 1469.4,2169.3 1470.0,2164.3 1470.6,2168.2 1471.2,2163.4 1471.8,2159.0 1472.4,2165.9 1473.0,2155.1 1473.6,2157.4 1474.2,2154.1 1474.8,2155.2 1475.4,2155.4 1476.0,2150.1 1476.6,2151.1 1477.2,2149.9 1477.8,2146.1 1478.4,2151.5 1479.0,2147.3 1479.6,2144.8 1480.2,2142.6 1480.8,2142.4 1481.4,2142.7 1482.0,2139.7 1482.6,2143.7 1483.2,2130.7 1483.8,2130.4 1484.4,2134.5 1485.0,2127.9 1485.6,2131.5 1486.2,2127.7 1486.8,2129.7 1487.4,2127.2 1488.0,2128.1 1488.6,2125.0 1489.2,2123.9 1489.8,2119.2 1490.4,2118.4 1491.0,2114.3 1491.6,2108.8 1492.2,2105.1 1492.8,2104.4 1493.4,2110.6 1494.0,2107.7 1494.6,2124.7 1495.2,2129.8 1495.8,2139.7 1496.4,2142.6 1497.0,2144.0 1497.6,2150.4 1498.2,2148.0 1498.8,2160.5 1499.4,2166.5 1500.0,2165.5 1500.6,2179.4 1501.2,2183.2 1501.8,2191.2 1502.4,2195.1 1503.0,2209.0 1503.6,2216.9 1504.2,2222.4 1504.8,2226.5 1505.4,2237.1 1506.0,2244.3 1506.6,2247.9 1507.2,2254.8 1507.8,2256.4 1508.4,2263.5 1509.0,2269.2 1509.6,2273.7 1510.2,2284.4 1510.8,2283.5 1511.4,2285.3 1512.0,2291.8 1512.6,2291.2 1513.2,2297.5 1513.8,2301.4 1514.4,2301.8 1515.0,2305.1 1515.6,2306.6 1516.2,2311.3 1516.8,2312.3 1517.4,2319.3 1518.0,2319.5 1518.6,2320.1 1519.2,2319.9 1519.8,2328.3 1520.4,2328.8 1521.0,2329.1 1521.6,2330.4 1522.2,2332.1 1522.8,2332.7 1523.4,2338.5 1524.0,2337.2 1524.6,2336.0 1525.2,2338.9 1525.8,2337.2 1526.4,2344.1 1527.0,2345.7 1527.6,2348.7 1528.2,2350.6 1528.8,2347.3 1529.4,2350.5 1530.0,2352.6 1530.6,2353.5 1531.2,2352.7 1531.8,2355.8 1532.4,2356.5 1533.0,2358.9 1533.6,2357.8 1534.2,2358.5 1534.8,2359.1 1535.4,2360.2 1536.0,2360.6 1536.6,2362.1 1537.2,2364.2 1537.8,2365.1 1538.4,2367.2 1539.0,2367.7 1539.6,2367.8 1540.2,2366.2 1540.8,2369.4 1541.4,2371.0 1542.0,2368.3 1542.6,2369.3 1543.2,2370.3 1543.8,2370.9 1544.4,2372.6 1545.0,2372.4 1545.6,2374.7 1546.2,2373.2 1546.8,2375.2 1547.4,2375.3 1548.0,2375.2 1548.6,2378.3 1549.2,2377.5 1549.8,2378.6 1550.4,2377.9 1551.0,2379.7 1551.6,2380.0 1552.2,2379.5 1552.8,2377.9 1553.4,2381.6 1554.0,2381.8 1554.6,2381.6 1555.2,2382.1 1555.8,2382.3 1556.4,2382.8 1557.0,2381.7 1557.6,2383.3 1558.2,2384.1 1558.8,2383.3 1559.4,2383.2 1560.0,2387.0 1560.6,2385.7 1561.2,2384.9 1561.8,2384.9 1562.4,2382.4 1563.0,2384.1 1563.6,2385.8 1564.2,2387.8 1564.8,2383.8 1565.4,2385.5 1566.0,2388.8 1566.6,2387.3 1567.2,2387.0 1567.8,2388.0 1568.4,2386.3 1569.0,2386.2 1569.6,2387.3 1570.2,2387.5 1570.8,2385.1 1571.4,2388.3 1572.0,2384.2 1572.6,2385.5 1573.2,2390.2 1573.8,2385.7 1574.4,2387.1 1575.0,2385.0 1575.6,2385.9 1576.2,2385.4 1576.8,2385.7 1577.4,2387.0 1578.0,2388.4 1578.6,2387.2 1579.2,2388.0 1579.8,2385.4 1580.4,2387.9 1581.0,2386.7 1581.6,2387.7 1582.2,2385.4 1582.8,2385.6 1583.4,2387.5 1584.0,2386.6 1584.6,2385.9 1585.2,2384.8 1585.8,2385.5 1586.4,2386.2 1587.0,2386.5 1587.6,2384.8 1588.2,2385.0 1588.8,2385.9 1589.4,2384.0 1590.0,2386.5 1590.6,2385.2 1591.2,2385.0 1591.8,2382.1 1592.4,2383.1 1593.0,2383.7 1593.6,2384.2 1594.2,2383.5 1594.8,2385.3 1595.4,2384.9 1596.0,2384.3 1596.6,2382.1 1597.2,2386.3 1597.8,2384.1 1598.4,2385.1 1599.0,2383.4 1599.6,2384.1 1600.2,2384.9 1600.8,2384.2 1601.4,2385.0 1602.0,2383.4 1602.6,2386.0 1603.2,2381.0 1603.8,2382.6 1604.4,2384.4 1605.0,2382.7 1605.6,2382.3 1606.2,2380.5 1606.8,2384.0 1607.4,2380.0 1608.0,2382.9 1608.6,2382.3 1609.2,2383.0 1609.8,2383.5 1610.4,2380.7 1611.0,2380.3 1611.6,2380.8 1612.2,2378.8 1612.8,2381.8 1613.4,2380.1 1614.0,2380.6 1614.6,2378.8 1615.2,2380.0 1615.8,2379.0 1616.4,2379.5 1617.0,2378.0 1617.6,2380.4 1618.2,2378.1 1618.8,2375.5 1619.4,2379.3 1620.0,2377.9 1620.6,2376.9 1621.2,2380.9 1621.8,2377.4 1622.4,2375.5 1623.0,2376.2 1623.6,2377.1 1624.2,2376.1 1624.8,2377.6 1625.4,2377.1 1626.0,2374.4 1626.6,2375.1 1627.2,2375.5 1627.8,2373.8 1628.4,2373.3 1629.0,2374.7 1629.6,2373.7 1630.2,2370.8 1630.8,2371.5 1631.4,2371.2 1632.0,2371.2 1632.6,2369.9 1633.2,2372.2 1633.8,2368.5 1634.4,2367.8 1635.0,2369.1 1635.6,2365.1 1636.2,2366.2 1636.8,2367.9 1637.4,2364.6 1638.0,2364.6 1638.6,2366.7 1639.2,2365.2 1639.8,2363.9 1640.4,2363.5 1641.0,2361.5 1641.6,2362.1 1642.2,2360.5 1642.8,2363.5 1643.4,2359.6 1644.0,2357.1 1644.6,2356.3 1645.2,2355.1 1645.8,2351.5 1646.4,2350.9 1647.0,2353.1 1647.6,2346.9 1648.2,2346.6 1648.8,2347.5 1649.4,2346.7 1650.0,2340.8 1650.6,2343.2 1651.2,2338.3 1651.8,2340.0 1652.4,2336.2 1653.0,2333.1 1653.6,2333.0 1654.2,2331.0 1654.8,2326.7 1655.4,2330.1 1656.0,2323.6 1656.6,2324.2 1657.2,2319.1 1657.8,2314.4 1658.4,2313.4 1659.0,2313.1 1659.6,2312.3 1660.2,2312.1 1660.8,2306.4 1661.4,2303.2 1662.0,2298.9 1662.6,2298.8 1663.2,2296.9 1663.8,2289.0 1664.4,2293.6 1665.0,2290.5 1665.6,2290.1 1666.2,2280.3 1666.8,2279.4 1667.4,2276.4 1668.0,2270.5 1668.6,2268.6 1669.2,2265.3 1669.8,2265.8 1670.4,2262.8 1671.0,2262.1 1671.6,2255.3 1672.2,2250.2 1672.8,2252.0 1673.4,2249.2 1674.0,2247.1 1674.6,2245.6 1675.2,2238.0 1675.8,2238.4 1676.4,2230.7 1677.0,2230.6 1677.6,2228.9 1678.2,2224.0 1678.8,2222.1 1679.4,2215.3 1680.0,2214.9 1680.6,2214.9 1681.2,2209.6 1681.8,2209.1 1682.4,2216.9 1683.0,2210.5 1683.6,2207.6 1684.2,2207.2 1684.8,2214.1 1685.4,2203.8 1686.0,2211.2 1686.6,2214.8 1687.2,2213.0 1687.8,2217.3 1688.4,2214.8 1689.0,2219.2 1689.6,2221.1 1690.2,2222.9 1690.8,2225.2 1691.4,2226.8 1692.0,2231.7 1692.6,2230.9 1693.2,2233.3 1693.8,2237.6 1694.4,2241.3 1695.0,2242.5 1695.6,2245.8 1696.2,2251.6 1696.8,2259.8 1697.4,2262.0 1698.0,2266.9 1698.6,2278.5 1699.2,2278.4 1699.8,2279.3 1700.4,2282.2 1701.0,2290.5 1701.6,2290.1 1702.2,2298.4 1702.8,2301.3 1703.4,2307.0 1704.0,2307.0 1704.6,2314.2 1705.2,2313.0 1705.8,2320.0 1706.4,2326.0 1707.0,2328.8 1707.6,2327.5 1708.2,2335.0 1708.8,2337.3 1709.4,2338.8 1710.0,2339.8 1710.6,2342.3 1711.2,2343.6 1711.8,2347.9 1712.4,2348.8 1713.0,2351.3 1713.6,2352.3 1714.2,2350.8 1714.8,2354.5 1715.4,2359.0 1716.0,2355.4 1716.6,2358.9 1717.2,2358.6 1717.8,2359.7 1718.4,2362.5 1719.0,2364.6 1719.6,2365.5 1720.2,2366.1 1720.8,2367.8 1721.4,2365.1 1722.0,2369.4 1722.6,2369.6 1723.2,2369.6 1723.8,2370.6 1724.4,2370.1 1725.0,2373.4 1725.6,2371.5 1726.2,2371.0 1726.8,2373.5 1727.4,2373.2 1728.0,2374.4 1728.6,2376.9 1729.2,2375.3 1729.8,2376.1 1730.4,2379.3 1731.0,2375.1 1731.6,2377.8 1732.2,2379.2 1732.8,2380.1 1733.4,2381.5 1734.0,2378.2 1734.6,2380.2 1735.2,2379.8 1735.8,2379.7 1736.4,2379.7 1737.0,2379.2 1737.6,2381.8 1738.2,2382.7 1738.8,2380.8 1739.4,2383.4 1740.0,2382.1 1740.6,2381.8 1741.2,2380.1 1741.8,2385.0 1742.4,2384.8 1743.0,2383.8 1743.6,2383.9 1744.2,2383.0 1744.8,2385.5 1745.4,2385.0 1746.0,2385.9 1746.6,2385.6 1747.2,2383.8 1747.8,2383.8 1748.4,2386.4 1749.0,2383.8 1749.6,2386.4 1750.2,2387.3 1750.8,2384.6 1751.4,2387.1 1752.0,2386.3 1752.6,2386.9 1753.2,2385.5 1753.8,2386.2 1754.4,2386.8 1755.0,2388.5 1755.6,2387.1 1756.2,2386.8 1756.8,2384.5 1757.4,2386.4 1758.0,2385.1 1758.6,2385.8 1759.2,2386.1 1759.8,2386.9 1760.4,2386.4 1761.0,2385.8 1761.6,2385.3 1762.2,2387.0 1762.8,2384.1 1763.4,2385.1 1764.0,2386.7 1764.6,2384.6 1765.2,2385.7 1765.8,2385.6 1766.4,2386.9 1767.0,2385.7 1767.6,2382.0 1768.2,2383.9 1768.8,2384.1 1769.4,2384.6 1770.0,2383.9 1770.6,2385.6 1771.2,2384.5 1771.8,2381.4 1772.4,2382.0 1773.0,2380.0 1773.6,2384.6 1774.2,2382.1 1774.8,2381.9 1775.4,2379.9 1776.0,2381.1 1776.6,2382.1 1777.2,2380.8 1777.8,2380.7 1778.4,2380.2 1779.0,2383.3 1779.6,2380.0 1780.2,2378.7 1780.8,2379.7 1781.4,2379.7 1782.0,2379.9 1782.6,2379.5 1783.2,2378.3 1783.8,2379.3 1784.4,2379.8 1785.0,2377.4 1785.6,2381.5 1786.2,2381.0 1786.8,2376.4 1787.4,2378.0 1788.0,2379.6 1788.6,2379.9 1789.2,2380.2 1789.8,2375.4 1790.4,2376.2 1791.0,2376.7 1791.6,2377.9 1792.2,2375.6 1792.8,2377.3 1793.4,2377.1 1794.0,2377.3 1794.6,2374.4 1795.2,2376.1 1795.8,2375.7 1796.4,2374.8 1797.0,2376.8 1797.6,2374.5 1798.2,2376.5 1798.8,2373.5 1799.4,2376.3 1800.0,2375.9 1800.6,2372.3 1801.2,2373.5 1801.8,2373.2 1802.4,2371.1 1803.0,2373.1 1803.6,2372.5 1804.2,2370.1 1804.8,2371.0 1805.4,2371.7 1806.0,2369.8 1806.6,2368.5 1807.2,2371.1 1807.8,2366.6 1808.4,2367.6 1809.0,2367.8 1809.6,2366.2 1810.2,2361.3 1810.8,2362.2 1811.4,2361.3 1812.0,2359.8 1812.6,2359.7 1813.2,2358.2 1813.8,2356.1 1814.4,2354.8 1815.0,2354.5 1815.6,2353.4 1816.2,2346.9 1816.8,2352.0 1817.4,2346.1 1818.0,2346.8 1818.6,2341.4 1819.2,2341.9 1819.8,2339.3 1820.4,2342.0 1821.0,2340.4 1821.6,2337.8 1822.2,2336.3 1822.8,2336.1 1823.4,2332.6 1824.0,2332.0 1824.6,2330.5 1825.2,2332.2 1825.8,2329.7 1826.4,2326.2 1827.0,2328.1 1827.6,2327.5 1828.2,2328.2 1828.8,2323.8 1829.4,2324.8 1830.0,2327.3 1830.6,2322.2 1831.2,2321.6 1831.8,2322.7 1832.4,2320.3 1833.0,2320.7 1833.6,2319.3 1834.2,2318.4 1834.8,2321.1 1835.4,2318.3 1836.0,2316.7 1836.6,2317.7 1837.2,2317.6 1837.8,2318.0 1838.4,2318.9 1839.0,2320.1 1839.6,2314.0 1840.2,2315.5 1840.8,2312.1 1841.4,2315.7 1842.0,2315.9 1842.6,2313.2 1843.2,2312.3 1843.8,2311.7 1844.4,2310.3 1845.0,2314.0 1845.6,2316.0 1846.2,2309.5 1846.8,2314.5 1847.4,2310.6 1848.0,2307.6 1848.6,2311.0 1849.2,2310.9 1849.8,2309.7 1850.4,2307.9 1851.0,2311.3 1851.6,2306.9 1852.2,2308.2 1852.8,2307.6 1853.4,2303.9 1854.0,2301.4 1854.6,2301.0 1855.2,2303.0 1855.8,2303.8 1856.4,2298.7 1857.0,2299.9 1857.6,2303.6 1858.2,2295.7 1858.8,2299.2 1859.4,2297.8 1860.0,2297.5 1860.6,2291.5 1861.2,2294.1 1861.8,2289.2 1862.4,2293.9 1863.0,2288.0 1863.6,2289.5 1864.2,2285.8 1864.8,2286.6 1865.4,2281.7 1866.0,2284.4"/>
<polyline fill="none" stroke="#000" stroke-width="1.3" stroke-linejoin="round" points="234.6,2341.4 235.2,2343.7 235.8,2350.2 236.4,2348.0 237.0,2341.8 237.6,2347.6 238.2,2346.6 238.8,2349.8 239.4,2345.4 240.0,2351.8 240.6,2352.6 241.2,2357.4 241.8,2354.5 242.4,2355.9 243.0,2351.0 243.6,2362.6 244.2,2351.5 244.8,2361.0 245.4,2357.8 246.0,2357.1 246.6,2358.6 247.2,2359.5 247.8,2363.3 248.4,2362.8 249.0,2368.0 249.6,2359.9 250.2,2365.7 250.8,2364.2 251.4,2369.5 252.0,2362.7 252.6,2368.2 253.2,2370.4 253.8,2366.8 254.4,2373.9 255.0,2372.6 255.6,2375.4 256.2,2375.9 256.8,2371.8 257.4,2372.9 258.0,2375.1 258.6,2378.1 259.2,2379.0 259.8,2375.8 260.4,2376.7 261.0,2376.9 261.6,2378.0 262.2,2379.5 262.8,2380.3 263.4,2386.0 264.0,2380.6 264.6,2381.7 265.2,2383.9 265.8,2381.2 266.4,2383.1 267.0,2384.4 267.6,2386.6 268.2,2382.5 268.8,2388.8 269.4,2385.5 270.0,2387.1 270.6,2389.0 271.2,2389.1 271.8,2390.3 272.4,2388.9 273.0,2388.9 273.6,2390.0 274.2,2387.6 274.8,2392.6 275.4,2388.9 276.0,2388.3 276.6,2395.4 277.2,2391.3 277.8,2389.6 278.4,2396.0 279.0,2392.0 279.6,2395.1 280.2,2391.7 280.8,2393.2 281.4,2390.7 282.0,2390.6 282.6,2392.8 283.2,2394.8 283.8,2396.8 284.4,2400.3 285.0,2394.0 285.6,2398.1 286.2,2395.4 286.8,2396.5 287.4,2394.3 288.0,2394.6 288.6,2396.2 289.2,2395.7 289.8,2398.1 290.4,2397.1 291.0,2400.9 291.6,2399.1 292.2,2399.4 292.8,2401.3 293.4,2400.4 294.0,2399.7 294.6,2399.8 295.2,2400.0 295.8,2402.3 296.4,2402.0 297.0,2401.5 297.6,2402.5 298.2,2400.3 298.8,2402.4 299.4,2399.3 300.0,2404.2 300.6,2402.3 301.2,2402.6 301.8,2403.5 302.4,2402.7 303.0,2402.4 303.6,2405.1 304.2,2403.4 304.8,2401.9 305.4,2404.3 306.0,2400.9 306.6,2406.7 307.2,2403.8 307.8,2404.3 308.4,2408.2 309.0,2408.2 309.6,2404.9 310.2,2405.9 310.8,2406.8 311.4,2407.9 312.0,2405.0 312.6,2405.5 313.2,2407.5 313.8,2406.0 314.4,2406.9 315.0,2406.8 315.6,2403.9 316.2,2404.4 316.8,2401.5 317.4,2405.6 318.0,2408.4 318.6,2404.4 319.2,2408.4 319.8,2408.1 320.4,2406.4 321.0,2406.6 321.6,2406.8 322.2,2405.3 322.8,2406.3 323.4,2406.8 324.0,2408.0 324.6,2408.3 325.2,2405.8 325.8,2408.5 326.4,2405.9 327.0,2407.0 327.6,2408.0 328.2,2407.3 328.8,2407.2 329.4,2408.0 330.0,2406.6 330.6,2406.5 331.2,2407.3 331.8,2409.4 332.4,2407.6 333.0,2411.1 333.6,2408.3 334.2,2402.9 334.8,2407.3 335.4,2410.9 336.0,2408.2 336.6,2407.5 337.2,2406.8 337.8,2410.6 338.4,2410.1 339.0,2409.6 339.6,2409.2 340.2,2411.0 340.8,2410.0 341.4,2406.6 342.0,2410.1 342.6,2409.1 343.2,2408.7 343.8,2410.2 344.4,2409.0 345.0,2404.1 345.6,2411.8 346.2,2410.9 346.8,2409.0 347.4,2408.7 348.0,2409.7 348.6,2407.2 349.2,2410.0 349.8,2409.1 350.4,2409.0 351.0,2408.1 351.6,2408.5 352.2,2411.6 352.8,2412.1 353.4,2410.7 354.0,2409.8 354.6,2408.4 355.2,2411.2 355.8,2412.8 356.4,2407.3 357.0,2412.1 357.6,2406.5 358.2,2409.6 358.8,2410.9 359.4,2407.9 360.0,2407.7 360.6,2410.6 361.2,2411.8 361.8,2409.5 362.4,2412.7 363.0,2409.1 363.6,2413.4 364.2,2410.7 364.8,2410.9 365.4,2411.5 366.0,2411.1 366.6,2413.7 367.2,2414.3 367.8,2411.5 368.4,2410.3 369.0,2408.6 369.6,2409.4 370.2,2410.7 370.8,2410.5 371.4,2410.6 372.0,2410.7 372.6,2411.6 373.2,2408.5 373.8,2409.0 374.4,2412.7 375.0,2412.2 375.6,2409.9 376.2,2413.1 376.8,2409.7 377.4,2410.5 378.0,2407.8 378.6,2412.4 379.2,2410.9 379.8,2412.8 380.4,2412.2 381.0,2411.1 381.6,2411.2 382.2,2413.0 382.8,2410.7 383.4,2410.8 384.0,2411.1 384.6,2412.4 385.2,2412.6 385.8,2414.3 386.4,2410.9 387.0,2413.2 387.6,2410.0 388.2,2412.1 388.8,2411.3 389.4,2414.1 390.0,2412.2 390.6,2410.4 391.2,2412.1 391.8,2411.7 392.4,2410.6 393.0,2410.7 393.6,2409.6 394.2,2415.9 394.8,2411.4 395.4,2412.9 396.0,2409.2 396.6,2409.4 397.2,2411.0 397.8,2411.0 398.4,2412.6 399.0,2409.5 399.6,2412.2 400.2,2413.8 400.8,2409.7 401.4,2412.8 402.0,2409.6 402.6,2411.9 403.2,2411.9 403.8,2414.2 404.4,2410.1 405.0,2411.6 405.6,2413.1 406.2,2409.3 406.8,2411.3 407.4,2409.8 408.0,2410.1 408.6,2412.5 409.2,2412.5 409.8,2415.7 410.4,2413.7 411.0,2413.5 411.6,2411.0 412.2,2410.8 412.8,2411.6 413.4,2407.5 414.0,2414.2 414.6,2410.2 415.2,2409.5 415.8,2410.6 416.4,2412.8 417.0,2413.5 417.6,2410.7 418.2,2412.1 418.8,2411.2 419.4,2409.6 420.0,2411.6 420.6,2411.4 421.2,2408.7 421.8,2413.2 422.4,2408.7 423.0,2411.7 423.6,2409.6 424.2,2410.0 424.8,2410.1 425.4,2412.5 426.0,2409.2 426.6,2411.0 427.2,2414.0 427.8,2410.2 428.4,2411.3 429.0,2412.5 429.6,2410.3 430.2,2412.1 430.8,2410.2 431.4,2412.5 432.0,2411.4 432.6,2409.7 433.2,2413.7 433.8,2411.2 434.4,2410.8 435.0,2409.7 435.6,2410.5 436.2,2411.1 436.8,2411.6 437.4,2413.2 438.0,2409.1 438.6,2410.7 439.2,2413.3 439.8,2411.6 440.4,2412.0 441.0,2414.0 441.6,2411.8 442.2,2412.0 442.8,2411.2 443.4,2414.2 444.0,2413.0 444.6,2410.0 445.2,2412.1 445.8,2409.2 446.4,2413.0 447.0,2412.3 447.6,2410.9 448.2,2410.5 448.8,2408.1 449.4,2412.4 450.0,2410.9 450.6,2410.6 451.2,2412.3 451.8,2410.0 452.4,2410.1 453.0,2409.9 453.6,2408.7 454.2,2415.1 454.8,2410.7 455.4,2410.4 456.0,2412.5 456.6,2405.6 457.2,2410.9 457.8,2411.0 458.4,2409.3 459.0,2411.7 459.6,2407.5 460.2,2410.9 460.8,2412.4 461.4,2407.0 462.0,2408.3 462.6,2410.5 463.2,2410.7 463.8,2409.6 464.4,2411.3 465.0,2411.0 465.6,2408.3 466.2,2410.4 466.8,2408.4 467.4,2407.0 468.0,2406.4 468.6,2412.2 469.2,2410.2 469.8,2413.7 470.4,2407.9 471.0,2409.8 471.6,2410.9 472.2,2410.1 472.8,2411.2 473.4,2410.6 474.0,2409.3 474.6,2406.3 475.2,2408.7 475.8,2413.2 476.4,2411.6 477.0,2412.6 477.6,2409.3 478.2,2409.9 478.8,2408.7 479.4,2410.9 480.0,2410.3 480.6,2411.0 481.2,2413.2 481.8,2408.8 482.4,2411.4 483.0,2407.8 483.6,2412.0 484.2,2409.4 484.8,2410.0 485.4,2410.3 486.0,2412.9 486.6,2410.0 487.2,2409.2 487.8,2408.0 488.4,2410.5 489.0,2408.5 489.6,2409.1 490.2,2409.9 490.8,2411.1 491.4,2408.7 492.0,2411.0 492.6,2412.9 493.2,2407.3 493.8,2412.2 494.4,2413.5 495.0,2408.8 495.6,2410.8 496.2,2407.4 496.8,2410.3 497.4,2409.2 498.0,2410.2 498.6,2408.1 499.2,2408.3 499.8,2408.9 500.4,2408.4 501.0,2408.6 501.6,2409.2 502.2,2407.7 502.8,2409.3 503.4,2410.3 504.0,2405.6 504.6,2409.8 505.2,2408.2 505.8,2407.5 506.4,2407.1 507.0,2407.9 507.6,2408.1 508.2,2409.9 508.8,2407.2 509.4,2411.1 510.0,2407.9 510.6,2410.4 511.2,2411.1 511.8,2407.2 512.4,2411.0 513.0,2412.9 513.6,2408.5 514.2,2410.2 514.8,2409.0 515.4,2409.4 516.0,2408.9 516.6,2408.4 517.2,2410.5 517.8,2410.7 518.4,2409.2 519.0,2411.8 519.6,2411.1 520.2,2410.4 520.8,2408.0 521.4,2412.5 522.0,2411.5 522.6,2405.5 523.2,2407.3 523.8,2408.4 524.4,2410.8 525.0,2411.3 525.6,2408.7 526.2,2409.6 526.8,2410.3 527.4,2407.0 528.0,2410.1 528.6,2408.6 529.2,2409.4 529.8,2409.0 530.4,2407.1 531.0,2407.4 531.6,2409.1 532.2,2409.3 532.8,2408.6 533.4,2410.9 534.0,2408.4 534.6,2407.0 535.2,2408.4 535.8,2408.7 536.4,2408.8 537.0,2411.0 537.6,2409.8 538.2,2410.8 538.8,2410.0 539.4,2408.7 540.0,2410.7 540.6,2408.5 541.2,2409.3 541.8,2407.2 542.4,2409.1 543.0,2408.3 543.6,2409.5 544.2,2412.0 544.8,2412.9 545.4,2410.6 546.0,2408.8 546.6,2410.3 547.2,2409.2 547.8,2407.8 548.4,2408.7 549.0,2408.4 549.6,2407.8 550.2,2411.1 550.8,2407.9 551.4,2407.9 552.0,2410.0 552.6,2407.6 553.2,2406.8 553.8,2407.3 554.4,2409.6 555.0,2409.4 555.6,2409.2 556.2,2407.9 556.8,2407.2 557.4,2410.2 558.0,2406.2 558.6,2408.3 559.2,2406.4 559.8,2408.0 560.4,2408.4 561.0,2410.7 561.6,2403.8 562.2,2411.0 562.8,2407.1 563.4,2409.1 564.0,2410.0 564.6,2407.3 565.2,2408.4 565.8,2409.4 566.4,2408.4 567.0,2407.3 567.6,2408.9 568.2,2408.7 568.8,2406.0 569.4,2410.8 570.0,2408.9 570.6,2404.4 571.2,2407.1 571.8,2411.4 572.4,2411.2 573.0,2409.0 573.6,2405.6 574.2,2408.1 574.8,2410.3 575.4,2409.1 576.0,2407.9 576.6,2407.2 577.2,2409.8 577.8,2408.1 578.4,2409.0 579.0,2409.2 579.6,2411.2 580.2,2408.7 580.8,2408.8 581.4,2405.3 582.0,2410.2 582.6,2409.8 583.2,2408.3 583.8,2404.5 584.4,2407.3 585.0,2408.4 585.6,2411.9 586.2,2409.3 586.8,2409.6 587.4,2409.7 588.0,2410.5 588.6,2406.3 589.2,2406.8 589.8,2406.2 590.4,2407.7 591.0,2407.6 591.6,2408.4 592.2,2406.4 592.8,2408.3 593.4,2406.7 594.0,2411.7 594.6,2407.2 595.2,2412.5 595.8,2410.9 596.4,2406.1 597.0,2409.7 597.6,2409.1 598.2,2405.5 598.8,2409.1 599.4,2407.9 600.0,2408.6 600.6,2406.6 601.2,2407.9 601.8,2408.7 602.4,2407.7 603.0,2407.0 603.6,2407.7 604.2,2406.3 604.8,2408.5 605.4,2403.6 606.0,2410.5 606.6,2408.0 607.2,2408.7 607.8,2409.3 608.4,2405.8 609.0,2411.7 609.6,2405.9 610.2,2408.6 610.8,2408.4 611.4,2410.0 612.0,2407.8 612.6,2405.4 613.2,2408.3 613.8,2403.5 614.4,2407.4 615.0,2406.9 615.6,2410.3 616.2,2407.2 616.8,2406.9 617.4,2406.3 618.0,2406.1 618.6,2406.6 619.2,2408.6 619.8,2405.3 620.4,2407.2 621.0,2405.0 621.6,2407.2 622.2,2407.7 622.8,2405.3 623.4,2406.4 624.0,2407.5 624.6,2408.6 625.2,2408.8 625.8,2407.0 626.4,2405.4 627.0,2404.3 627.6,2408.3 628.2,2409.3 628.8,2407.5 629.4,2409.5 630.0,2406.0 630.6,2406.1 631.2,2409.3 631.8,2404.9 632.4,2407.5 633.0,2407.1 633.6,2406.6 634.2,2409.2 634.8,2404.7 635.4,2405.4 636.0,2402.5 636.6,2404.2 637.2,2405.0 637.8,2405.1 638.4,2405.3 639.0,2406.1 639.6,2404.4 640.2,2402.0 640.8,2405.6 641.4,2405.9 642.0,2403.1 642.6,2403.7 643.2,2407.9 643.8,2406.5 644.4,2406.5 645.0,2405.7 645.6,2404.7 646.2,2403.5 646.8,2405.2 647.4,2403.8 648.0,2403.2 648.6,2403.9 649.2,2403.6 649.8,2405.2 650.4,2401.9 651.0,2407.7 651.6,2401.5 652.2,2402.4 652.8,2404.6 653.4,2401.5 654.0,2401.9 654.6,2402.7 655.2,2397.4 655.8,2401.5 656.4,2400.6 657.0,2401.7 657.6,2402.8 658.2,2402.9 658.8,2404.3 659.4,2404.0 660.0,2403.2 660.6,2401.2 661.2,2402.9 661.8,2399.2 662.4,2400.6 663.0,2403.2 663.6,2401.9 664.2,2397.9 664.8,2399.2 665.4,2401.7 666.0,2401.0 666.6,2401.7 667.2,2396.4 667.8,2397.1 668.4,2398.7 669.0,2397.2 669.6,2398.8 670.2,2398.6 670.8,2399.1 671.4,2398.0 672.0,2399.0 672.6,2399.2 673.2,2397.9 673.8,2395.0 674.4,2399.5 675.0,2397.3 675.6,2397.4 676.2,2396.7 676.8,2393.0 677.4,2397.0 678.0,2394.3 678.6,2393.0 679.2,2397.6 679.8,2394.2 680.4,2395.1 681.0,2396.0 681.6,2397.1 682.2,2390.0 682.8,2391.8 683.4,2394.4 684.0,2391.4 684.6,2385.8 685.2,2392.4 685.8,2392.2 686.4,2393.1 687.0,2391.6 687.6,2389.8 688.2,2390.9 688.8,2390.0 689.4,2388.7 690.0,2389.9 690.6,2389.8 691.2,2386.5 691.8,2390.5 692.4,2389.7 693.0,2389.3 693.6,2381.2 694.2,2387.1 694.8,2386.1 695.4,2383.8 696.0,2386.9 696.6,2381.9 697.2,2387.6 697.8,2385.3 698.4,2382.8 699.0,2386.8 699.6,2384.1 700.2,2383.4 700.8,2379.1 701.4,2382.9 702.0,2384.4 702.6,2383.2 703.2,2377.0 703.8,2382.8 704.4,2382.7 705.0,2380.3 705.6,2376.8 706.2,2373.4 706.8,2374.2 707.4,2374.3 708.0,2375.8 708.6,2375.8 709.2,2371.8 709.8,2368.8 710.4,2371.1 711.0,2368.0 711.6,2374.0 712.2,2366.6 712.8,2370.2 713.4,2370.2 714.0,2364.5 714.6,2368.8 715.2,2364.7 715.8,2361.8 716.4,2360.1 717.0,2361.8 717.6,2363.3 718.2,2353.5 718.8,2359.3 719.4,2355.7 720.0,2352.5 720.6,2352.9 721.2,2351.7 721.8,2350.0 722.4,2351.0 723.0,2344.2 723.6,2351.5 724.2,2346.5 724.8,2340.2 725.4,2334.2 726.0,2338.5 726.6,2335.4 727.2,2337.3 727.8,2335.3 728.4,2337.3 729.0,2328.3 729.6,2329.3 730.2,2322.9 730.8,2320.7 731.4,2325.0 732.0,2316.5 732.6,2314.0 733.2,2310.3 733.8,2309.9 734.4,2307.7 735.0,2301.6 735.6,2294.0 736.2,2296.0 736.8,2287.4 737.4,2285.0 738.0,2282.9 738.6,2278.2 739.2,2261.8 739.8,2273.2 740.4,2263.1 741.0,2261.7 741.6,2257.8 742.2,2234.7 742.8,2229.0 743.4,2225.1 744.0,2220.1 744.6,2203.6 745.2,2194.5 745.8,2190.5 746.4,2167.5 747.0,2160.3 747.6,2151.4 748.2,2128.2 748.8,2117.9 749.4,2095.2 750.0,2068.3 750.6,2057.4 751.2,2040.9 751.8,2021.1 752.4,2005.5 753.0,1991.8 753.6,1976.5 754.2,1961.5 754.8,1943.4 755.4,1932.0 756.0,1919.1 756.6,1907.3 757.2,1912.5 757.8,1882.2 758.4,1890.3 759.0,1870.9 759.6,1873.7 760.2,1881.5 760.8,1874.1 761.4,1887.5 762.0,1873.4 762.6,1881.3 763.2,1883.1 763.8,1892.5 764.4,1895.7 765.0,1903.1 765.6,1921.0 766.2,1947.6 766.8,1962.4 767.4,1982.8 768.0,2000.4 768.6,2018.8 769.2,2036.0 769.8,2061.1 770.4,2090.2 771.0,2103.2 771.6,2141.7 772.2,2150.2 772.8,2157.6 773.4,2168.3 774.0,2182.0 774.6,2186.8 775.2,2192.2 775.8,2206.1 776.4,2215.5 777.0,2204.4 777.6,2222.6 778.2,2222.0 778.8,2226.5 779.4,2237.7 780.0,2251.6 780.6,2251.8 781.2,2256.7 781.8,2269.8 782.4,2269.9 783.0,2271.1 783.6,2282.4 784.2,2279.9 784.8,2277.8 785.4,2279.1 786.0,2284.5 786.6,2289.6 787.2,2295.5 787.8,2297.9 788.4,2297.9 789.0,2295.8 789.6,2306.7 790.2,2306.2 790.8,2304.4 791.4,2306.5 792.0,2314.2 792.6,2316.8 793.2,2320.4 793.8,2315.0 794.4,2327.9 795.0,2316.4 795.6,2324.3 796.2,2330.6 796.8,2331.0 797.4,2325.7 798.0,2332.4 798.6,2335.8 799.2,2335.5 799.8,2331.1 800.4,2341.1 801.0,2331.7 801.6,2338.4 802.2,2336.0 802.8,2339.3 803.4,2340.8 804.0,2344.6 804.6,2340.2 805.2,2346.0 805.8,2350.4 806.4,2347.7 807.0,2350.2 807.6,2350.8 808.2,2348.3 808.8,2350.4 809.4,2352.6 810.0,2354.7 810.6,2360.2 811.2,2359.9 811.8,2354.7 812.4,2355.7 813.0,2354.9 813.6,2352.1 814.2,2363.2 814.8,2361.8 815.4,2355.6 816.0,2361.9 816.6,2369.1 817.2,2364.6 817.8,2365.4 818.4,2365.2 819.0,2363.2 819.6,2362.7 820.2,2364.2 820.8,2367.4 821.4,2366.9 822.0,2369.9 822.6,2373.2 823.2,2370.6 823.8,2371.7 824.4,2369.1 825.0,2367.1 825.6,2376.5 826.2,2373.2 826.8,2374.8 827.4,2371.2 828.0,2368.3 828.6,2376.3 829.2,2367.9 829.8,2373.3 830.4,2372.8 831.0,2375.0 831.6,2376.8 832.2,2377.2 832.8,2370.3 833.4,2378.3 834.0,2371.4 834.6,2378.1 835.2,2375.7 835.8,2374.3 836.4,2376.0 837.0,2374.4 837.6,2377.8 838.2,2380.4 838.8,2380.3 839.4,2378.8 840.0,2381.6 840.6,2380.4 841.2,2384.6 841.8,2380.9 842.4,2378.5 843.0,2379.4 843.6,2378.6 844.2,2379.9 844.8,2380.5 845.4,2382.6 846.0,2383.1 846.6,2381.6 847.2,2382.6 847.8,2380.1 848.4,2380.8 849.0,2376.5 849.6,2380.7 850.2,2381.5 850.8,2388.8 851.4,2379.9 852.0,2383.4 852.6,2382.6 853.2,2380.0 853.8,2384.4 854.4,2384.0 855.0,2380.8 855.6,2379.0 856.2,2384.3 856.8,2381.4 857.4,2386.4 858.0,2384.4 858.6,2386.4 859.2,2384.7 859.8,2389.0 860.4,2387.3 861.0,2389.3 861.6,2386.4 862.2,2384.0 862.8,2383.4 863.4,2385.6 864.0,2387.5 864.6,2385.7 865.2,2392.6 865.8,2387.3 866.4,2388.6 867.0,2388.0 867.6,2385.2 868.2,2390.4 868.8,2389.7 869.4,2390.4 870.0,2386.6 870.6,2388.9 871.2,2388.9 871.8,2391.6 872.4,2386.3 873.0,2390.9 873.6,2392.3 874.2,2388.8 874.8,2388.1 875.4,2392.8 876.0,2390.6 876.6,2392.6 877.2,2391.9 877.8,2392.7 878.4,2390.1 879.0,2386.1 879.6,2391.9 880.2,2389.2 880.8,2392.0 881.4,2389.7 882.0,2394.3 882.6,2390.4 883.2,2392.7 883.8,2393.3 884.4,2390.9 885.0,2391.7 885.6,2391.1 886.2,2389.2 886.8,2394.3 887.4,2389.3 888.0,2387.9 888.6,2390.2 889.2,2391.5 889.8,2391.4 890.4,2390.6 891.0,2390.4 891.6,2386.9 892.2,2392.7 892.8,2395.0 893.4,2389.9 894.0,2387.7 894.6,2393.0 895.2,2391.2 895.8,2383.2 896.4,2390.0 897.0,2388.5 897.6,2389.2 898.2,2395.8 898.8,2393.8 899.4,2391.4 900.0,2391.8 900.6,2395.1 901.2,2389.6 901.8,2393.5 902.4,2390.6 903.0,2393.8 903.6,2392.5 904.2,2390.6 904.8,2394.4 905.4,2393.4 906.0,2396.1 906.6,2391.5 907.2,2392.7 907.8,2391.1 908.4,2395.1 909.0,2391.0 909.6,2392.6 910.2,2395.4 910.8,2393.9 911.4,2393.5 912.0,2393.5 912.6,2393.7 913.2,2394.4 913.8,2392.5 914.4,2389.1 915.0,2396.0 915.6,2391.1 916.2,2397.1 916.8,2393.9 917.4,2399.9 918.0,2395.9 918.6,2394.4 919.2,2395.4 919.8,2390.7 920.4,2394.0 921.0,2392.9 921.6,2393.7 922.2,2389.5 922.8,2389.2 923.4,2395.2 924.0,2393.9 924.6,2392.9 925.2,2393.6 925.8,2392.4 926.4,2392.8 927.0,2395.2 927.6,2393.3 928.2,2395.2 928.8,2392.3 929.4,2390.0 930.0,2392.4 930.6,2393.4 931.2,2391.4 931.8,2392.9 932.4,2392.7 933.0,2395.6 933.6,2395.4 934.2,2395.9 934.8,2392.1 935.4,2394.4 936.0,2396.3 936.6,2394.0 937.2,2393.5 937.8,2392.1 938.4,2395.3 939.0,2394.0 939.6,2395.6 940.2,2393.3 940.8,2397.8 941.4,2393.5 942.0,2391.0 942.6,2393.9 943.2,2394.5 943.8,2396.1 944.4,2392.5 945.0,2392.3 945.6,2392.9 946.2,2392.6 946.8,2389.0 947.4,2394.9 948.0,2395.9 948.6,2391.8 949.2,2391.3 949.8,2393.0 950.4,2391.6 951.0,2394.9 951.6,2392.0 952.2,2394.5 952.8,2390.6 953.4,2390.3 954.0,2390.0 954.6,2390.2 955.2,2394.0 955.8,2394.8 956.4,2393.4 957.0,2393.5 957.6,2388.5 958.2,2395.3 958.8,2390.4 959.4,2395.6 960.0,2397.9 960.6,2393.0 961.2,2394.1 961.8,2394.1 962.4,2390.1 963.0,2390.4 963.6,2391.3 964.2,2393.0 964.8,2394.4 965.4,2392.9 966.0,2394.9 966.6,2391.5 967.2,2389.6 967.8,2392.6 968.4,2392.3 969.0,2389.5 969.6,2394.5 970.2,2390.4 970.8,2390.8 971.4,2392.8 972.0,2390.0 972.6,2393.5 973.2,2393.0 973.8,2393.1 974.4,2392.1 975.0,2391.1 975.6,2390.5 976.2,2392.6 976.8,2394.8 977.4,2393.6 978.0,2392.7 978.6,2393.9 979.2,2394.6 979.8,2389.1 980.4,2391.6 981.0,2394.2 981.6,2390.2 982.2,2390.5 982.8,2392.7 983.4,2390.9 984.0,2393.8 984.6,2390.5 985.2,2392.3 985.8,2396.3 986.4,2393.3 987.0,2387.9 987.6,2388.5 988.2,2388.4 988.8,2390.4 989.4,2387.4 990.0,2391.4 990.6,2393.8 991.2,2393.3 991.8,2388.2 992.4,2389.1 993.0,2388.9 993.6,2387.7 994.2,2393.0 994.8,2387.7 995.4,2386.6 996.0,2389.6 996.6,2389.4 997.2,2391.8 997.8,2391.7 998.4,2387.8 999.0,2383.4 999.6,2389.3 1000.2,2389.4 1000.8,2391.4 1001.4,2383.8 1002.0,2384.5 1002.6,2390.2 1003.2,2390.1 1003.8,2389.1 1004.4,2385.9 1005.0,2388.5 1005.6,2384.0 1006.2,2382.0 1006.8,2384.3 1007.4,2384.3 1008.0,2385.5 1008.6,2385.7 1009.2,2378.6 1009.8,2382.9 1010.4,2382.9 1011.0,2378.2 1011.6,2380.1 1012.2,2380.3 1012.8,2380.7 1013.4,2377.0 1014.0,2377.0 1014.6,2375.2 1015.2,2378.1 1015.8,2375.9 1016.4,2374.6 1017.0,2377.0 1017.6,2374.3 1018.2,2371.1 1018.8,2376.4 1019.4,2375.3 1020.0,2373.3 1020.6,2368.7 1021.2,2373.6 1021.8,2368.5 1022.4,2364.4 1023.0,2368.3 1023.6,2372.7 1024.2,2366.0 1024.8,2368.0 1025.4,2369.5 1026.0,2365.5 1026.6,2363.4 1027.2,2363.5 1027.8,2364.2 1028.4,2360.3 1029.0,2361.8 1029.6,2361.5 1030.2,2357.8 1030.8,2360.0 1031.4,2358.5 1032.0,2354.9 1032.6,2354.2 1033.2,2353.9 1033.8,2352.0 1034.4,2350.7 1035.0,2347.0 1035.6,2349.2 1036.2,2349.8 1036.8,2348.3 1037.4,2342.4 1038.0,2345.4 1038.6,2344.1 1039.2,2337.7 1039.8,2340.6 1040.4,2336.6 1041.0,2334.0 1041.6,2334.1 1042.2,2330.6 1042.8,2321.6 1043.4,2327.8 1044.0,2321.1 1044.6,2322.5 1045.2,2323.1 1045.8,2317.8 1046.4,2314.9 1047.0,2315.0 1047.6,2314.4 1048.2,2307.7 1048.8,2306.6 1049.4,2309.2 1050.0,2311.8 1050.6,2304.4 1051.2,2306.3 1051.8,2298.8 1052.4,2300.3 1053.0,2299.2 1053.6,2292.6 1054.2,2296.2 1054.8,2294.2 1055.4,2283.7 1056.0,2292.1 1056.6,2292.4 1057.2,2291.1 1057.8,2290.2 1058.4,2283.4 1059.0,2283.8 1059.6,2285.0 1060.2,2281.3 1060.8,2281.9 1061.4,2287.9 1062.0,2278.4 1062.6,2279.8 1063.2,2287.9 1063.8,2279.1 1064.4,2274.7 1065.0,2279.1 1065.6,2278.0 1066.2,2277.0 1066.8,2268.8 1067.4,2276.1 1068.0,2275.8 1068.6,2282.1 1069.2,2275.6 1069.8,2270.3 1070.4,2272.9 1071.0,2273.8 1071.6,2269.9 1072.2,2269.9 1072.8,2275.4 1073.4,2271.4 1074.0,2271.3 1074.6,2264.8 1075.2,2270.7 1075.8,2260.8 1076.4,2274.2 1077.0,2267.3 1077.6,2272.3 1078.2,2276.0 1078.8,2266.1 1079.4,2276.3 1080.0,2273.1 1080.6,2277.9 1081.2,2272.5 1081.8,2272.1 1082.4,2281.4 1083.0,2278.9 1083.6,2278.6 1084.2,2274.9 1084.8,2286.2 1085.4,2280.8 1086.0,2282.5 1086.6,2281.9 1087.2,2286.1 1087.8,2289.7 1088.4,2288.5 1089.0,2290.0 1089.6,2290.0 1090.2,2299.9 1090.8,2302.6 1091.4,2297.6 1092.0,2297.9 1092.6,2304.8 1093.2,2300.5 1093.8,2310.1 1094.4,2313.0 1095.0,2315.4 1095.6,2323.2 1096.2,2326.8 1096.8,2324.7 1097.4,2324.6 1098.0,2331.9 1098.6,2334.7 1099.2,2329.3 1099.8,2333.0 1100.4,2336.5 1101.0,2334.0 1101.6,2337.6 1102.2,2347.9 1102.8,2340.8 1103.4,2349.0 1104.0,2345.8 1104.6,2352.8 1105.2,2352.5 1105.8,2355.8 1106.4,2350.9 1107.0,2357.3 1107.6,2356.4 1108.2,2361.5 1108.8,2362.8 1109.4,2362.7 1110.0,2363.2 1110.6,2364.7 1111.2,2366.5 1111.8,2365.6 1112.4,2366.8 1113.0,2367.2 1113.6,2367.1 1114.2,2373.2 1114.8,2368.1 1115.4,2375.5 1116.0,2374.8 1116.6,2369.6 1117.2,2370.0 1117.8,2375.3 1118.4,2373.3 1119.0,2376.8 1119.6,2379.4 1120.2,2378.6 1120.8,2377.8 1121.4,2378.4 1122.0,2382.7 1122.6,2378.9 1123.2,2384.2 1123.8,2385.3 1124.4,2380.1 1125.0,2382.0 1125.6,2385.5 1126.2,2380.4 1126.8,2383.2 1127.4,2384.9 1128.0,2380.5 1128.6,2383.9 1129.2,2383.7 1129.8,2382.5 1130.4,2387.3 1131.0,2383.9 1131.6,2389.4 1132.2,2386.2 1132.8,2383.3 1133.4,2385.7 1134.0,2383.7 1134.6,2387.3 1135.2,2387.2 1135.8,2383.4 1136.4,2385.3 1137.0,2387.4 1137.6,2386.7 1138.2,2384.6 1138.8,2389.2 1139.4,2389.9 1140.0,2384.1 1140.6,2390.5 1141.2,2383.2 1141.8,2387.4 1142.4,2386.4 1143.0,2386.8 1143.6,2388.4 1144.2,2385.8 1144.8,2388.1 1145.4,2392.0 1146.0,2389.5 1146.6,2391.8 1147.2,2390.6 1147.8,2385.6 1148.4,2392.7 1149.0,2390.9 1149.6,2390.6 1150.2,2388.6 1150.8,2388.4 1151.4,2387.4 1152.0,2389.4 1152.6,2390.0 1153.2,2389.6 1153.8,2389.7 1154.4,2386.1 1155.0,2388.7 1155.6,2388.7 1156.2,2391.0 1156.8,2389.6 1157.4,2389.7 1158.0,2390.8 1158.6,2389.8 1159.2,2390.3 1159.8,2393.1 1160.4,2390.7 1161.0,2389.3 1161.6,2392.4 1162.2,2392.9 1162.8,2392.6 1163.4,2388.8 1164.0,2393.3 1164.6,2391.6 1165.2,2391.9 1165.8,2391.8 1166.4,2392.6 1167.0,2392.8 1167.6,2394.8 1168.2,2392.4 1168.8,2391.8 1169.4,2393.2 1170.0,2391.8 1170.6,2394.2 1171.2,2392.4 1171.8,2393.6 1172.4,2391.1 1173.0,2394.1 1173.6,2393.4 1174.2,2390.5 1174.8,2391.4 1175.4,2392.3 1176.0,2389.5 1176.6,2390.0 1177.2,2393.1 1177.8,2393.1 1178.4,2394.7 1179.0,2389.6 1179.6,2391.4 1180.2,2388.1 1180.8,2395.5 1181.4,2389.5 1182.0,2391.6 1182.6,2395.8 1183.2,2394.8 1183.8,2390.3 1184.4,2396.4 1185.0,2392.9 1185.6,2390.0 1186.2,2392.5 1186.8,2393.2 1187.4,2393.2 1188.0,2387.7 1188.6,2395.5 1189.2,2388.7 1189.8,2391.4 1190.4,2394.6 1191.0,2392.6 1191.6,2391.7 1192.2,2390.6 1192.8,2392.9 1193.4,2394.5 1194.0,2390.6 1194.6,2392.5 1195.2,2391.0 1195.8,2390.8 1196.4,2387.6 1197.0,2392.1 1197.6,2393.5 1198.2,2391.3 1198.8,2393.7 1199.4,2391.9 1200.0,2394.0 1200.6,2391.8 1201.2,2390.8 1201.8,2390.5 1202.4,2391.7 1203.0,2392.1 1203.6,2389.9 1204.2,2391.1 1204.8,2388.8 1205.4,2388.8 1206.0,2392.7 1206.6,2392.1 1207.2,2393.1 1207.8,2391.6 1208.4,2391.8 1209.0,2394.9 1209.6,2389.6 1210.2,2391.8 1210.8,2394.3 1211.4,2395.2 1212.0,2392.3 1212.6,2390.9 1213.2,2389.0 1213.8,2390.8 1214.4,2391.4 1215.0,2391.1 1215.6,2392.0 1216.2,2392.1 1216.8,2390.0 1217.4,2389.2 1218.0,2390.3 1218.6,2391.8 1219.2,2394.1 1219.8,2387.6 1220.4,2392.9 1221.0,2390.2 1221.6,2392.9 1222.2,2394.5 1222.8,2391.7 1223.4,2388.4 1224.0,2389.9 1224.6,2391.4 1225.2,2390.0 1225.8,2390.5 1226.4,2389.1 1227.0,2390.1 1227.6,2389.3 1228.2,2392.2 1228.8,2391.1 1229.4,2392.0 1230.0,2387.3 1230.6,2389.6 1231.2,2389.0 1231.8,2389.6 1232.4,2388.7 1233.0,2389.0 1233.6,2393.5 1234.2,2389.8 1234.8,2387.8 1235.4,2389.7 1236.0,2394.7 1236.6,2391.7 1237.2,2388.4 1237.8,2389.7 1238.4,2390.0 1239.0,2390.2 1239.6,2386.4 1240.2,2388.2 1240.8,2389.7 1241.4,2386.5 1242.0,2389.5 1242.6,2390.0 1243.2,2391.3 1243.8,2391.8 1244.4,2389.2 1245.0,2389.9 1245.6,2390.7 1246.2,2391.2 1246.8,2389.2 1247.4,2387.4 1248.0,2390.0 1248.6,2390.4 1249.2,2388.8 1249.8,2389.5 1250.4,2391.4 1251.0,2387.0 1251.6,2386.4 1252.2,2385.4 1252.8,2388.2 1253.4,2389.2 1254.0,2386.0 1254.6,2390.6 1255.2,2385.4 1255.8,2387.0 1256.4,2386.0 1257.0,2388.9 1257.6,2384.4 1258.2,2389.0 1258.8,2384.9 1259.4,2382.2 1260.0,2383.6 1260.6,2384.2 1261.2,2387.9 1261.8,2383.0 1262.4,2383.7 1263.0,2388.0 1263.6,2383.6 1264.2,2381.6 1264.8,2381.1 1265.4,2379.0 1266.0,2382.9 1266.6,2384.5 1267.2,2380.7 1267.8,2378.8 1268.4,2381.4 1269.0,2380.5 1269.6,2379.8 1270.2,2380.7 1270.8,2379.4 1271.4,2378.1 1272.0,2380.7 1272.6,2373.8 1273.2,2375.0 1273.8,2376.4 1274.4,2373.5 1275.0,2379.6 1275.6,2370.4 1276.2,2376.7 1276.8,2375.8 1277.4,2374.7 1278.0,2374.3 1278.6,2371.3 1279.2,2370.3 1279.8,2374.9 1280.4,2370.4 1281.0,2366.4 1281.6,2366.3 1282.2,2364.8 1282.8,2368.5 1283.4,2370.0 1284.0,2365.5 1284.6,2365.9 1285.2,2363.4 1285.8,2366.1 1286.4,2365.1 1287.0,2364.2 1287.6,2365.4 1288.2,2356.1 1288.8,2360.3 1289.4,2352.5 1290.0,2357.3 1290.6,2356.1 1291.2,2354.3 1291.8,2352.8 1292.4,2348.4 1293.0,2345.1 1293.6,2347.3 1294.2,2341.2 1294.8,2343.2 1295.4,2336.3 1296.0,2337.8 1296.6,2335.3 1297.2,2329.4 1297.8,2328.7 1298.4,2330.2 1299.0,2324.7 1299.6,2323.7 1300.2,2317.4 1300.8,2316.6 1301.4,2307.7 1302.0,2306.3 1302.6,2309.4 1303.2,2302.5 1303.8,2295.9 1304.4,2291.5 1305.0,2280.7 1305.6,2282.2 1306.2,2270.2 1306.8,2266.5 1307.4,2266.6 1308.0,2254.5 1308.6,2248.5 1309.2,2242.9 1309.8,2236.0 1310.4,2233.6 1311.0,2211.4 1311.6,2209.5 1312.2,2206.6 1312.8,2194.0 1313.4,2186.5 1314.0,2175.7 1314.6,2169.3 1315.2,2165.2 1315.8,2159.5 1316.4,2146.2 1317.0,2144.0 1317.6,2130.0 1318.2,2114.2 1318.8,2123.3 1319.4,2104.6 1320.0,2114.7 1320.6,2116.1 1321.2,2112.7 1321.8,2122.5 1322.4,2126.5 1323.0,2137.2 1323.6,2142.4 1324.2,2155.2 1324.8,2158.0 1325.4,2171.0 1326.0,2175.0 1326.6,2183.6 1327.2,2191.0 1327.8,2196.8 1328.4,2213.4 1329.0,2219.9 1329.6,2215.9 1330.2,2229.6 1330.8,2250.8 1331.4,2249.8 1332.0,2269.5 1332.6,2265.2 1333.2,2270.4 1333.8,2271.7 1334.4,2277.5 1335.0,2283.6 1335.6,2290.9 1336.2,2292.1 1336.8,2295.7 1337.4,2296.1 1338.0,2301.8 1338.6,2305.4 1339.2,2309.8 1339.8,2310.9 1340.4,2312.6 1341.0,2318.0 1341.6,2313.4 1342.2,2318.9 1342.8,2323.3 1343.4,2329.2 1344.0,2327.7 1344.6,2328.4 1345.2,2335.7 1345.8,2335.1 1346.4,2341.3 1347.0,2338.3 1347.6,2338.4 1348.2,2341.0 1348.8,2348.8 1349.4,2349.6 1350.0,2347.0 1350.6,2350.9 1351.2,2345.3 1351.8,2354.0 1352.4,2352.6 1353.0,2352.6 1353.6,2354.0 1354.2,2355.6 1354.8,2354.7 1355.4,2355.8 1356.0,2354.5 1356.6,2362.6 1357.2,2356.9 1357.8,2359.5 1358.4,2363.2 1359.0,2364.3 1359.6,2365.5 1360.2,2360.9 1360.8,2361.9 1361.4,2363.4 1362.0,2359.5 1362.6,2366.9 1363.2,2361.2 1363.8,2365.4 1364.4,2368.5 1365.0,2368.9 1365.6,2366.2 1366.2,2370.0 1366.8,2370.8 1367.4,2364.5 1368.0,2368.4 1368.6,2371.1 1369.2,2370.9 1369.8,2369.8 1370.4,2370.4 1371.0,2376.6 1371.6,2370.5 1372.2,2374.3 1372.8,2369.3 1373.4,2373.7 1374.0,2375.2 1374.6,2372.1 1375.2,2371.9 1375.8,2378.0 1376.4,2373.5 1377.0,2376.7 1377.6,2371.2 1378.2,2378.8 1378.8,2370.5 1379.4,2373.3 1380.0,2374.3 1380.6,2375.8 1381.2,2376.6 1381.8,2380.1 1382.4,2381.5 1383.0,2381.2 1383.6,2379.1 1384.2,2377.9 1384.8,2373.0 1385.4,2377.7 1386.0,2376.8 1386.6,2379.7 1387.2,2376.3 1387.8,2376.8 1388.4,2377.2 1389.0,2380.5 1389.6,2379.6 1390.2,2377.0 1390.8,2375.6 1391.4,2378.3 1392.0,2378.2 1392.6,2378.5 1393.2,2379.9 1393.8,2381.4 1394.4,2381.6 1395.0,2378.4 1395.6,2378.2 1396.2,2383.2 1396.8,2379.2 1397.4,2381.3 1398.0,2380.0 1398.6,2380.3 1399.2,2382.8 1399.8,2378.6 1400.4,2381.4 1401.0,2379.9 1401.6,2378.1 1402.2,2377.1 1402.8,2376.7 1403.4,2380.2 1404.0,2379.6 1404.6,2375.1 1405.2,2377.6 1405.8,2372.1 1406.4,2376.1 1407.0,2380.3 1407.6,2372.4 1408.2,2375.5 1408.8,2372.9 1409.4,2374.2 1410.0,2371.1 1410.6,2373.6 1411.2,2367.2 1411.8,2371.7 1412.4,2371.1 1413.0,2371.2 1413.6,2375.9 1414.2,2367.7 1414.8,2368.4 1415.4,2366.3 1416.0,2370.4 1416.6,2368.7 1417.2,2365.3 1417.8,2370.0 1418.4,2367.8 1419.0,2370.1 1419.6,2367.9 1420.2,2365.5 1420.8,2362.7 1421.4,2358.5 1422.0,2361.8 1422.6,2365.6 1423.2,2361.3 1423.8,2358.9 1424.4,2361.1 1425.0,2361.6 1425.6,2366.3 1426.2,2355.4 1426.8,2356.3 1427.4,2353.3 1428.0,2353.5 1428.6,2357.2 1429.2,2353.5 1429.8,2348.8 1430.4,2355.8 1431.0,2356.1 1431.6,2352.4 1432.2,2346.4 1432.8,2345.2 1433.4,2351.1 1434.0,2343.4 1434.6,2343.7 1435.2,2340.1 1435.8,2349.1 1436.4,2340.4 1437.0,2340.8 1437.6,2338.0 1438.2,2337.1 1438.8,2334.5 1439.4,2340.3 1440.0,2333.6 1440.6,2339.1 1441.2,2329.2 1441.8,2333.5 1442.4,2333.8 1443.0,2325.7 1443.6,2328.8 1444.2,2324.8 1444.8,2321.7 1445.4,2322.4 1446.0,2316.1 1446.6,2319.9 1447.2,2314.1 1447.8,2320.0 1448.4,2321.4 1449.0,2319.5 1449.6,2310.4 1450.2,2310.8 1450.8,2316.6 1451.4,2312.4 1452.0,2308.3 1452.6,2296.5 1453.2,2301.1 1453.8,2308.4 1454.4,2299.8 1455.0,2294.1 1455.6,2293.8 1456.2,2300.2 1456.8,2293.4 1457.4,2280.8 1458.0,2278.7 1458.6,2280.6 1459.2,2283.0 1459.8,2271.9 1460.4,2269.9 1461.0,2258.9 1461.6,2264.1 1462.2,2266.3 1462.8,2263.3 1463.4,2251.4 1464.0,2258.0 1464.6,2247.8 1465.2,2242.1 1465.8,2247.5 1466.4,2234.8 1467.0,2236.7 1467.6,2231.4 1468.2,2231.2 1468.8,2229.5 1469.4,2223.2 1470.0,2218.5 1470.6,2217.5 1471.2,2206.5 1471.8,2215.8 1472.4,2225.0 1473.0,2215.7 1473.6,2218.5 1474.2,2212.0 1474.8,2211.2 1475.4,2212.4 1476.0,2212.6 1476.6,2211.4 1477.2,2203.1 1477.8,2206.2 1478.4,2197.3 1479.0,2208.6 1479.6,2201.8 1480.2,2199.0 1480.8,2192.3 1481.4,2199.2 1482.0,2199.5 1482.6,2194.0 1483.2,2193.7 1483.8,2180.6 1484.4,2186.5 1485.0,2179.5 1485.6,2164.0 1486.2,2178.3 1486.8,2170.6 1487.4,2174.2 1488.0,2170.5 1488.6,2168.3 1489.2,2177.5 1489.8,2167.3 1490.4,2169.1 1491.0,2169.7 1491.6,2162.0 1492.2,2156.2 1492.8,2163.7 1493.4,2166.5 1494.0,2168.0 1494.6,2180.0 1495.2,2191.8 1495.8,2194.4 1496.4,2201.1 1497.0,2203.7 1497.6,2201.3 1498.2,2204.3 1498.8,2203.5 1499.4,2220.6 1500.0,2218.9 1500.6,2231.8 1501.2,2244.3 1501.8,2244.0 1502.4,2242.6 1503.0,2249.4 1503.6,2256.9 1504.2,2268.4 1504.8,2265.2 1505.4,2269.8 1506.0,2269.4 1506.6,2278.8 1507.2,2281.1 1507.8,2287.1 1508.4,2283.2 1509.0,2292.4 1509.6,2287.4 1510.2,2293.4 1510.8,2296.9 1511.4,2301.2 1512.0,2306.4 1512.6,2299.3 1513.2,2310.5 1513.8,2312.2 1514.4,2311.7 1515.0,2318.0 1515.6,2323.3 1516.2,2322.7 1516.8,2325.1 1517.4,2331.3 1518.0,2328.7 1518.6,2336.7 1519.2,2336.4 1519.8,2338.3 1520.4,2340.4 1521.0,2344.0 1521.6,2339.3 1522.2,2346.6 1522.8,2341.7 1523.4,2346.9 1524.0,2349.0 1524.6,2348.9 1525.2,2346.4 1525.8,2347.4 1526.4,2348.9 1527.0,2353.2 1527.6,2354.9 1528.2,2357.1 1528.8,2352.2 1529.4,2358.4 1530.0,2361.3 1530.6,2359.9 1531.2,2360.3 1531.8,2363.4 1532.4,2366.3 1533.0,2366.8 1533.6,2367.6 1534.2,2360.8 1534.8,2368.7 1535.4,2364.7 1536.0,2368.4 1536.6,2365.2 1537.2,2368.3 1537.8,2366.5 1538.4,2367.8 1539.0,2374.1 1539.6,2366.7 1540.2,2372.8 1540.8,2371.1 1541.4,2368.7 1542.0,2375.3 1542.6,2372.6 1543.2,2371.7 1543.8,2374.4 1544.4,2372.1 1545.0,2378.7 1545.6,2371.5 1546.2,2374.3 1546.8,2371.2 1547.4,2377.1 1548.0,2378.9 1548.6,2379.5 1549.2,2381.4 1549.8,2378.1 1550.4,2377.5 1551.0,2381.1 1551.6,2377.9 1552.2,2380.4 1552.8,2378.9 1553.4,2378.6 1554.0,2380.5 1554.6,2383.4 1555.2,2383.2 1555.8,2381.7 1556.4,2375.7 1557.0,2381.9 1557.6,2382.9 1558.2,2383.5 1558.8,2380.8 1559.4,2384.9 1560.0,2383.5 1560.6,2378.6 1561.2,2384.7 1561.8,2386.8 1562.4,2383.8 1563.0,2381.6 1563.6,2387.6 1564.2,2385.9 1564.8,2379.6 1565.4,2386.2 1566.0,2384.8 1566.6,2384.7 1567.2,2380.2 1567.8,2380.5 1568.4,2384.7 1569.0,2388.7 1569.6,2384.9 1570.2,2384.8 1570.8,2383.3 1571.4,2383.9 1572.0,2387.1 1572.6,2383.2 1573.2,2389.1 1573.8,2386.1 1574.4,2385.8 1575.0,2384.9 1575.6,2383.7 1576.2,2384.8 1576.8,2382.2 1577.4,2385.6 1578.0,2381.3 1578.6,2390.4 1579.2,2385.4 1579.8,2382.3 1580.4,2386.2 1581.0,2386.0 1581.6,2384.5 1582.2,2386.3 1582.8,2384.1 1583.4,2385.6 1584.0,2385.5 1584.6,2387.0 1585.2,2384.8 1585.8,2386.6 1586.4,2379.9 1587.0,2388.4 1587.6,2386.5 1588.2,2387.3 1588.8,2385.6 1589.4,2388.1 1590.0,2386.1 1590.6,2386.7 1591.2,2386.4 1591.8,2385.1 1592.4,2384.3 1593.0,2387.5 1593.6,2387.7 1594.2,2386.2 1594.8,2389.0 1595.4,2386.5 1596.0,2387.3 1596.6,2388.5 1597.2,2387.6 1597.8,2385.6 1598.4,2383.5 1599.0,2384.2 1599.6,2383.4 1600.2,2387.3 1600.8,2377.7 1601.4,2389.7 1602.0,2383.2 1602.6,2387.4 1603.2,2385.5 1603.8,2385.9 1604.4,2381.7 1605.0,2386.6 1605.6,2384.0 1606.2,2385.4 1606.8,2381.7 1607.4,2383.5 1608.0,2381.8 1608.6,2383.8 1609.2,2384.5 1609.8,2382.2 1610.4,2383.5 1611.0,2383.4 1611.6,2381.8 1612.2,2381.1 1612.8,2377.0 1613.4,2383.7 1614.0,2381.4 1614.6,2380.1 1615.2,2380.9 1615.8,2379.0 1616.4,2379.2 1617.0,2380.8 1617.6,2375.8 1618.2,2378.4 1618.8,2379.4 1619.4,2374.9 1620.0,2375.7 1620.6,2381.0 1621.2,2382.9 1621.8,2378.1 1622.4,2378.7 1623.0,2374.7 1623.6,2379.6 1624.2,2375.9 1624.8,2375.8 1625.4,2376.2 1626.0,2373.4 1626.6,2372.6 1627.2,2373.8 1627.8,2370.8 1628.4,2371.4 1629.0,2365.9 1629.6,2369.3 1630.2,2372.5 1630.8,2373.6 1631.4,2371.8 1632.0,2367.5 1632.6,2369.3 1633.2,2366.1 1633.8,2365.1 1634.4,2369.9 1635.0,2365.7 1635.6,2365.2 1636.2,2365.9 1636.8,2367.2 1637.4,2364.4 1638.0,2362.8 1638.6,2363.7 1639.2,2361.8 1639.8,2360.5 1640.4,2354.6 1641.0,2357.5 1641.6,2358.8 1642.2,2355.5 1642.8,2362.8 1643.4,2363.1 1644.0,2360.6 1644.6,2352.1 1645.2,2355.1 1645.8,2353.8 1646.4,2352.5 1647.0,2345.7 1647.6,2352.0 1648.2,2353.1 1648.8,2349.3 1649.4,2352.1 1650.0,2343.5 1650.6,2345.4 1651.2,2346.1 1651.8,2337.9 1652.4,2339.2 1653.0,2336.1 1653.6,2340.1 1654.2,2332.5 1654.8,2336.0 1655.4,2332.2 1656.0,2335.7 1656.6,2330.0 1657.2,2330.0 1657.8,2330.2 1658.4,2325.7 1659.0,2325.6 1659.6,2325.0 1660.2,2322.9 1660.8,2324.2 1661.4,2319.3 1662.0,2320.8 1662.6,2317.9 1663.2,2315.1 1663.8,2311.7 1664.4,2307.1 1665.0,2309.5 1665.6,2312.1 1666.2,2306.9 1666.8,2311.7 1667.4,2300.6 1668.0,2300.8 1668.6,2294.3 1669.2,2302.6 1669.8,2291.2 1670.4,2296.3 1671.0,2293.9 1671.6,2301.2 1672.2,2294.7 1672.8,2291.1 1673.4,2287.1 1674.0,2292.5 1674.6,2282.0 1675.2,2276.9 1675.8,2283.8 1676.4,2278.4 1677.0,2274.2 1677.6,2276.8 1678.2,2276.0 1678.8,2265.9 1679.4,2274.9 1680.0,2277.8 1680.6,2266.5 1681.2,2260.5 1681.8,2266.9 1682.4,2264.2 1683.0,2267.2 1683.6,2267.0 1684.2,2261.9 1684.8,2268.6 1685.4,2253.4 1686.0,2258.6 1686.6,2262.6 1687.2,2263.9 1687.8,2262.5 1688.4,2265.7 1689.0,2259.3 1689.6,2256.2 1690.2,2271.0 1690.8,2274.6 1691.4,2270.6 1692.0,2267.3 1692.6,2270.9 1693.2,2278.1 1693.8,2278.1 1694.4,2284.3 1695.0,2287.5 1695.6,2287.9 1696.2,2284.2 1696.8,2291.8 1697.4,2292.1 1698.0,2293.6 1698.6,2296.1 1699.2,2297.7 1699.8,2296.8 1700.4,2304.6 1701.0,2302.9 1701.6,2307.9 1702.2,2313.2 1702.8,2315.3 1703.4,2308.0 1704.0,2314.4 1704.6,2315.1 1705.2,2322.0 1705.8,2320.6 1706.4,2328.4 1707.0,2325.7 1707.6,2330.7 1708.2,2327.8 1708.8,2330.3 1709.4,2333.5 1710.0,2337.4 1710.6,2331.0 1711.2,2339.3 1711.8,2336.0 1712.4,2342.6 1713.0,2338.1 1713.6,2343.7 1714.2,2350.1 1714.8,2352.3 1715.4,2346.4 1716.0,2355.8 1716.6,2350.9 1717.2,2353.6 1717.8,2356.3 1718.4,2356.4 1719.0,2358.3 1719.6,2359.0 1720.2,2362.0 1720.8,2361.3 1721.4,2360.5 1722.0,2360.0 1722.6,2360.8 1723.2,2364.3 1723.8,2367.2 1724.4,2366.8 1725.0,2365.9 1725.6,2368.4 1726.2,2366.3 1726.8,2368.6 1727.4,2369.9 1728.0,2368.3 1728.6,2373.1 1729.2,2373.0 1729.8,2369.9 1730.4,2372.6 1731.0,2372.0 1731.6,2372.8 1732.2,2373.2 1732.8,2376.1 1733.4,2374.0 1734.0,2374.4 1734.6,2376.3 1735.2,2376.6 1735.8,2379.0 1736.4,2373.3 1737.0,2377.2 1737.6,2371.5 1738.2,2376.3 1738.8,2373.5 1739.4,2373.8 1740.0,2376.9 1740.6,2375.0 1741.2,2377.1 1741.8,2371.7 1742.4,2381.5 1743.0,2372.3 1743.6,2377.2 1744.2,2382.9 1744.8,2376.1 1745.4,2383.4 1746.0,2382.2 1746.6,2379.6 1747.2,2379.2 1747.8,2379.5 1748.4,2380.9 1749.0,2382.7 1749.6,2383.6 1750.2,2375.9 1750.8,2382.8 1751.4,2382.3 1752.0,2378.2 1752.6,2383.1 1753.2,2383.2 1753.8,2383.2 1754.4,2381.0 1755.0,2383.0 1755.6,2384.1 1756.2,2379.9 1756.8,2380.3 1757.4,2380.1 1758.0,2384.2 1758.6,2381.6 1759.2,2379.9 1759.8,2379.3 1760.4,2378.8 1761.0,2382.2 1761.6,2383.7 1762.2,2384.7 1762.8,2379.6 1763.4,2379.7 1764.0,2379.8 1764.6,2380.0 1765.2,2378.6 1765.8,2385.4 1766.4,2383.1 1767.0,2380.9 1767.6,2376.3 1768.2,2385.1 1768.8,2383.8 1769.4,2382.4 1770.0,2383.7 1770.6,2380.6 1771.2,2383.6 1771.8,2381.0 1772.4,2383.2 1773.0,2381.9 1773.6,2379.3 1774.2,2379.8 1774.8,2384.7 1775.4,2384.5 1776.0,2381.9 1776.6,2380.7 1777.2,2381.3 1777.8,2383.1 1778.4,2379.2 1779.0,2384.5 1779.6,2380.4 1780.2,2379.7 1780.8,2382.1 1781.4,2386.4 1782.0,2380.4 1782.6,2381.0 1783.2,2379.1 1783.8,2382.1 1784.4,2382.0 1785.0,2381.1 1785.6,2380.0 1786.2,2381.5 1786.8,2382.3 1787.4,2379.1 1788.0,2379.3 1788.6,2378.1 1789.2,2377.9 1789.8,2381.7 1790.4,2376.2 1791.0,2378.6 1791.6,2380.2 1792.2,2376.2 1792.8,2378.4 1793.4,2378.4 1794.0,2372.7 1794.6,2378.1 1795.2,2372.9 1795.8,2375.2 1796.4,2370.8 1797.0,2370.1 1797.6,2373.0 1798.2,2377.1 1798.8,2379.0 1799.4,2379.1 1800.0,2375.2 1800.6,2374.4 1801.2,2372.9 1801.8,2372.2 1802.4,2369.1 1803.0,2368.5 1803.6,2370.3 1804.2,2369.9 1804.8,2366.7 1805.4,2364.8 1806.0,2365.5 1806.6,2375.7 1807.2,2364.6 1807.8,2369.8 1808.4,2368.7 1809.0,2367.8 1809.6,2362.7 1810.2,2369.2 1810.8,2364.0 1811.4,2361.0 1812.0,2360.0 1812.6,2360.9 1813.2,2366.5 1813.8,2356.5 1814.4,2357.5 1815.0,2358.8 1815.6,2359.5 1816.2,2354.4 1816.8,2354.0 1817.4,2354.5 1818.0,2357.4 1818.6,2354.3 1819.2,2353.5 1819.8,2354.1 1820.4,2353.2 1821.0,2355.0 1821.6,2349.5 1822.2,2351.1 1822.8,2348.5 1823.4,2352.0 1824.0,2351.7 1824.6,2347.9 1825.2,2351.6 1825.8,2346.9 1826.4,2351.1 1827.0,2345.0 1827.6,2344.3 1828.2,2340.4 1828.8,2341.3 1829.4,2342.6 1830.0,2336.6 1830.6,2342.5 1831.2,2344.6 1831.8,2343.0 1832.4,2341.3 1833.0,2342.1 1833.6,2337.6 1834.2,2337.2 1834.8,2340.7 1835.4,2337.0 1836.0,2340.0 1836.6,2334.6 1837.2,2337.7 1837.8,2338.8 1838.4,2333.9 1839.0,2339.0 1839.6,2338.0 1840.2,2324.2 1840.8,2340.3 1841.4,2325.5 1842.0,2338.5 1842.6,2326.7 1843.2,2321.9 1843.8,2323.9 1844.4,2329.4 1845.0,2323.8 1845.6,2324.7 1846.2,2330.3 1846.8,2322.1 1847.4,2326.8 1848.0,2329.0 1848.6,2317.7 1849.2,2319.5 1849.8,2323.9 1850.4,2322.6 1851.0,2323.2 1851.6,2314.7 1852.2,2318.3 1852.8,2322.1 1853.4,2322.3 1854.0,2324.2 1854.6,2317.8 1855.2,2316.1 1855.8,2314.6 1856.4,2314.2 1857.0,2309.5 1857.6,2322.2 1858.2,2313.9 1858.8,2312.2 1859.4,2311.7 1860.0,2315.3 1860.6,2312.9 1861.2,2308.9 1861.8,2314.8 1862.4,2311.4 1863.0,2309.0 1863.6,2309.1 1864.2,2313.0 1864.8,2310.7 1865.4,2307.2 1866.0,2311.0"/>
<path d="M135.6 1355.5V2444.8" stroke="#000" stroke-width="1.5"/>
<path d="M135.2 2427.4H1867.2" stroke="#000" stroke-width="1.5"/>
<path d="M382.5 2427.4V2444.8M629.9 2427.4V2444.8M877.2 2427.4V2444.8M1124.6 2427.4V2444.8M1372.0 2427.4V2444.8M1619.3 2427.4V2444.8M1866.7 2427.4V2444.8" stroke="#000" stroke-width="1.3"/>
<text x="135.2" y="2512.3" font-size="57" text-anchor="middle">0</text>
<text x="382.5" y="2512.3" font-size="57" text-anchor="middle">10</text>
<text x="629.9" y="2512.3" font-size="57" text-anchor="middle">20</text>
<text x="877.2" y="2512.3" font-size="57" text-anchor="middle">30</text>
<text x="1124.6" y="2512.3" font-size="57" text-anchor="middle">40</text>
<text x="1372.0" y="2512.3" font-size="57" text-anchor="middle">50</text>
<text x="1619.3" y="2512.3" font-size="57" text-anchor="middle">60</text>
<text x="1866.7" y="2512.3" font-size="57" text-anchor="middle">70</text>
<text x="930" y="2530.4" font-size="57" letter-spacing="0.6">2θ (°)</text>
<text transform="translate(105.4 1990.6) rotate(-90)" font-size="57.5" letter-spacing="0.6" text-anchor="middle">Intensity (a. u.)</text>
<path d="M743.3 1439.8L777.7 1474.2M743.3 1474.2L777.7 1439.8" stroke="#47412A" stroke-width="3.4" stroke-linecap="round" fill="none"/><path d="M760.5 1439.7V1474.3" stroke="#47412A" stroke-width="3.8" fill="none"/>
<path d="M1031.9 2313.2L1066.3 2347.6M1031.9 2347.6L1066.3 2313.2" stroke="#47412A" stroke-width="3.4" stroke-linecap="round" fill="none"/><path d="M1049.1 2313.1V2347.7" stroke="#47412A" stroke-width="3.8" fill="none"/>
<path d="M1053.0 2216.1L1087.4 2250.5M1053.0 2250.5L1087.4 2216.1" stroke="#47412A" stroke-width="3.4" stroke-linecap="round" fill="none"/><path d="M1070.2 2216.0V2250.6" stroke="#47412A" stroke-width="3.8" fill="none"/>
<path d="M1072.2 2313.2L1106.6 2347.6M1072.2 2347.6L1106.6 2313.2" stroke="#47412A" stroke-width="3.4" stroke-linecap="round" fill="none"/><path d="M1089.4 2313.1V2347.7" stroke="#47412A" stroke-width="3.8" fill="none"/>
<path d="M1306.5 2070.6L1340.9 2105.0M1306.5 2105.0L1340.9 2070.6" stroke="#47412A" stroke-width="3.4" stroke-linecap="round" fill="none"/><path d="M1323.7 2070.5V2105.1" stroke="#47412A" stroke-width="3.8" fill="none"/>
<path d="M1451.0 2216.1L1485.4 2250.5M1451.0 2250.5L1485.4 2216.1" stroke="#47412A" stroke-width="3.4" stroke-linecap="round" fill="none"/><path d="M1468.2 2216.0V2250.6" stroke="#47412A" stroke-width="3.8" fill="none"/>
<path d="M1479.9 2216.1L1514.3 2250.5M1479.9 2250.5L1514.3 2216.1" stroke="#47412A" stroke-width="3.4" stroke-linecap="round" fill="none"/><path d="M1497.1 2216.0V2250.6" stroke="#47412A" stroke-width="3.8" fill="none"/>
<path d="M1654.5 2371.4L1688.9 2405.8M1654.5 2405.8L1688.9 2371.4" stroke="#47412A" stroke-width="3.4" stroke-linecap="round" fill="none"/><path d="M1671.7 2371.3V2405.9" stroke="#47412A" stroke-width="3.8" fill="none"/>
<path d="M1668.6 2274.3L1703.0 2308.7M1668.6 2308.7L1703.0 2274.3" stroke="#47412A" stroke-width="3.4" stroke-linecap="round" fill="none"/><path d="M1685.8 2274.2V2308.8" stroke="#47412A" stroke-width="3.8" fill="none"/>
<path d="M1818.8 2352.0L1853.2 2386.4M1818.8 2386.4L1853.2 2352.0" stroke="#47412A" stroke-width="3.4" stroke-linecap="round" fill="none"/><path d="M1836.0 2351.9V2386.5" stroke="#47412A" stroke-width="3.8" fill="none"/>
<polyline fill="none" stroke="#DB4C4E" stroke-width="3.2" stroke-linejoin="round" points="383.2,3723.1 383.7,3723.0 384.2,3723.3 384.7,3723.5 385.2,3723.7 385.7,3723.4 386.2,3723.2 386.7,3723.2 387.2,3723.6 387.7,3723.9 388.2,3723.5 388.7,3723.0 389.2,3723.1 389.7,3723.9 390.2,3723.4 390.7,3722.9 391.2,3723.4 391.7,3723.0 392.2,3723.2 392.7,3723.2 393.2,3723.2 393.7,3723.6 394.2,3723.4 394.7,3723.2 395.2,3723.5 395.7,3723.6 396.2,3722.9 396.7,3723.3 397.2,3723.1 397.7,3723.3 398.2,3723.0 398.7,3723.4 399.2,3723.4 399.7,3723.3 400.2,3723.1 400.7,3723.3 401.2,3723.1 401.7,3723.0 402.2,3723.5 402.7,3723.1 403.2,3723.7 403.7,3723.6 404.2,3722.8 404.7,3723.5 405.2,3723.1 405.7,3723.4 406.2,3723.4 406.7,3722.8 407.2,3723.3 407.7,3723.3 408.2,3723.7 408.7,3723.0 409.2,3723.6 409.7,3723.1 410.2,3723.3 410.7,3723.1 411.2,3723.8 411.7,3723.6 412.2,3724.1 412.7,3723.6 413.2,3723.6 413.7,3723.6 414.2,3723.2 414.7,3723.4 415.2,3723.8 415.7,3723.3 416.2,3723.4 416.7,3723.4 417.2,3723.6 417.7,3723.3 418.2,3723.3 418.7,3723.5 419.2,3723.4 419.7,3723.1 420.2,3723.7 420.7,3723.0 421.2,3723.0 421.7,3723.0 422.2,3723.7 422.7,3723.3 423.2,3723.1 423.7,3723.0 424.2,3723.5 424.7,3723.1 425.2,3723.0 425.7,3723.6 426.2,3723.0 426.7,3723.3 427.2,3723.4 427.7,3723.2 428.2,3723.4 428.7,3723.8 429.2,3723.2 429.7,3723.0 430.2,3722.8 430.7,3723.3 431.2,3723.3 431.7,3723.5 432.2,3723.2 432.7,3723.2 433.2,3723.2 433.7,3723.2 434.2,3723.4 434.7,3723.3 435.2,3723.4 435.7,3723.9 436.2,3723.5 436.7,3722.9 437.2,3723.9 437.7,3723.5 438.2,3723.1 438.7,3723.7 439.2,3723.4 439.7,3723.2 440.2,3723.2 440.7,3723.1 441.2,3723.4 441.7,3723.7 442.2,3723.3 442.7,3723.5 443.2,3723.9 443.7,3723.0 444.2,3723.5 444.7,3723.3 445.2,3723.1 445.7,3723.1 446.2,3723.4 446.7,3723.5 447.2,3723.2 447.7,3723.4 448.2,3723.6 448.7,3723.5 449.2,3723.6 449.7,3723.5 450.2,3723.5 450.7,3723.9 451.2,3723.6 451.7,3723.4 452.2,3723.6 452.7,3723.1 453.2,3723.3 453.7,3723.6 454.2,3723.6 454.7,3723.8 455.2,3723.4 455.7,3722.9 456.2,3724.0 456.7,3723.7 457.2,3723.1 457.7,3723.8 458.2,3723.4 458.7,3722.8 459.2,3723.2 459.7,3723.2 460.2,3723.8 460.7,3723.1 461.2,3723.3 461.7,3723.3 462.2,3723.3 462.7,3723.1 463.2,3723.4 463.7,3723.7 464.2,3723.6 464.7,3723.1 465.2,3723.0 465.7,3723.4 466.2,3723.2 466.7,3723.2 467.2,3722.9 467.7,3724.0 468.2,3723.6 468.7,3723.1 469.2,3723.6 469.7,3723.8 470.2,3722.7 470.7,3723.2 471.2,3723.3 471.7,3723.6 472.2,3723.3 472.7,3723.3 473.2,3723.3 473.7,3723.9 474.2,3724.0 474.7,3723.2 475.2,3723.1 475.7,3724.2 476.2,3723.1 476.7,3723.2 477.2,3723.4 477.7,3723.5 478.2,3723.7 478.7,3723.5 479.2,3723.1 479.7,3723.5 480.2,3723.4 480.7,3723.9 481.2,3723.4 481.7,3723.0 482.2,3723.1 482.7,3723.8 483.2,3723.2 483.7,3722.7 484.2,3723.2 484.7,3723.4 485.2,3723.7 485.7,3723.1 486.2,3723.6 486.7,3723.6 487.2,3723.2 487.7,3723.3 488.2,3723.9 488.7,3723.9 489.2,3723.6 489.7,3723.5 490.2,3723.7 490.7,3723.3 491.2,3723.3 491.7,3723.1 492.2,3723.4 492.7,3723.3 493.2,3724.2 493.7,3723.3 494.2,3723.7 494.7,3723.8 495.2,3723.3 495.7,3723.7 496.2,3722.7 496.7,3723.4 497.2,3723.6 497.7,3722.6 498.2,3723.0 498.7,3723.7 499.2,3723.3 499.7,3723.0 500.2,3723.2 500.7,3723.2 501.2,3723.6 501.7,3723.5 502.2,3723.3 502.7,3723.2 503.2,3723.3 503.7,3723.8 504.2,3723.5 504.7,3723.5 505.2,3723.3 505.7,3723.0 506.2,3723.1 506.7,3723.5 507.2,3723.4 507.7,3723.1 508.2,3722.9 508.7,3723.4 509.2,3723.2 509.7,3723.2 510.2,3723.3 510.7,3723.4 511.2,3723.4 511.7,3723.6 512.2,3723.6 512.7,3723.7 513.2,3723.6 513.7,3723.2 514.2,3723.3 514.7,3723.5 515.2,3723.3 515.7,3723.5 516.2,3723.7 516.7,3723.1 517.2,3722.8 517.7,3723.7 518.2,3723.4 518.7,3723.6 519.2,3722.9 519.7,3723.9 520.2,3723.6 520.7,3723.3 521.2,3723.2 521.7,3723.4 522.2,3723.3 522.7,3723.3 523.2,3723.0 523.7,3723.7 524.2,3723.3 524.7,3723.4 525.2,3723.4 525.7,3722.6 526.2,3723.5 526.7,3723.2 527.2,3723.3 527.7,3723.4 528.2,3723.0 528.7,3723.6 529.2,3723.1 529.7,3723.1 530.2,3723.1 530.7,3723.4 531.2,3723.6 531.7,3723.2 532.2,3722.9 532.7,3723.7 533.2,3723.0 533.7,3723.7 534.2,3723.3 534.7,3723.1 535.2,3723.1 535.7,3723.5 536.2,3723.6 536.7,3723.3 537.2,3723.6 537.7,3724.0 538.2,3723.3 538.7,3723.0 539.2,3723.0 539.7,3722.9 540.2,3723.1 540.7,3723.1 541.2,3722.9 541.7,3723.5 542.2,3722.5 542.7,3722.9 543.2,3723.9 543.7,3723.6 544.2,3723.5 544.7,3723.5 545.2,3723.9 545.7,3723.5 546.2,3723.4 546.7,3723.0 547.2,3723.3 547.7,3723.1 548.2,3723.1 548.7,3723.1 549.2,3723.3 549.7,3723.2 550.2,3723.6 550.7,3722.9 551.2,3723.3 551.7,3723.9 552.2,3723.3 552.7,3723.7 553.2,3723.7 553.7,3723.7 554.2,3723.5 554.7,3722.9 555.2,3723.2 555.7,3723.2 556.2,3722.9 556.7,3723.2 557.2,3722.9 557.7,3722.8 558.2,3723.4 558.7,3723.3 559.2,3723.1 559.7,3723.0 560.2,3723.2 560.7,3723.2 561.2,3723.2 561.7,3723.3 562.2,3723.2 562.7,3723.4 563.2,3723.5 563.7,3723.4 564.2,3723.1 564.7,3723.1 565.2,3723.4 565.7,3723.3 566.2,3723.3 566.7,3722.6 567.2,3722.5 567.7,3723.4 568.2,3723.4 568.7,3723.7 569.2,3723.5 569.7,3723.4 570.2,3723.3 570.7,3722.9 571.2,3723.6 571.7,3723.1 572.2,3723.5 572.7,3723.4 573.2,3723.4 573.7,3723.6 574.2,3723.2 574.7,3723.2 575.2,3723.1 575.7,3723.2 576.2,3723.8 576.7,3723.2 577.2,3723.7 577.7,3723.6 578.2,3723.5 578.7,3723.5 579.2,3723.0 579.7,3723.4 580.2,3723.8 580.7,3723.1 581.2,3723.3 581.7,3723.1 582.2,3723.4 582.7,3723.0 583.2,3723.8 583.7,3723.2 584.2,3722.8 584.7,3723.8 585.2,3723.6 585.7,3723.5 586.2,3723.5 586.7,3723.2 587.2,3723.2 587.7,3723.5 588.2,3723.6 588.7,3723.6 589.2,3723.4 589.7,3723.2 590.2,3723.2 590.7,3723.6 591.2,3723.7 591.7,3723.2 592.2,3723.2 592.7,3723.7 593.2,3723.5 593.7,3723.5 594.2,3722.9 594.7,3723.2 595.2,3723.1 595.7,3723.4 596.2,3722.8 596.7,3723.7 597.2,3723.4 597.7,3723.4 598.2,3722.9 598.7,3723.3 599.2,3723.7 599.7,3722.8 600.2,3723.4 600.7,3723.5 601.2,3723.1 601.7,3723.5 602.2,3723.2 602.7,3723.7 603.2,3723.4 603.7,3723.4 604.2,3723.9 604.7,3723.5 605.2,3723.7 605.7,3722.9 606.2,3723.1 606.7,3723.5 607.2,3723.6 607.7,3723.3 608.2,3723.5 608.7,3723.0 609.2,3723.3 609.7,3722.9 610.2,3723.4 610.7,3723.1 611.2,3723.1 611.7,3723.3 612.2,3723.8 612.7,3723.0 613.2,3723.1 613.7,3723.6 614.2,3723.2 614.7,3723.8 615.2,3723.3 615.7,3723.3 616.2,3723.4 616.7,3723.8 617.2,3723.5 617.7,3723.4 618.2,3723.3 618.7,3722.8 619.2,3723.0 619.7,3723.7 620.2,3723.5 620.7,3723.4 621.2,3723.5 621.7,3723.1 622.2,3723.4 622.7,3723.0 623.2,3723.4 623.7,3723.1 624.2,3723.2 624.7,3723.4 625.2,3723.2 625.7,3723.5 626.2,3723.4 626.7,3723.4 627.2,3723.7 627.7,3722.8 628.2,3722.8 628.7,3723.4 629.2,3723.5 629.7,3723.9 630.2,3723.5 630.7,3723.5 631.2,3723.0 631.7,3723.5 632.2,3723.5 632.7,3722.9 633.2,3723.0 633.7,3723.2 634.2,3723.3 634.7,3722.4 635.2,3723.3 635.7,3723.3 636.2,3723.2 636.7,3723.3 637.2,3723.4 637.7,3723.0 638.2,3723.4 638.7,3723.2 639.2,3723.0 639.7,3723.3 640.2,3723.7 640.7,3722.8 641.2,3722.8 641.7,3722.8 642.2,3723.8 642.7,3723.2 643.2,3723.2 643.7,3723.0 644.2,3723.0 644.7,3722.6 645.2,3723.3 645.7,3723.3 646.2,3722.7 646.7,3722.9 647.2,3723.0 647.7,3723.2 648.2,3723.3 648.7,3723.6 649.2,3723.6 649.7,3723.6 650.2,3723.6 650.7,3722.9 651.2,3723.1 651.7,3723.6 652.2,3723.3 652.7,3723.2 653.2,3722.6 653.7,3722.7 654.2,3723.5 654.7,3723.3 655.2,3723.1 655.7,3723.1 656.2,3722.7 656.7,3723.3 657.2,3723.5 657.7,3723.7 658.2,3723.2 658.7,3723.2 659.2,3722.9 659.7,3723.6 660.2,3723.7 660.7,3723.0 661.2,3723.3 661.7,3723.2 662.2,3723.0 662.7,3722.5 663.2,3723.1 663.7,3723.4 664.2,3722.8 664.7,3723.0 665.2,3722.2 665.7,3723.6 666.2,3723.4 666.7,3723.2 667.2,3723.1 667.7,3723.0 668.2,3723.2 668.7,3723.1 669.2,3723.1 669.7,3723.2 670.2,3723.2 670.7,3723.7 671.2,3722.8 671.7,3723.3 672.2,3723.0 672.7,3722.9 673.2,3722.5 673.7,3723.4 674.2,3722.9 674.7,3723.0 675.2,3723.3 675.7,3722.9 676.2,3723.2 676.7,3723.2 677.2,3723.4 677.7,3723.5 678.2,3722.9 678.7,3723.5 679.2,3723.1 679.7,3723.2 680.2,3723.1 680.7,3723.4 681.2,3722.8 681.7,3723.3 682.2,3723.5 682.7,3723.1 683.2,3723.8 683.7,3722.9 684.2,3723.2 684.7,3723.0 685.2,3723.0 685.7,3722.8 686.2,3723.0 686.7,3723.1 687.2,3722.9 687.7,3723.4 688.2,3723.6 688.7,3722.7 689.2,3723.4 689.7,3723.2 690.2,3723.2 690.7,3723.9 691.2,3723.5 691.7,3723.2 692.2,3723.2 692.7,3722.5 693.2,3723.4 693.7,3722.9 694.2,3723.2 694.7,3723.2 695.2,3723.4 695.7,3723.7 696.2,3723.4 696.7,3723.5 697.2,3723.1 697.7,3723.3 698.2,3723.4 698.7,3722.7 699.2,3723.7 699.7,3722.9 700.2,3722.7 700.7,3723.6 701.2,3723.8 701.7,3722.9 702.2,3722.9 702.7,3724.0 703.2,3723.1 703.7,3722.5 704.2,3722.9 704.7,3723.7 705.2,3723.3 705.7,3723.3 706.2,3723.5 706.7,3723.3 707.2,3723.0 707.7,3722.6 708.2,3723.2 708.7,3722.8 709.2,3723.1 709.7,3723.6 710.2,3723.2 710.7,3723.1 711.2,3723.1 711.7,3723.3 712.2,3723.4 712.7,3722.7 713.2,3723.1 713.7,3723.6 714.2,3723.3 714.7,3722.8 715.2,3722.9 715.7,3722.4 716.2,3722.8 716.7,3723.5 717.2,3723.0 717.7,3722.8 718.2,3722.9 718.7,3723.0 719.2,3723.0 719.7,3722.9 720.2,3722.8 720.7,3723.2 721.2,3723.5 721.7,3722.9 722.2,3722.9 722.7,3723.4 723.2,3722.6 723.7,3722.9 724.2,3722.9 724.7,3723.1 725.2,3722.9 725.7,3722.8 726.2,3723.1 726.7,3722.7 727.2,3722.5 727.7,3722.4 728.2,3723.2 728.7,3722.5 729.2,3723.1 729.7,3723.2 730.2,3723.2 730.7,3722.9 731.2,3722.8 731.7,3723.0 732.2,3722.8 732.7,3722.6 733.2,3723.4 733.7,3722.7 734.2,3723.5 734.7,3723.1 735.2,3722.8 735.7,3723.1 736.2,3723.3 736.7,3722.6 737.2,3722.7 737.7,3722.7 738.2,3723.0 738.7,3723.1 739.2,3723.0 739.7,3722.7 740.2,3722.8 740.7,3723.3 741.2,3723.3 741.7,3723.0 742.2,3722.6 742.7,3723.1 743.2,3723.0 743.7,3723.0 744.2,3723.5 744.7,3723.2 745.2,3722.6 745.7,3722.6 746.2,3723.3 746.7,3723.0 747.2,3723.2 747.7,3722.9 748.2,3722.6 748.7,3723.0 749.2,3723.4 749.7,3723.0 750.2,3722.6 750.7,3722.8 751.2,3722.8 751.7,3723.0 752.2,3723.2 752.7,3723.5 753.2,3723.0 753.7,3722.8 754.2,3722.9 754.7,3722.9 755.2,3722.8 755.7,3722.9 756.2,3722.9 756.7,3722.5 757.2,3723.1 757.7,3722.8 758.2,3722.6 758.7,3723.0 759.2,3722.7 759.7,3723.4 760.2,3723.0 760.7,3722.9 761.2,3722.6 761.7,3722.7 762.2,3723.1 762.7,3722.6 763.2,3723.1 763.7,3722.2 764.2,3722.9 764.7,3723.1 765.2,3722.9 765.7,3722.8 766.2,3723.1 766.7,3722.6 767.2,3722.5 767.7,3722.8 768.2,3723.2 768.7,3722.9 769.2,3722.7 769.7,3722.9 770.2,3722.9 770.7,3722.4 771.2,3721.9 771.7,3722.5 772.2,3722.3 772.7,3722.6 773.2,3722.4 773.7,3722.5 774.2,3722.9 774.7,3722.8 775.2,3722.7 775.7,3723.3 776.2,3722.6 776.7,3722.6 777.2,3723.1 777.7,3722.4 778.2,3722.2 778.7,3723.1 779.2,3722.8 779.7,3722.9 780.2,3722.9 780.7,3723.0 781.2,3722.6 781.7,3722.7 782.2,3722.4 782.7,3722.7 783.2,3722.8 783.7,3722.6 784.2,3722.9 784.7,3723.6 785.2,3722.3 785.7,3722.9 786.2,3723.0 786.7,3723.0 787.2,3722.4 787.7,3723.0 788.2,3722.9 788.7,3722.6 789.2,3722.6 789.7,3722.7 790.2,3722.9 790.7,3722.9 791.2,3723.3 791.7,3722.5 792.2,3722.8 792.7,3722.5 793.2,3722.9 793.7,3722.7 794.2,3722.4 794.7,3722.2 795.2,3722.4 795.7,3722.7 796.2,3723.0 796.7,3722.8 797.2,3722.2 797.7,3722.4 798.2,3722.6 798.7,3722.5 799.2,3722.6 799.7,3722.8 800.2,3722.6 800.7,3722.3 801.2,3722.0 801.7,3722.4 802.2,3722.0 802.7,3722.5 803.2,3722.6 803.7,3722.1 804.2,3722.4 804.7,3722.4 805.2,3723.0 805.7,3722.6 806.2,3721.9 806.7,3722.6 807.2,3722.6 807.7,3722.4 808.2,3722.3 808.7,3722.6 809.2,3722.6 809.7,3722.5 810.2,3722.1 810.7,3722.3 811.2,3721.9 811.7,3721.9 812.2,3722.2 812.7,3722.1 813.2,3722.2 813.7,3723.1 814.2,3722.5 814.7,3722.1 815.2,3721.7 815.7,3722.1 816.2,3721.9 816.7,3721.7 817.2,3722.5 817.7,3722.2 818.2,3722.4 818.7,3723.2 819.2,3722.4 819.7,3722.3 820.2,3722.4 820.7,3722.2 821.2,3722.0 821.7,3722.2 822.2,3722.6 822.7,3722.2 823.2,3721.8 823.7,3721.9 824.2,3721.9 824.7,3722.2 825.2,3722.4 825.7,3722.3 826.2,3722.6 826.7,3722.1 827.2,3722.4 827.7,3722.3 828.2,3722.4 828.7,3721.6 829.2,3722.5 829.7,3721.7 830.2,3721.8 830.7,3722.4 831.2,3722.0 831.7,3722.7 832.2,3722.2 832.7,3721.8 833.2,3722.2 833.7,3722.0 834.2,3722.6 834.7,3722.6 835.2,3722.3 835.7,3722.0 836.2,3722.1 836.7,3722.4 837.2,3721.8 837.7,3721.8 838.2,3722.3 838.7,3722.3 839.2,3722.0 839.7,3722.0 840.2,3721.4 840.7,3722.4 841.2,3722.0 841.7,3721.6 842.2,3721.7 842.7,3721.7 843.2,3722.5 843.7,3722.2 844.2,3721.6 844.7,3722.5 845.2,3722.4 845.7,3721.6 846.2,3721.1 846.7,3722.2 847.2,3721.7 847.7,3721.9 848.2,3721.7 848.7,3722.3 849.2,3722.3 849.7,3722.1 850.2,3721.8 850.7,3721.9 851.2,3722.0 851.7,3721.4 852.2,3722.2 852.7,3721.7 853.2,3721.9 853.7,3721.8 854.2,3722.0 854.7,3722.1 855.2,3722.4 855.7,3721.6 856.2,3721.4 856.7,3721.7 857.2,3721.5 857.7,3721.9 858.2,3721.4 858.7,3721.7 859.2,3721.9 859.7,3721.9 860.2,3721.6 860.7,3722.0 861.2,3721.9 861.7,3721.0 862.2,3721.6 862.7,3721.5 863.2,3721.4 863.7,3721.2 864.2,3721.4 864.7,3721.5 865.2,3721.4 865.7,3721.7 866.2,3721.6 866.7,3721.1 867.2,3721.0 867.7,3721.5 868.2,3721.0 868.7,3721.2 869.2,3721.3 869.7,3721.4 870.2,3721.2 870.7,3721.4 871.2,3720.8 871.7,3721.1 872.2,3720.7 872.7,3720.9 873.2,3720.9 873.7,3720.5 874.2,3720.0 874.7,3721.0 875.2,3720.8 875.7,3720.7 876.2,3720.4 876.7,3720.4 877.2,3720.6 877.7,3720.5 878.2,3720.8 878.7,3720.4 879.2,3720.1 879.7,3720.4 880.2,3720.0 880.7,3720.2 881.2,3719.5 881.7,3719.9 882.2,3720.1 882.7,3719.6 883.2,3719.7 883.7,3719.8 884.2,3719.5 884.7,3719.9 885.2,3719.2 885.7,3719.1 886.2,3719.0 886.7,3718.3 887.2,3718.3 887.7,3718.7 888.2,3718.3 888.7,3718.7 889.2,3718.1 889.7,3718.0 890.2,3718.2 890.7,3717.8 891.2,3718.0 891.7,3717.1 892.2,3717.4 892.7,3717.3 893.2,3717.1 893.7,3717.2 894.2,3717.0 894.7,3716.5 895.2,3716.1 895.7,3716.4 896.2,3715.9 896.7,3716.0 897.2,3715.9 897.7,3715.4 898.2,3714.8 898.7,3714.8 899.2,3714.9 899.7,3714.4 900.2,3714.6 900.7,3714.0 901.2,3713.9 901.7,3713.4 902.2,3713.4 902.7,3713.5 903.2,3712.9 903.7,3712.7 904.2,3712.4 904.7,3712.6 905.2,3711.7 905.7,3711.8 906.2,3712.0 906.7,3711.9 907.2,3711.2 907.7,3711.2 908.2,3710.0 908.7,3710.5 909.2,3710.0 909.7,3709.1 910.2,3708.4 910.7,3708.2 911.2,3707.9 911.7,3707.2 912.2,3706.3 912.7,3705.6 913.2,3704.5 913.7,3702.6 914.2,3701.3 914.7,3699.1 915.2,3696.7 915.7,3692.2 916.2,3686.7 916.7,3677.7 917.2,3665.5 917.7,3646.4 918.2,3620.8 918.7,3586.8 919.2,3543.8 919.7,3492.6 920.2,3432.8 920.7,3370.4 921.2,3310.4 921.7,3259.9 922.2,3225.2 922.7,3212.6 923.2,3220.8 923.7,3247.6 924.2,3289.6 924.7,3342.2 925.2,3400.5 925.7,3458.4 926.2,3512.7 926.7,3559.5 927.2,3597.4 927.7,3627.8 928.2,3650.1 928.7,3667.3 929.2,3679.5 929.7,3687.7 930.2,3693.4 930.7,3697.6 931.2,3700.2 931.7,3702.1 932.2,3704.3 932.7,3704.6 933.2,3705.9 933.7,3706.9 934.2,3707.7 934.7,3708.3 935.2,3709.1 935.7,3709.5 936.2,3710.2 936.7,3710.8 937.2,3711.0 937.7,3711.4 938.2,3711.4 938.7,3711.6 939.2,3712.1 939.7,3712.7 940.2,3712.8 940.7,3713.2 941.2,3713.3 941.7,3713.5 942.2,3713.1 942.7,3713.8 943.2,3713.8 943.7,3714.3 944.2,3714.0 944.7,3714.0 945.2,3713.9 945.7,3714.1 946.2,3713.6 946.7,3714.1 947.2,3714.2 947.7,3714.6 948.2,3714.1 948.7,3714.4 949.2,3715.0 949.7,3714.3 950.2,3714.7 950.7,3714.4 951.2,3714.5 951.7,3714.7 952.2,3714.8 952.7,3714.4 953.2,3714.3 953.7,3715.1 954.2,3714.7 954.7,3714.8 955.2,3714.9 955.7,3714.8 956.2,3714.5 956.7,3714.5 957.2,3714.1 957.7,3714.6 958.2,3714.4 958.7,3714.5 959.2,3715.0 959.7,3714.7 960.2,3714.4 960.7,3714.0 961.2,3714.6 961.7,3714.8 962.2,3714.0 962.7,3714.3 963.2,3714.0 963.7,3714.1 964.2,3713.9 964.7,3713.5 965.2,3713.8 965.7,3713.4 966.2,3714.2 966.7,3714.0 967.2,3713.6 967.7,3713.6 968.2,3713.4 968.7,3713.3 969.2,3713.2 969.7,3712.9 970.2,3712.8 970.7,3712.3 971.2,3712.2 971.7,3712.1 972.2,3712.2 972.7,3711.8 973.2,3712.2 973.7,3711.4 974.2,3711.0 974.7,3710.9 975.2,3710.8 975.7,3710.6 976.2,3709.9 976.7,3709.0 977.2,3708.6 977.7,3708.3 978.2,3707.4 978.7,3706.8 979.2,3705.7 979.7,3705.1 980.2,3703.8 980.7,3702.1 981.2,3699.8 981.7,3696.5 982.2,3692.6 982.7,3687.2 983.2,3678.8 983.7,3665.3 984.2,3648.3 984.7,3624.5 985.2,3592.5 985.7,3552.0 986.2,3504.8 986.7,3451.5 987.2,3396.1 987.7,3344.3 988.2,3301.7 988.7,3274.1 989.2,3265.5 989.7,3274.8 990.2,3299.3 990.7,3336.7 991.2,3382.2 991.7,3431.8 992.2,3482.4 992.7,3528.8 993.2,3570.2 993.7,3604.7 994.2,3631.7 994.7,3652.5 995.2,3667.3 995.7,3678.4 996.2,3686.3 996.7,3691.6 997.2,3695.4 997.7,3697.7 998.2,3699.7 998.7,3701.2 999.2,3702.4 999.7,3703.1 1000.2,3703.7 1000.7,3704.4 1001.2,3705.3 1001.7,3705.4 1002.2,3705.5 1002.7,3705.9 1003.2,3706.5 1003.7,3706.9 1004.2,3707.3 1004.7,3707.0 1005.2,3707.6 1005.7,3707.2 1006.2,3707.4 1006.7,3707.3 1007.2,3707.7 1007.7,3707.9 1008.2,3707.6 1008.7,3707.4 1009.2,3707.1 1009.7,3707.5 1010.2,3707.3 1010.7,3707.3 1011.2,3707.0 1011.7,3706.9 1012.2,3706.8 1012.7,3706.9 1013.2,3706.9 1013.7,3706.4 1014.2,3706.3 1014.7,3705.8 1015.2,3705.6 1015.7,3704.9 1016.2,3705.2 1016.7,3704.7 1017.2,3704.5 1017.7,3703.4 1018.2,3703.1 1018.7,3702.2 1019.2,3701.9 1019.7,3701.0 1020.2,3700.4 1020.7,3699.2 1021.2,3698.4 1021.7,3696.9 1022.2,3695.8 1022.7,3693.9 1023.2,3692.0 1023.7,3689.9 1024.2,3687.1 1024.7,3682.9 1025.2,3677.9 1025.7,3671.2 1026.2,3660.7 1026.7,3644.7 1027.2,3622.2 1027.7,3590.2 1028.2,3545.8 1028.7,3486.5 1029.2,3411.7 1029.7,3321.8 1030.2,3220.3 1030.7,3111.6 1031.2,3008.2 1031.7,2920.9 1032.2,2860.7 1032.7,2836.6 1033.2,2848.1 1033.7,2889.3 1034.2,2954.1 1034.7,3036.3 1035.2,3131.0 1035.7,3229.2 1036.2,3322.8 1036.7,3406.9 1037.2,3478.2 1037.7,3536.4 1038.2,3580.9 1038.7,3614.7 1039.2,3639.2 1039.7,3656.9 1040.2,3668.4 1040.7,3677.3 1041.2,3682.8 1041.7,3686.9 1042.2,3690.9 1042.7,3693.3 1043.2,3695.6 1043.7,3697.0 1044.2,3698.6 1044.7,3699.8 1045.2,3701.1 1045.7,3701.9 1046.2,3703.4 1046.7,3703.5 1047.2,3705.0 1047.7,3705.2 1048.2,3706.2 1048.7,3706.6 1049.2,3707.2 1049.7,3708.0 1050.2,3708.1 1050.7,3708.3 1051.2,3709.1 1051.7,3709.6 1052.2,3709.1 1052.7,3710.4 1053.2,3710.8 1053.7,3710.3 1054.2,3711.1 1054.7,3711.7 1055.2,3711.4 1055.7,3711.9 1056.2,3712.2 1056.7,3712.7 1057.2,3713.1 1057.7,3713.0 1058.2,3713.3 1058.7,3713.7 1059.2,3713.8 1059.7,3713.8 1060.2,3714.5 1060.7,3713.8 1061.2,3714.5 1061.7,3714.5 1062.2,3714.6 1062.7,3715.0 1063.2,3715.1 1063.7,3716.0 1064.2,3715.6 1064.7,3715.7 1065.2,3716.2 1065.7,3716.2 1066.2,3715.5 1066.7,3716.2 1067.2,3716.6 1067.7,3716.3 1068.2,3716.7 1068.7,3716.6 1069.2,3717.0 1069.7,3716.5 1070.2,3716.6 1070.7,3717.1 1071.2,3717.4 1071.7,3717.9 1072.2,3717.5 1072.7,3717.5 1073.2,3718.1 1073.7,3717.9 1074.2,3718.6 1074.7,3718.1 1075.2,3717.6 1075.7,3718.1 1076.2,3718.1 1076.7,3718.1 1077.2,3718.3 1077.7,3718.4 1078.2,3718.6 1078.7,3718.6 1079.2,3719.0 1079.7,3719.1 1080.2,3719.1 1080.7,3719.2 1081.2,3718.6 1081.7,3718.8 1082.2,3719.1 1082.7,3719.5 1083.2,3719.1 1083.7,3719.4 1084.2,3719.7 1084.7,3720.3 1085.2,3719.8 1085.7,3719.6 1086.2,3720.2 1086.7,3720.0 1087.2,3719.9 1087.7,3720.4 1088.2,3719.8 1088.7,3720.2 1089.2,3720.2 1089.7,3720.5 1090.2,3719.9 1090.7,3719.9 1091.2,3720.2 1091.7,3720.3 1092.2,3720.4 1092.7,3720.3 1093.2,3720.6 1093.7,3720.7 1094.2,3720.6 1094.7,3720.2 1095.2,3720.9 1095.7,3720.2 1096.2,3720.6 1096.7,3721.0 1097.2,3720.5 1097.7,3721.1 1098.2,3721.3 1098.7,3721.3 1099.2,3720.9 1099.7,3721.1 1100.2,3720.7 1100.7,3721.0 1101.2,3721.0 1101.7,3720.8 1102.2,3720.8 1102.7,3720.7 1103.2,3720.1 1103.7,3720.7 1104.2,3720.5 1104.7,3720.9 1105.2,3720.3 1105.7,3719.9 1106.2,3719.9 1106.7,3719.5 1107.2,3719.0 1107.7,3718.6 1108.2,3718.0 1108.7,3718.2 1109.2,3718.4 1109.7,3717.2 1110.2,3717.3 1110.7,3717.7 1111.2,3717.5 1111.7,3717.5 1112.2,3717.0 1112.7,3717.5 1113.2,3718.0 1113.7,3718.3 1114.2,3718.5 1114.7,3718.5 1115.2,3719.2 1115.7,3719.0 1116.2,3719.4 1116.7,3719.7 1117.2,3720.7 1117.7,3720.4 1118.2,3720.8 1118.7,3720.3 1119.2,3721.4 1119.7,3721.4 1120.2,3720.8 1120.7,3720.9 1121.2,3722.0 1121.7,3721.3 1122.2,3722.1 1122.7,3721.5 1123.2,3720.9 1123.7,3722.0 1124.2,3721.8 1124.7,3721.9 1125.2,3721.5 1125.7,3721.6 1126.2,3722.0 1126.7,3721.5 1127.2,3721.1 1127.7,3722.0 1128.2,3721.6 1128.7,3722.1 1129.2,3721.6 1129.7,3721.6 1130.2,3721.7 1130.7,3721.1 1131.2,3722.1 1131.7,3721.6 1132.2,3721.7 1132.7,3722.2 1133.2,3721.8 1133.7,3722.1 1134.2,3721.9 1134.7,3722.1 1135.2,3721.9 1135.7,3722.2 1136.2,3721.8 1136.7,3722.0 1137.2,3721.7 1137.7,3722.2 1138.2,3721.2 1138.7,3721.9 1139.2,3722.0 1139.7,3722.0 1140.2,3721.9 1140.7,3722.3 1141.2,3722.5 1141.7,3721.7 1142.2,3721.3 1142.7,3721.6 1143.2,3721.7 1143.7,3721.9 1144.2,3721.9 1144.7,3722.3 1145.2,3721.8 1145.7,3721.9 1146.2,3722.0 1146.7,3721.7 1147.2,3721.9 1147.7,3722.8 1148.2,3722.0 1148.7,3721.7 1149.2,3721.3 1149.7,3722.3 1150.2,3721.9 1150.7,3721.8 1151.2,3722.7 1151.7,3722.4 1152.2,3721.5 1152.7,3721.9 1153.2,3722.3 1153.7,3722.3 1154.2,3721.7 1154.7,3722.6 1155.2,3722.6 1155.7,3721.7 1156.2,3721.5 1156.7,3721.6 1157.2,3722.3 1157.7,3722.4 1158.2,3722.1 1158.7,3721.9 1159.2,3722.1 1159.7,3722.3 1160.2,3721.7 1160.7,3721.6 1161.2,3722.1 1161.7,3722.5 1162.2,3722.2 1162.7,3722.2 1163.2,3721.9 1163.7,3722.4 1164.2,3721.6 1164.7,3722.1 1165.2,3722.0 1165.7,3722.1 1166.2,3721.9 1166.7,3722.4 1167.2,3722.1 1167.7,3722.0 1168.2,3722.3 1168.7,3722.1 1169.2,3722.0 1169.7,3722.0 1170.2,3722.4 1170.7,3721.9 1171.2,3722.1 1171.7,3722.1 1172.2,3722.3 1172.7,3722.1 1173.2,3722.8 1173.7,3721.7 1174.2,3722.4 1174.7,3722.2 1175.2,3722.5 1175.7,3721.7 1176.2,3722.6 1176.7,3721.8 1177.2,3722.4 1177.7,3722.4 1178.2,3722.2 1178.7,3722.0 1179.2,3722.0 1179.7,3722.3 1180.2,3722.0 1180.7,3721.6 1181.2,3721.7 1181.7,3722.5 1182.2,3722.5 1182.7,3722.4 1183.2,3722.3 1183.7,3722.4 1184.2,3722.4 1184.7,3722.3 1185.2,3722.0 1185.7,3722.0 1186.2,3721.9 1186.7,3722.3 1187.2,3722.0 1187.7,3722.2 1188.2,3722.7 1188.7,3722.2 1189.2,3722.6 1189.7,3722.8 1190.2,3721.7 1190.7,3721.9 1191.2,3722.4 1191.7,3722.1 1192.2,3722.5 1192.7,3722.5 1193.2,3722.2 1193.7,3722.6 1194.2,3722.8 1194.7,3722.6 1195.2,3722.1 1195.7,3722.3 1196.2,3722.2 1196.7,3722.8 1197.2,3722.3 1197.7,3722.1 1198.2,3722.3 1198.7,3722.5 1199.2,3722.2 1199.7,3722.4 1200.2,3722.3 1200.7,3722.6 1201.2,3722.6 1201.7,3722.4 1202.2,3722.2 1202.7,3722.5 1203.2,3722.1 1203.7,3722.7 1204.2,3722.5 1204.7,3722.4 1205.2,3721.6 1205.7,3723.1 1206.2,3722.8 1206.7,3722.8 1207.2,3722.4 1207.7,3722.6 1208.2,3723.2 1208.7,3722.2 1209.2,3722.6 1209.7,3722.6 1210.2,3722.4 1210.7,3722.5 1211.2,3722.1 1211.7,3722.6 1212.2,3722.0 1212.7,3723.0 1213.2,3722.6 1213.7,3722.2 1214.2,3721.8 1214.7,3722.4 1215.2,3722.6 1215.7,3722.1 1216.2,3722.9 1216.7,3722.5 1217.2,3722.3 1217.7,3722.0 1218.2,3722.4 1218.7,3722.4 1219.2,3722.6 1219.7,3722.8 1220.2,3722.4 1220.7,3722.6 1221.2,3722.9 1221.7,3722.6 1222.2,3722.4 1222.7,3722.6 1223.2,3722.3 1223.7,3722.6 1224.2,3722.5 1224.7,3722.1 1225.2,3722.6 1225.7,3722.5 1226.2,3722.7 1226.7,3722.1 1227.2,3722.8 1227.7,3722.8 1228.2,3722.4 1228.7,3722.4 1229.2,3722.5 1229.7,3722.5 1230.2,3722.7 1230.7,3722.2 1231.2,3722.1 1231.7,3722.4 1232.2,3723.0 1232.7,3722.3 1233.2,3722.2 1233.7,3722.2 1234.2,3722.5 1234.7,3722.8 1235.2,3722.2 1235.7,3722.5 1236.2,3722.5 1236.7,3722.6 1237.2,3722.5 1237.7,3722.8 1238.2,3722.7 1238.7,3722.3 1239.2,3723.2 1239.7,3722.1 1240.2,3722.1 1240.7,3722.8 1241.2,3722.5 1241.7,3722.4 1242.2,3722.5 1242.7,3722.7 1243.2,3722.3 1243.7,3722.3 1244.2,3722.1 1244.7,3722.2 1245.2,3722.2 1245.7,3722.8 1246.2,3722.5 1246.7,3722.6 1247.2,3722.3 1247.7,3722.8 1248.2,3722.0 1248.7,3722.6 1249.2,3722.7 1249.7,3722.3 1250.2,3722.2 1250.7,3722.6 1251.2,3722.2 1251.7,3722.2 1252.2,3722.5 1252.7,3722.1 1253.2,3722.4 1253.7,3723.1 1254.2,3722.3 1254.7,3722.7 1255.2,3722.1 1255.7,3722.5 1256.2,3722.4 1256.7,3722.4 1257.2,3722.7 1257.7,3723.1 1258.2,3722.4 1258.7,3722.8 1259.2,3722.5 1259.7,3722.7 1260.2,3722.3 1260.7,3722.2 1261.2,3722.4 1261.7,3722.2 1262.2,3722.4 1262.7,3722.1 1263.2,3722.4 1263.7,3722.5 1264.2,3723.0 1264.7,3722.9 1265.2,3722.6 1265.7,3722.3 1266.2,3722.6 1266.7,3722.7 1267.2,3722.3 1267.7,3722.1 1268.2,3721.9 1268.7,3722.4 1269.2,3723.0 1269.7,3722.3 1270.2,3722.5 1270.7,3722.5 1271.2,3722.5 1271.7,3722.6 1272.2,3721.8 1272.7,3722.3 1273.2,3722.5 1273.7,3722.3 1274.2,3722.7 1274.7,3722.2 1275.2,3722.6 1275.7,3722.8 1276.2,3722.2 1276.7,3722.3 1277.2,3722.2 1277.7,3722.5 1278.2,3721.6 1278.7,3721.8 1279.2,3722.2 1279.7,3722.5 1280.2,3722.4 1280.7,3722.0 1281.2,3722.7 1281.7,3722.2 1282.2,3722.0 1282.7,3722.3 1283.2,3722.6 1283.7,3722.1 1284.2,3721.7 1284.7,3721.9 1285.2,3722.1 1285.7,3722.4 1286.2,3721.8 1286.7,3722.1 1287.2,3721.7 1287.7,3722.0 1288.2,3721.6 1288.7,3721.8 1289.2,3721.4 1289.7,3721.6 1290.2,3721.4 1290.7,3721.2 1291.2,3722.1 1291.7,3722.1 1292.2,3721.8 1292.7,3721.5 1293.2,3722.0 1293.7,3721.5 1294.2,3721.6 1294.7,3721.8 1295.2,3721.4 1295.7,3721.7 1296.2,3721.2 1296.7,3721.1 1297.2,3721.1 1297.7,3720.6 1298.2,3720.5 1298.7,3720.9 1299.2,3720.0 1299.7,3720.8 1300.2,3720.3 1300.7,3720.4 1301.2,3720.1 1301.7,3719.8 1302.2,3719.9 1302.7,3719.1 1303.2,3718.7 1303.7,3718.7 1304.2,3717.7 1304.7,3717.7 1305.2,3716.9 1305.7,3715.6 1306.2,3714.1 1306.7,3712.1 1307.2,3710.7 1307.7,3706.1 1308.2,3701.0 1308.7,3694.5 1309.2,3684.9 1309.7,3672.7 1310.2,3657.7 1310.7,3640.1 1311.2,3620.4 1311.7,3599.9 1312.2,3580.3 1312.7,3563.0 1313.2,3550.1 1313.7,3542.7 1314.2,3541.0 1314.7,3546.1 1315.2,3554.0 1315.7,3564.2 1316.2,3578.7 1316.7,3593.6 1317.2,3610.0 1317.7,3627.0 1318.2,3643.3 1318.7,3658.3 1319.2,3671.5 1319.7,3682.6 1320.2,3691.9 1320.7,3699.0 1321.2,3705.2 1321.7,3708.6 1322.2,3711.5 1322.7,3713.6 1323.2,3715.4 1323.7,3716.5 1324.2,3717.4 1324.7,3717.8 1325.2,3718.4 1325.7,3719.0 1326.2,3719.6 1326.7,3719.6 1327.2,3719.7 1327.7,3719.6 1328.2,3719.8 1328.7,3720.4 1329.2,3720.4 1329.7,3720.6 1330.2,3720.5 1330.7,3720.9 1331.2,3720.5 1331.7,3720.8 1332.2,3721.0 1332.7,3721.5 1333.2,3721.2 1333.7,3721.2 1334.2,3721.6 1334.7,3721.6 1335.2,3722.0 1335.7,3721.8 1336.2,3721.8 1336.7,3721.8 1337.2,3722.1 1337.7,3721.7 1338.2,3721.5 1338.7,3722.3 1339.2,3721.9 1339.7,3722.1 1340.2,3722.3 1340.7,3722.4 1341.2,3721.3 1341.7,3721.9 1342.2,3722.6 1342.7,3721.7 1343.2,3722.4 1343.7,3722.2 1344.2,3722.0 1344.7,3722.3 1345.2,3721.8 1345.7,3722.5 1346.2,3722.7 1346.7,3722.0 1347.2,3722.2 1347.7,3722.8 1348.2,3722.6 1348.7,3722.4 1349.2,3722.9 1349.7,3722.0 1350.2,3722.4 1350.7,3722.5 1351.2,3722.4 1351.7,3722.8 1352.2,3722.0 1352.7,3722.6 1353.2,3722.3 1353.7,3722.9 1354.2,3722.9 1354.7,3722.4 1355.2,3722.3 1355.7,3722.6 1356.2,3722.4 1356.7,3722.5 1357.2,3722.8 1357.7,3722.5 1358.2,3723.2 1358.7,3722.7 1359.2,3722.5 1359.7,3722.3 1360.2,3722.5 1360.7,3723.0 1361.2,3722.9 1361.7,3723.1 1362.2,3723.1 1362.7,3722.9 1363.2,3722.5 1363.7,3722.7 1364.2,3722.8 1364.7,3722.2 1365.2,3722.8 1365.7,3722.4 1366.2,3722.7 1366.7,3722.6 1367.2,3722.9 1367.7,3723.6 1368.2,3722.4 1368.7,3722.8 1369.2,3723.4 1369.7,3722.5 1370.2,3722.7 1370.7,3722.8 1371.2,3722.9 1371.7,3722.3 1372.2,3722.9 1372.7,3723.0 1373.2,3723.6 1373.7,3722.8 1374.2,3722.7 1374.7,3722.9 1375.2,3722.1 1375.7,3722.9 1376.2,3723.3 1376.7,3722.8 1377.2,3722.8 1377.7,3722.8 1378.2,3722.9 1378.7,3722.5 1379.2,3723.3 1379.7,3722.7 1380.2,3722.7 1380.7,3723.4 1381.2,3722.9 1381.7,3722.8 1382.2,3723.4 1382.7,3722.9 1383.2,3723.2 1383.7,3722.7 1384.2,3722.4 1384.7,3723.0 1385.2,3723.3 1385.7,3722.8 1386.2,3723.0 1386.7,3723.1 1387.2,3723.0 1387.7,3722.9 1388.2,3723.2 1388.7,3723.0 1389.2,3722.8 1389.7,3723.3 1390.2,3723.2 1390.7,3723.1 1391.2,3723.2 1391.7,3722.2 1392.2,3723.0 1392.7,3723.0 1393.2,3722.4 1393.7,3723.6 1394.2,3723.1 1394.7,3722.8 1395.2,3722.9 1395.7,3723.0 1396.2,3723.0 1396.7,3722.5 1397.2,3722.9 1397.7,3723.1 1398.2,3723.2 1398.7,3723.2 1399.2,3722.7 1399.7,3722.8 1400.2,3723.1 1400.7,3722.8 1401.2,3723.1 1401.7,3722.7 1402.2,3723.2 1402.7,3723.0 1403.2,3723.2 1403.7,3723.0 1404.2,3722.8 1404.7,3722.6 1405.2,3723.0 1405.7,3722.8 1406.2,3722.6 1406.7,3722.9 1407.2,3723.3 1407.7,3723.4 1408.2,3723.3 1408.7,3723.4 1409.2,3722.9 1409.7,3723.0 1410.2,3722.7 1410.7,3722.8 1411.2,3723.5 1411.7,3723.2 1412.2,3723.2 1412.7,3723.8 1413.2,3723.6 1413.7,3722.8 1414.2,3723.3 1414.7,3722.8 1415.2,3723.3 1415.7,3722.5 1416.2,3722.8 1416.7,3722.8 1417.2,3723.7 1417.7,3722.5 1418.2,3723.4 1418.7,3723.4 1419.2,3723.1 1419.7,3723.3 1420.2,3723.8 1420.7,3723.1 1421.2,3723.0 1421.7,3723.5 1422.2,3723.3 1422.7,3722.7 1423.2,3723.1 1423.7,3723.2 1424.2,3722.7 1424.7,3722.8 1425.2,3722.9 1425.7,3722.7 1426.2,3723.2 1426.7,3723.2 1427.2,3722.4 1427.7,3722.9 1428.2,3723.1 1428.7,3722.7 1429.2,3723.0 1429.7,3723.2 1430.2,3722.6 1430.7,3723.0 1431.2,3722.4 1431.7,3723.3 1432.2,3722.9 1432.7,3722.6 1433.2,3722.5 1433.7,3722.6 1434.2,3723.5 1434.7,3722.8 1435.2,3722.9 1435.7,3723.0 1436.2,3722.6 1436.7,3723.3 1437.2,3722.3 1437.7,3723.3 1438.2,3722.8 1438.7,3723.1 1439.2,3723.2 1439.7,3723.3 1440.2,3722.7 1440.7,3723.3 1441.2,3723.1 1441.7,3723.0 1442.2,3723.0 1442.7,3723.4 1443.2,3723.2 1443.7,3723.5 1444.2,3723.3 1444.7,3722.5 1445.2,3723.0 1445.7,3723.4 1446.2,3722.8 1446.7,3722.6 1447.2,3722.4 1447.7,3723.7 1448.2,3722.8 1448.7,3723.1 1449.2,3722.7 1449.7,3723.2 1450.2,3723.6 1450.7,3722.6 1451.2,3723.0 1451.7,3722.8 1452.2,3722.5 1452.7,3722.8 1453.2,3723.1 1453.7,3723.4 1454.2,3723.5 1454.7,3723.1 1455.2,3722.6 1455.7,3723.3 1456.2,3723.1 1456.7,3723.1 1457.2,3722.7 1457.7,3723.0 1458.2,3723.7 1458.7,3723.5 1459.2,3723.4 1459.7,3723.3 1460.2,3722.9 1460.7,3723.1 1461.2,3723.1 1461.7,3723.2 1462.2,3722.9 1462.7,3722.8 1463.2,3723.4 1463.7,3722.9 1464.2,3723.3 1464.7,3723.0 1465.2,3723.3 1465.7,3723.2 1466.2,3723.3 1466.7,3723.3 1467.2,3722.7 1467.7,3722.6 1468.2,3723.0 1468.7,3723.5 1469.2,3722.8 1469.7,3722.7 1470.2,3723.7 1470.7,3722.6 1471.2,3722.8 1471.7,3722.9 1472.2,3722.8 1472.7,3722.8 1473.2,3723.3 1473.7,3723.1 1474.2,3723.1 1474.7,3722.5 1475.2,3723.2 1475.7,3723.0 1476.2,3723.0 1476.7,3723.2 1477.2,3723.1 1477.7,3723.0 1478.2,3723.1 1478.7,3722.8 1479.2,3722.7 1479.7,3722.6 1480.2,3723.3 1480.7,3722.8 1481.2,3723.0 1481.7,3723.3 1482.2,3723.5 1482.7,3722.8 1483.2,3723.0 1483.7,3723.0 1484.2,3722.5 1484.7,3722.8 1485.2,3723.8 1485.7,3722.9 1486.2,3723.4 1486.7,3723.1 1487.2,3723.4 1487.7,3723.3 1488.2,3723.0 1488.7,3722.5 1489.2,3723.3 1489.7,3723.1 1490.2,3723.0 1490.7,3723.1 1491.2,3722.6 1491.7,3722.9 1492.2,3722.8 1492.7,3722.4 1493.2,3722.4 1493.7,3722.8 1494.2,3722.1 1494.7,3723.0 1495.2,3723.0 1495.7,3722.7 1496.2,3722.8 1496.7,3722.2 1497.2,3722.8 1497.7,3722.9 1498.2,3722.8 1498.7,3723.0 1499.2,3722.6 1499.7,3723.2 1500.2,3722.8 1500.7,3722.8 1501.2,3722.9 1501.7,3722.3 1502.2,3722.2 1502.7,3722.8 1503.2,3722.1 1503.7,3722.3 1504.2,3722.8 1504.7,3722.1 1505.2,3722.1 1505.7,3722.0 1506.2,3722.1 1506.7,3722.9 1507.2,3722.5 1507.7,3722.6 1508.2,3721.7 1508.7,3721.5 1509.2,3721.8 1509.7,3722.5 1510.2,3722.5 1510.7,3721.5 1511.2,3721.5 1511.7,3722.2 1512.2,3722.0 1512.7,3722.0 1513.2,3722.0 1513.7,3721.5 1514.2,3721.7 1514.7,3721.6 1515.2,3721.9 1515.7,3721.4 1516.2,3720.8 1516.7,3721.7 1517.2,3721.8 1517.7,3721.4 1518.2,3720.9 1518.7,3720.6 1519.2,3721.1 1519.7,3720.5 1520.2,3720.7 1520.7,3720.6 1521.2,3720.2 1521.7,3719.4 1522.2,3720.0 1522.7,3719.3 1523.2,3718.9 1523.7,3719.1 1524.2,3718.9 1524.7,3718.5 1525.2,3718.3 1525.7,3717.2 1526.2,3717.5 1526.7,3717.3 1527.2,3716.1 1527.7,3715.3 1528.2,3714.5 1528.7,3713.8 1529.2,3711.8 1529.7,3709.6 1530.2,3706.5 1530.7,3703.4 1531.2,3697.8 1531.7,3689.7 1532.2,3680.1 1532.7,3665.9 1533.2,3649.4 1533.7,3628.4 1534.2,3604.8 1534.7,3578.7 1535.2,3551.0 1535.7,3523.3 1536.2,3497.6 1536.7,3477.3 1537.2,3464.0 1537.7,3458.4 1538.2,3460.2 1538.7,3468.0 1539.2,3479.3 1539.7,3492.1 1540.2,3508.5 1540.7,3525.3 1541.2,3544.2 1541.7,3564.4 1542.2,3585.5 1542.7,3606.1 1543.2,3624.9 1543.7,3643.4 1544.2,3658.3 1544.7,3672.0 1545.2,3682.9 1545.7,3691.1 1546.2,3698.3 1546.7,3703.4 1547.2,3707.1 1547.7,3710.8 1548.2,3712.3 1548.7,3713.6 1549.2,3715.4 1549.7,3715.8 1550.2,3716.5 1550.7,3716.5 1551.2,3717.8 1551.7,3718.3 1552.2,3719.0 1552.7,3718.4 1553.2,3719.3 1553.7,3719.7 1554.2,3719.7 1554.7,3719.7 1555.2,3719.4 1555.7,3720.2 1556.2,3720.1 1556.7,3719.9 1557.2,3720.8 1557.7,3720.7 1558.2,3720.8 1558.7,3721.5 1559.2,3720.9 1559.7,3720.5 1560.2,3720.6 1560.7,3721.5 1561.2,3721.3 1561.7,3721.2 1562.2,3720.9 1562.7,3721.3 1563.2,3721.3 1563.7,3721.7 1564.2,3721.5 1564.7,3721.5 1565.2,3721.8 1565.7,3721.7 1566.2,3722.0 1566.7,3720.9 1567.2,3721.6 1567.7,3722.4 1568.2,3722.1 1568.7,3721.8 1569.2,3722.1 1569.7,3722.0 1570.2,3722.1 1570.7,3722.7 1571.2,3722.1 1571.7,3722.3 1572.2,3722.0 1572.7,3722.1 1573.2,3721.9 1573.7,3722.2 1574.2,3722.2 1574.7,3722.3 1575.2,3722.4 1575.7,3722.5 1576.2,3722.6 1576.7,3722.4 1577.2,3722.9 1577.7,3722.7 1578.2,3722.9 1578.7,3722.5 1579.2,3722.9 1579.7,3722.6 1580.2,3722.0 1580.7,3722.5 1581.2,3722.5 1581.7,3722.1 1582.2,3722.3 1582.7,3722.4 1583.2,3723.3 1583.7,3722.7 1584.2,3723.2 1584.7,3722.9 1585.2,3723.0 1585.7,3722.9 1586.2,3722.2 1586.7,3723.0 1587.2,3722.3 1587.7,3722.8 1588.2,3722.6 1588.7,3723.2 1589.2,3723.0 1589.7,3723.2 1590.2,3722.8 1590.7,3722.7 1591.2,3722.9 1591.7,3723.4 1592.2,3722.9 1592.7,3722.7 1593.2,3722.3 1593.7,3722.5 1594.2,3722.7 1594.7,3722.9 1595.2,3722.9 1595.7,3722.7 1596.2,3722.8 1596.7,3723.2 1597.2,3723.3 1597.7,3723.1 1598.2,3723.2 1598.7,3723.1 1599.2,3723.3 1599.7,3722.4 1600.2,3722.6 1600.7,3722.8 1601.2,3722.9 1601.7,3723.1 1602.2,3722.2 1602.7,3722.8 1603.2,3722.8 1603.7,3722.5 1604.2,3722.7 1604.7,3723.0 1605.2,3722.9 1605.7,3722.7 1606.2,3722.8 1606.7,3722.7 1607.2,3723.0 1607.7,3722.7 1608.2,3723.0 1608.7,3722.6 1609.2,3722.7 1609.7,3722.4 1610.2,3722.7 1610.7,3723.0 1611.2,3722.4 1611.7,3722.6 1612.2,3722.8 1612.7,3722.6 1613.2,3723.0 1613.7,3722.4 1614.2,3723.0 1614.7,3723.1 1615.2,3723.2 1615.7,3722.7 1616.2,3722.5 1616.7,3722.2 1617.2,3722.9 1617.7,3723.0 1618.2,3722.8 1618.7,3722.8 1619.2,3722.9 1619.7,3722.6 1620.2,3722.3 1620.7,3722.3 1621.2,3722.5 1621.7,3722.4 1622.2,3722.2 1622.7,3722.6 1623.2,3722.4 1623.7,3722.9 1624.2,3722.7 1624.7,3722.9 1625.2,3722.3 1625.7,3722.3 1626.2,3722.2 1626.7,3722.8 1627.2,3723.6 1627.7,3722.7 1628.2,3722.5 1628.7,3722.7 1629.2,3722.6 1629.7,3722.9 1630.2,3722.6 1630.7,3722.4 1631.2,3722.1 1631.7,3722.7 1632.2,3722.9 1632.7,3722.7 1633.2,3722.4 1633.7,3722.5 1634.2,3722.5 1634.7,3722.8 1635.2,3722.6 1635.7,3723.0 1636.2,3722.5 1636.7,3722.4 1637.2,3723.1 1637.7,3722.3 1638.2,3722.3 1638.7,3723.2 1639.2,3722.6 1639.7,3723.1 1640.2,3721.8 1640.7,3722.9 1641.2,3722.5 1641.7,3722.6 1642.2,3722.7 1642.7,3721.7 1643.2,3722.2 1643.7,3722.6 1644.2,3723.5 1644.7,3722.3 1645.2,3723.2 1645.7,3722.7 1646.2,3722.8 1646.7,3722.2 1647.2,3722.6 1647.7,3722.2 1648.2,3722.0 1648.7,3722.8 1649.2,3722.2 1649.7,3722.2 1650.2,3722.6 1650.7,3722.1 1651.2,3722.0 1651.7,3722.4 1652.2,3722.4 1652.7,3722.8 1653.2,3721.9 1653.7,3722.5 1654.2,3722.5 1654.7,3722.1 1655.2,3722.2 1655.7,3722.2 1656.2,3721.9 1656.7,3721.8 1657.2,3722.4 1657.7,3721.8 1658.2,3721.8 1658.7,3722.3 1659.2,3721.9 1659.7,3721.9 1660.2,3721.6 1660.7,3721.6 1661.2,3721.5 1661.7,3721.5 1662.2,3722.3 1662.7,3721.6 1663.2,3721.1 1663.7,3721.5 1664.2,3722.0 1664.7,3721.4 1665.2,3721.7 1665.7,3721.4 1666.2,3721.1 1666.7,3721.4 1667.2,3721.2 1667.7,3721.5 1668.2,3721.6 1668.7,3721.3 1669.2,3722.1 1669.7,3720.9 1670.2,3721.6 1670.7,3721.2 1671.2,3721.4 1671.7,3721.1 1672.2,3720.1 1672.7,3720.6 1673.2,3720.9 1673.7,3720.5 1674.2,3720.0 1674.7,3720.1 1675.2,3720.2 1675.7,3720.3 1676.2,3719.6 1676.7,3719.6 1677.2,3719.1 1677.7,3718.8 1678.2,3718.8 1678.7,3719.1 1679.2,3718.6 1679.7,3717.9 1680.2,3717.6 1680.7,3717.4 1681.2,3716.7 1681.7,3716.0 1682.2,3715.4 1682.7,3714.8 1683.2,3713.4 1683.7,3712.3 1684.2,3709.5 1684.7,3707.0 1685.2,3703.1 1685.7,3697.9 1686.2,3690.0 1686.7,3680.1 1687.2,3667.4 1687.7,3651.2 1688.2,3631.8 1688.7,3609.9 1689.2,3585.6 1689.7,3561.1 1690.2,3536.9 1690.7,3516.0 1691.2,3500.6 1691.7,3491.4 1692.2,3489.5 1692.7,3493.9 1693.2,3503.4 1693.7,3513.7 1694.2,3525.2 1694.7,3537.2 1695.2,3548.4 1695.7,3560.1 1696.2,3573.3 1696.7,3588.2 1697.2,3603.3 1697.7,3619.4 1698.2,3634.8 1698.7,3649.8 1699.2,3663.7 1699.7,3675.1 1700.2,3685.1 1700.7,3693.4 1701.2,3699.3 1701.7,3704.8 1702.2,3707.8 1702.7,3710.5 1703.2,3712.4 1703.7,3713.7 1704.2,3715.4 1704.7,3716.0 1705.2,3717.1 1705.7,3717.0 1706.2,3717.9 1706.7,3718.4 1707.2,3718.3 1707.7,3718.6 1708.2,3718.2 1708.7,3719.8 1709.2,3719.4 1709.7,3719.8 1710.2,3719.6 1710.7,3720.0 1711.2,3719.7 1711.7,3720.4 1712.2,3720.4 1712.7,3720.3 1713.2,3720.7 1713.7,3720.1 1714.2,3720.8 1714.7,3720.7 1715.2,3721.4 1715.7,3721.2 1716.2,3721.0 1716.7,3721.0 1717.2,3722.1 1717.7,3720.9 1718.2,3721.9 1718.7,3721.6 1719.2,3721.6 1719.7,3720.9 1720.2,3721.7 1720.7,3721.4 1721.2,3721.3 1721.7,3721.8 1722.2,3721.4 1722.7,3721.8 1723.2,3721.4 1723.7,3721.9 1724.2,3721.9 1724.7,3721.5 1725.2,3721.5 1725.7,3721.6 1726.2,3721.7 1726.7,3721.7 1727.2,3722.4 1727.7,3722.0 1728.2,3721.8 1728.7,3721.8 1729.2,3721.7 1729.7,3722.0 1730.2,3721.9 1730.7,3721.8 1731.2,3721.8 1731.7,3721.9 1732.2,3721.7 1732.7,3722.1 1733.2,3721.8 1733.7,3722.2 1734.2,3721.9 1734.7,3722.2 1735.2,3721.9 1735.7,3721.5 1736.2,3721.7 1736.7,3722.0 1737.2,3722.2 1737.7,3722.2 1738.2,3722.3 1738.7,3722.3 1739.2,3722.2 1739.7,3722.3 1740.2,3722.1 1740.7,3722.3 1741.2,3722.1 1741.7,3722.1 1742.2,3722.2 1742.7,3722.8 1743.2,3721.7 1743.7,3722.0 1744.2,3722.1 1744.7,3722.3 1745.2,3722.2 1745.7,3722.7 1746.2,3721.7 1746.7,3722.7 1747.2,3721.8 1747.7,3722.0 1748.2,3722.3 1748.7,3722.2 1749.2,3722.2 1749.7,3722.2 1750.2,3722.3 1750.7,3722.5 1751.2,3722.3 1751.7,3721.8 1752.2,3721.9 1752.7,3722.6 1753.2,3722.7 1753.7,3722.4 1754.2,3722.5 1754.7,3722.2 1755.2,3722.8 1755.7,3722.0 1756.2,3722.0 1756.7,3721.9 1757.2,3722.6 1757.7,3721.9 1758.2,3722.2 1758.7,3721.7 1759.2,3721.6 1759.7,3722.4 1760.2,3722.3 1760.7,3722.3 1761.2,3722.1 1761.7,3721.9 1762.2,3721.9 1762.7,3721.6 1763.2,3721.8 1763.7,3722.3 1764.2,3721.9 1764.7,3721.5 1765.2,3721.8 1765.7,3721.5 1766.2,3721.5 1766.7,3721.7 1767.2,3721.5 1767.7,3721.3 1768.2,3722.1 1768.7,3722.1 1769.2,3721.5 1769.7,3721.8 1770.2,3721.1 1770.7,3721.0 1771.2,3721.1 1771.7,3720.4 1772.2,3720.0 1772.7,3718.2 1773.2,3718.1 1773.7,3716.7 1774.2,3715.3 1774.7,3713.2 1775.2,3711.5 1775.7,3709.8 1776.2,3707.8 1776.7,3706.0 1777.2,3704.6 1777.7,3703.7 1778.2,3703.1 1778.7,3703.1 1779.2,3703.6 1779.7,3704.5 1780.2,3705.3 1780.7,3706.2 1781.2,3707.4 1781.7,3707.6 1782.2,3708.9 1782.7,3710.1 1783.2,3711.6 1783.7,3713.0 1784.2,3714.1 1784.7,3715.2 1785.2,3716.2 1785.7,3717.7 1786.2,3718.5 1786.7,3718.8 1787.2,3719.5 1787.7,3720.1 1788.2,3720.6 1788.7,3720.5 1789.2,3721.2 1789.7,3721.2 1790.2,3720.8 1790.7,3720.9 1791.2,3720.7 1791.7,3720.8 1792.2,3721.1 1792.7,3721.5 1793.2,3721.4 1793.7,3721.1 1794.2,3720.9 1794.7,3720.8 1795.2,3721.0 1795.7,3720.7 1796.2,3721.0 1796.7,3720.7 1797.2,3720.8 1797.7,3720.5 1798.2,3721.2 1798.7,3720.9 1799.2,3720.5 1799.7,3720.1 1800.2,3720.4 1800.7,3720.4 1801.2,3719.7 1801.7,3719.9 1802.2,3720.4 1802.7,3719.7 1803.2,3719.3 1803.7,3719.4 1804.2,3719.6 1804.7,3718.7 1805.2,3718.4 1805.7,3718.2 1806.2,3717.9 1806.7,3717.9 1807.2,3717.2 1807.7,3715.9 1808.2,3716.0 1808.7,3715.1 1809.2,3714.1 1809.7,3712.4 1810.2,3710.1 1810.7,3707.3 1811.2,3702.7 1811.7,3696.7 1812.2,3689.3 1812.7,3679.0 1813.2,3667.3 1813.7,3651.5 1814.2,3634.5 1814.7,3614.4 1815.2,3594.4 1815.7,3575.4 1816.2,3557.5 1816.7,3544.8 1817.2,3537.0 1817.7,3536.4 1818.2,3539.9 1818.7,3548.1 1819.2,3557.1 1819.7,3567.5 1820.2,3576.7 1820.7,3584.4 1821.2,3591.3 1821.7,3598.9 1822.2,3607.0 1822.7,3616.3 1823.2,3627.1 1823.7,3638.9 1824.2,3650.3 1824.7,3661.7 1825.2,3672.3 1825.7,3682.0 1826.2,3690.1 1826.7,3696.7 1827.2,3702.3 1827.7,3706.9 1828.2,3709.2 1828.7,3711.5 1829.2,3713.2 1829.7,3714.2 1830.2,3715.7 1830.7,3716.0 1831.2,3716.7 1831.7,3716.4 1832.2,3717.3 1832.7,3717.3 1833.2,3717.1 1833.7,3717.9 1834.2,3718.0 1834.7,3717.9 1835.2,3717.9 1835.7,3717.5 1836.2,3718.0 1836.7,3717.4 1837.2,3717.3 1837.7,3716.9 1838.2,3716.2 1838.7,3714.8 1839.2,3713.6 1839.7,3711.5 1840.2,3709.0 1840.7,3704.8 1841.2,3700.6 1841.7,3694.7 1842.2,3687.9 1842.7,3681.1 1843.2,3672.9 1843.7,3664.9 1844.2,3658.2 1844.7,3652.5 1845.2,3649.2 1845.7,3648.7 1846.2,3650.1 1846.7,3653.8 1847.2,3657.5 1847.7,3660.5 1848.2,3664.9 1848.7,3667.9 1849.2,3670.7 1849.7,3673.3 1850.2,3675.8 1850.7,3678.9 1851.2,3682.2 1851.7,3687.1 1852.2,3691.1 1852.7,3696.1 1853.2,3700.1 1853.7,3704.2 1854.2,3707.3 1854.7,3710.9 1855.2,3713.1 1855.7,3714.9 1856.2,3716.6 1856.7,3717.7 1857.2,3717.9 1857.7,3718.8 1858.2,3719.1 1858.7,3720.0 1859.2,3720.1 1859.7,3720.0 1860.2,3720.2 1860.7,3720.5 1861.2,3720.0 1861.7,3720.7 1862.2,3721.3 1862.7,3720.5 1863.2,3720.7 1863.7,3720.8 1864.2,3721.3 1864.7,3721.0 1865.2,3721.8 1865.7,3721.3 1866.2,3721.2 1866.7,3721.1"/>
<path d="M135.6 2610.5V3748.7" stroke="#444" stroke-width="2.0"/>
<path d="M135.2 3731.3H1867.2" stroke="#000" stroke-width="1.5"/>
<path d="M382.5 3731.3V3748.7M629.9 3731.3V3748.7M877.2 3731.3V3748.7M1124.6 3731.3V3748.7M1372.0 3731.3V3748.7M1619.3 3731.3V3748.7M1866.7 3731.3V3748.7" stroke="#000" stroke-width="1.3"/>
<text x="135.2" y="3816.3" font-size="57" text-anchor="middle">0</text>
<text x="382.5" y="3816.3" font-size="57" text-anchor="middle">10</text>
<text x="629.9" y="3816.3" font-size="57" text-anchor="middle">20</text>
<text x="877.2" y="3816.3" font-size="57" text-anchor="middle">30</text>
<text x="1124.6" y="3816.3" font-size="57" text-anchor="middle">40</text>
<text x="1372.0" y="3816.3" font-size="57" text-anchor="middle">50</text>
<text x="1619.3" y="3816.3" font-size="57" text-anchor="middle">60</text>
<text x="1866.7" y="3816.3" font-size="57" text-anchor="middle">70</text>
<text x="930" y="3840.2" font-size="57" letter-spacing="0.6">2θ (°)</text>
<text transform="translate(105.0 3261.9) rotate(-90)" font-size="57.5" letter-spacing="0.15" text-anchor="middle">Intensity (a. u.)</text>
<path d="M903.8 3202.5L938.2 3236.9M903.8 3236.9L938.2 3202.5" stroke="#47412A" stroke-width="3.4" stroke-linecap="round" fill="none"/><path d="M921.0 3202.4V3237.0" stroke="#47412A" stroke-width="3.8" fill="none"/>
<path d="M969.4 3319.2L1003.8 3353.6M969.4 3353.6L1003.8 3319.2" stroke="#47412A" stroke-width="3.4" stroke-linecap="round" fill="none"/><path d="M986.6 3319.1V3353.7" stroke="#47412A" stroke-width="3.8" fill="none"/>
<path d="M1014.7 2816.5L1049.1 2850.9M1014.7 2850.9L1049.1 2816.5" stroke="#47412A" stroke-width="3.4" stroke-linecap="round" fill="none"/><path d="M1031.9 2816.4V2851.0" stroke="#47412A" stroke-width="3.8" fill="none"/>
<path d="M1293.9 3507.7L1328.3 3542.1M1293.9 3542.1L1328.3 3507.7" stroke="#47412A" stroke-width="3.4" stroke-linecap="round" fill="none"/><path d="M1311.1 3507.6V3542.2" stroke="#47412A" stroke-width="3.8" fill="none"/>
<path d="M1518.1 3426.9L1552.5 3461.3M1518.1 3461.3L1552.5 3426.9" stroke="#47412A" stroke-width="3.4" stroke-linecap="round" fill="none"/><path d="M1535.3 3426.8V3461.4" stroke="#47412A" stroke-width="3.8" fill="none"/>
<path d="M1672.9 3453.8L1707.3 3488.2M1672.9 3488.2L1707.3 3453.8" stroke="#47412A" stroke-width="3.4" stroke-linecap="round" fill="none"/><path d="M1690.1 3453.7V3488.3" stroke="#47412A" stroke-width="3.8" fill="none"/>
<path d="M1759.9 3678.2L1794.3 3712.6M1759.9 3712.6L1794.3 3678.2" stroke="#47412A" stroke-width="3.4" stroke-linecap="round" fill="none"/><path d="M1777.1 3678.1V3712.7" stroke="#47412A" stroke-width="3.8" fill="none"/>
<path d="M1799.1 3507.7L1833.5 3542.1M1799.1 3542.1L1833.5 3507.7" stroke="#47412A" stroke-width="3.4" stroke-linecap="round" fill="none"/><path d="M1816.3 3507.6V3542.2" stroke="#47412A" stroke-width="3.8" fill="none"/>
<path d="M1827.2 3615.4L1861.6 3649.8M1827.2 3649.8L1861.6 3615.4" stroke="#47412A" stroke-width="3.4" stroke-linecap="round" fill="none"/><path d="M1844.4 3615.3V3649.9" stroke="#47412A" stroke-width="3.8" fill="none"/>
<text x="1884" y="101.7" font-size="56" letter-spacing="1" text-anchor="end">(<tspan font-weight="bold">a</tspan>)</text>
<text x="1887.1" y="1354.2" font-size="56" letter-spacing="1" text-anchor="end">(<tspan font-weight="bold">b</tspan>)</text>
<text x="1879.5" y="2605" font-size="56" letter-spacing="1" text-anchor="end">(<tspan font-weight="bold">c</tspan>)</text>
<path d="M1199.5 174H1242.5" stroke="#DB4C4E" stroke-width="3.3" stroke-linecap="round"/>
<text x="1243.8" y="190.6" font-size="52.4">Product 1</text>
<path d="M1199.5 242H1242.5" stroke="#8CBB55" stroke-width="3.3" stroke-linecap="round"/>
<text x="1243.8" y="258.8" font-size="52.4">Product 2</text>
<path d="M1207.7 297.1L1236.3 325.7M1207.7 325.7L1236.3 297.1" stroke="#47412A" stroke-width="3.5" stroke-linecap="round" fill="none"/><path d="M1222.0 296.2V326.6" stroke="#47412A" stroke-width="3.7" fill="none"/>
<text x="1246.8" y="327" font-size="52.4">Anatase (00-021-1272)</text>
<path d="M1175.5 1426.7H1218" stroke="#08A6BF" stroke-width="3.4" stroke-linecap="round"/>
<text x="1221.5" y="1444" font-size="56">Product 3</text>
<path d="M1175.6 1493H1218" stroke="#000" stroke-width="1.3"/>
<text x="1221.5" y="1510.6" font-size="56">Product 4</text>
<path d="M1182.2 1546.2L1212.8 1576.8M1182.2 1576.8L1212.8 1546.2" stroke="#47412A" stroke-width="3.6" stroke-linecap="round" fill="none"/><path d="M1197.5 1545.1V1577.9" stroke="#47412A" stroke-width="3.7" fill="none"/>
<text x="1227" y="1578.3" font-size="56">Anatase (00-021-1272)</text>
<path d="M1177.5 2679.8H1220.5" stroke="#DB4C4E" stroke-width="3.4" stroke-linecap="round"/>
<text x="1224" y="2698" font-size="56">Product 5</text>
<path d="M1184.7 2730.7L1215.3 2761.3M1184.7 2761.3L1215.3 2730.7" stroke="#47412A" stroke-width="3.6" stroke-linecap="round" fill="none"/><path d="M1200.0 2729.6V2762.4" stroke="#47412A" stroke-width="3.7" fill="none"/>
<text x="1230" y="2762.2" font-size="56">Wurtzite (00-036-1451)</text>
</svg></body></html>
